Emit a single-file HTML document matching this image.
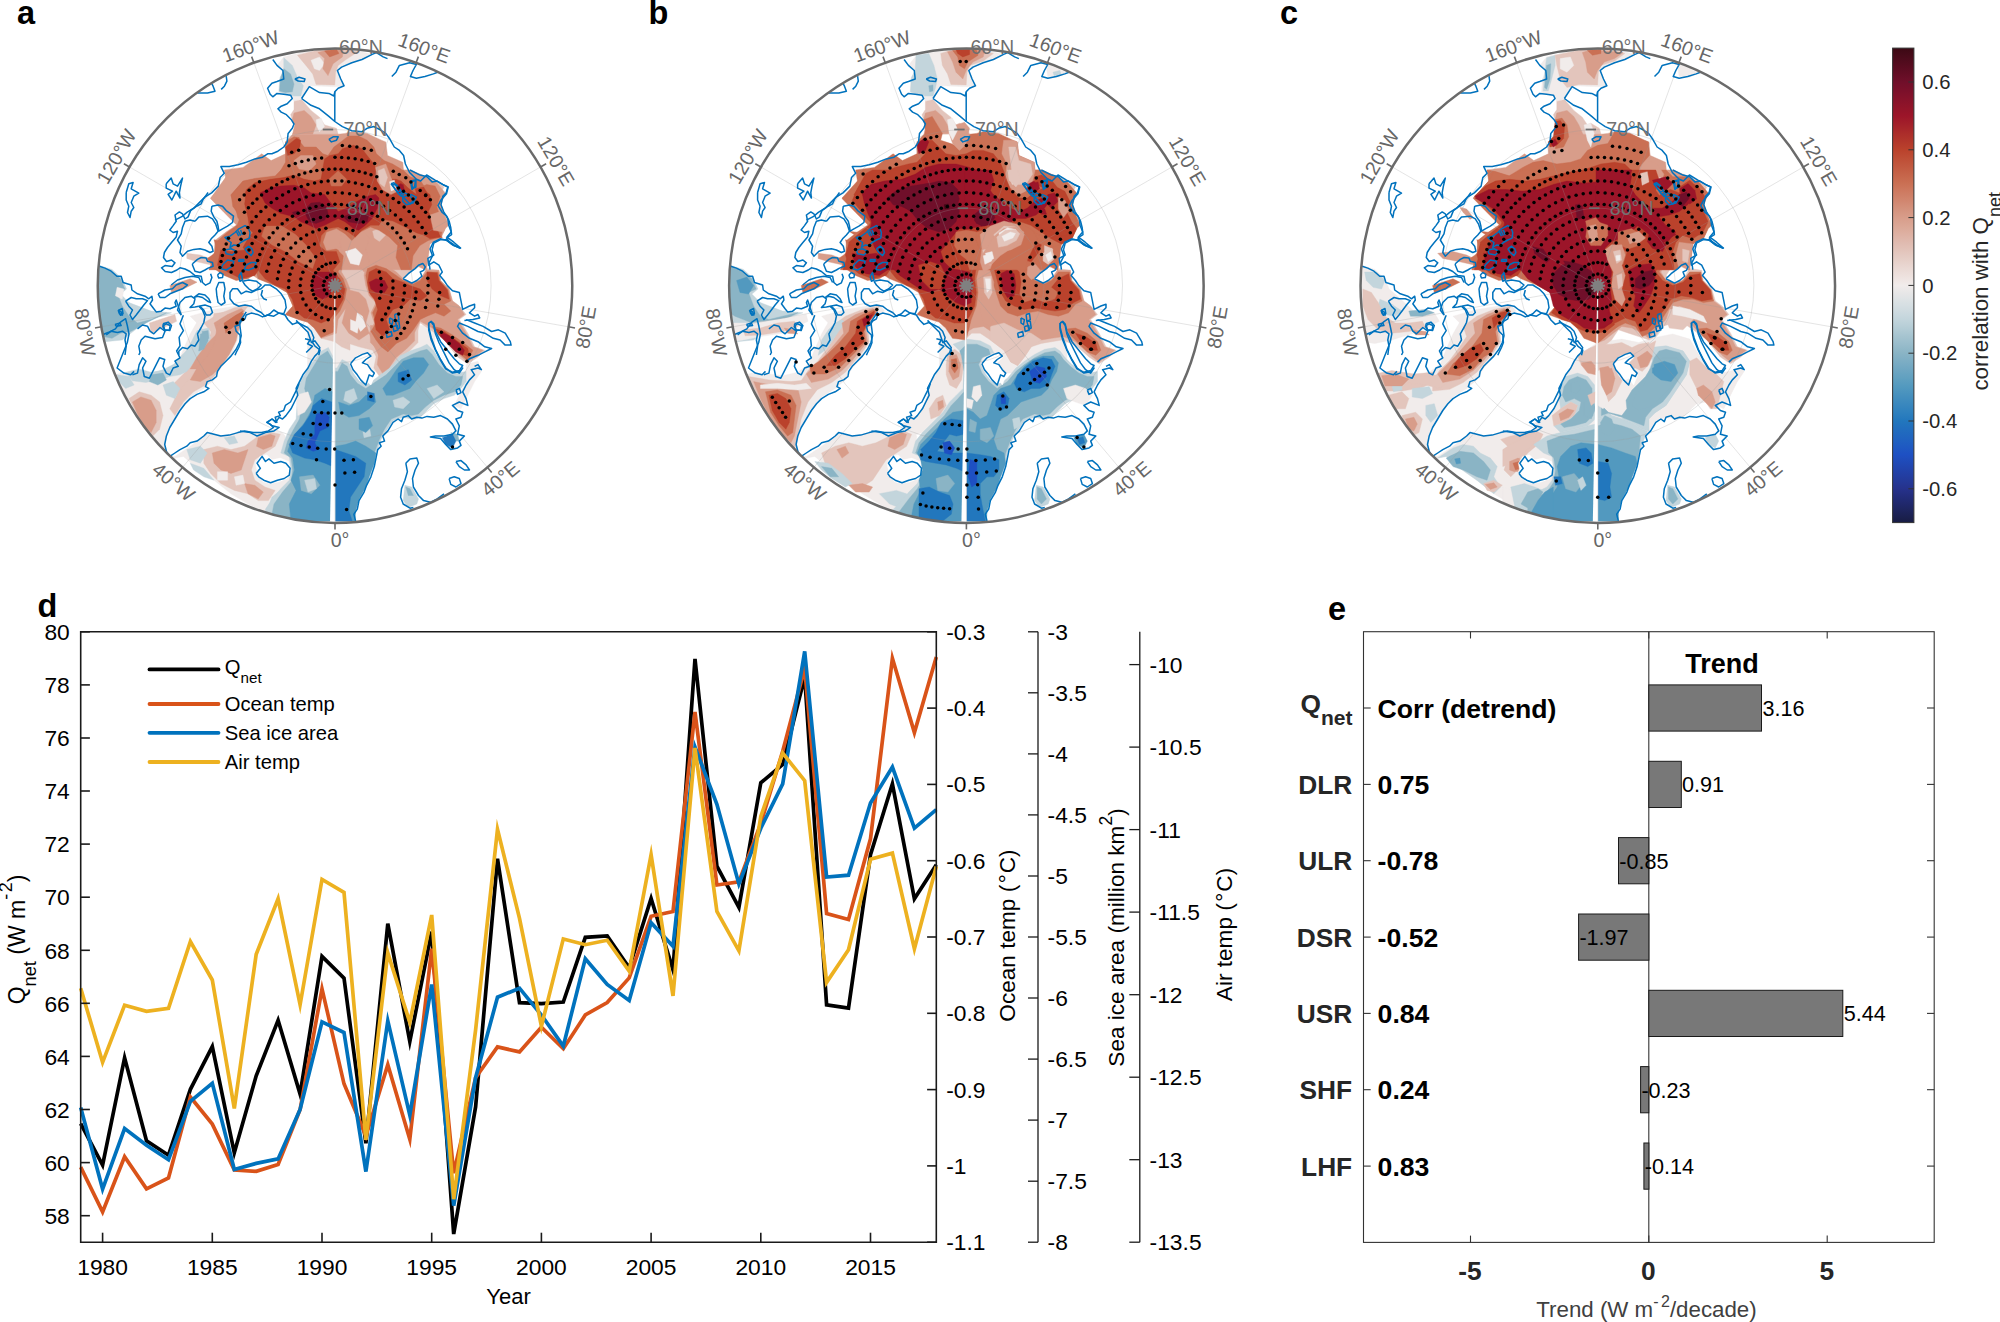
<!DOCTYPE html>
<html><head><meta charset="utf-8"><title>Figure</title>
<style>
html,body{margin:0;padding:0;background:#fff;}
body{width:2000px;height:1322px;overflow:hidden;}
svg{display:block;}
text{font-family:"Liberation Sans", Arial, Helvetica, sans-serif;}
</style></head><body>
<svg width="2000" height="1322" viewBox="0 0 2000 1322">
<rect width="2000" height="1322" fill="#fff"/>

<defs>
<clipPath id="mc0"><circle cx="335.0" cy="285.65" r="237.25"/></clipPath>
<clipPath id="mc1"><circle cx="966.4" cy="285.65" r="237.25"/></clipPath>
<clipPath id="mc2"><circle cx="1597.8" cy="285.65" r="237.25"/></clipPath>
</defs>
<g clip-path="url(#mc0)">
<polygon points="283.8,56.9 304.2,51.8 328.0,48.7 346.7,48.7 358.6,51.0 372.2,54.4 362.0,59.5 351.8,62.8 341.6,67.1 337.4,70.5 340.8,79.0 344.1,85.8 334.8,86.7 311.0,85.8 309.3,87.5 301.6,98.5 294.0,101.4 292.3,98.5 290.6,95.2 283.8,94.3 278.7,92.6 279.6,79.0 283.8,70.5 277.0,65.4" fill="#f1eceb" stroke="#f1eceb" stroke-width="0.4"/>
<polygon points="190.2,316.2 214.0,309.4 236.1,306.0 248.0,304.3 253.1,311.1 239.5,319.6 231.0,331.5 236.1,340.0 229.3,350.2 220.8,358.7 214.0,370.6 203.8,380.8 190.2,391.0 183.4,394.7 125.6,394.7 122.2,382.5 137.5,374.0 151.1,375.7 166.4,372.3 180.0,362.1 190.2,350.2 200.4,336.6 203.8,326.4 197.0,323.0" fill="#f1eceb" stroke="#f1eceb" stroke-width="0.4"/>
<polygon points="307.5,325.5 434.7,325.5 434.7,371.4 307.5,371.4" fill="#f1eceb" stroke="#f1eceb" stroke-width="0.4"/>
<polygon points="214.0,310.2 244.6,308.5 239.5,325.5 237.8,339.1 231.0,356.1 220.8,368.0 214.0,379.9 203.8,388.4 190.2,396.9 180.0,410.5 169.8,425.8 164.7,441.1 168.1,456.4 174.9,458.1 183.4,470.0 163.0,453.0 146.0,429.2 129.0,402.0 115.4,374.8 120.5,373.1 134.1,374.8 146.0,378.2 159.6,379.9 169.8,376.5 176.6,366.3 183.4,349.3 190.2,334.0 197.0,322.1" fill="#f1eceb" stroke="#f1eceb" stroke-width="0.4"/>
<polygon points="168.1,456.4 174.9,456.4 190.2,446.2 207.2,434.3 224.2,436.0 241.2,431.8 258.2,433.4 271.8,430.0 282.0,432.6 285.4,436.0 283.7,449.6 290.5,458.1 290.5,485.3 280.3,490.4 271.8,504.0 265.0,512.5 248.0,504.0 231.0,493.8 214.0,480.2 197.0,468.3 183.4,456.4 174.9,458.1" fill="#f1eceb" stroke="#f1eceb" stroke-width="0.4"/>
<polygon points="466.1,364.6 478.0,361.2 481.4,371.4 474.6,381.6 467.8,395.2 461.0,408.8 454.2,405.4 461.0,391.8 466.1,381.6" fill="#f1eceb" stroke="#f1eceb" stroke-width="0.4"/>
<polygon points="283.8,57.8 292.3,65.4 297.4,77.3 303.4,85.8 300.8,96.0 294.0,96.0 283.8,93.4 279.0,91.8 280.1,77.3 283.8,70.5" fill="#c3d5dc" stroke="#c3d5dc" stroke-width="0.4"/>
<polygon points="297.4,55.2 319.5,49.8 345.0,48.7 357.8,51.8 345.0,60.3 338.2,65.4 335.6,72.2 334.8,84.9 316.1,84.4 312.7,73.9 305.9,65.4" fill="#e3c5bc" stroke="#e3c5bc" stroke-width="0.4"/>
<polygon points="301.6,99.4 294.0,101.4 294.0,109.6 290.6,114.7 292.3,119.8 294.9,124.9 292.6,134.2 338.2,134.2 336.5,128.3 324.6,124.9 319.5,117.2 311.0,110.4" fill="#e3c5bc" stroke="#e3c5bc" stroke-width="0.4"/>
<polygon points="210.6,198.6 231.0,170.0 350.0,170.0 350.0,350.2 341.5,346.8 334.7,341.7 321.1,338.3 314.3,328.1 307.5,322.1 299.0,319.6 285.4,314.5 293.0,306.0 287.1,292.4 275.2,285.6 258.2,278.8 248.0,272.0 241.2,265.2 248.0,258.4 244.6,244.8 248.0,238.0 244.6,229.5 236.1,224.4 224.2,212.5" fill="#e3c5bc" stroke="#e3c5bc" stroke-width="0.4"/>
<polygon points="186.8,253.3 200.4,255.0 214.0,260.1 212.3,265.2 197.0,261.8 186.8,258.4" fill="#e3c5bc" stroke="#e3c5bc" stroke-width="0.4"/>
<polygon points="203.8,323.0 217.4,314.5 234.4,307.7 248.0,306.0 239.5,317.9 229.3,329.8 232.7,340.0 225.9,350.2 217.4,360.4 210.6,372.3 197.0,384.2 183.4,394.7 169.8,394.7 174.9,382.5 186.8,370.6 195.3,357.0 203.8,343.4 212.3,333.2" fill="#e3c5bc" stroke="#e3c5bc" stroke-width="0.4"/>
<polygon points="200.4,329.8 208.9,328.1 210.6,338.3 203.8,346.8 195.3,350.2 190.2,357.0 180.0,365.5 174.9,362.1 186.8,350.2 197.0,338.3" fill="#c3d5dc" stroke="#c3d5dc" stroke-width="0.4"/>
<polygon points="125.6,372.3 139.2,368.9 151.1,372.3 163.0,370.6 159.6,379.1 146.0,382.5 132.4,380.8" fill="#c3d5dc" stroke="#c3d5dc" stroke-width="0.4"/>
<polygon points="98.4,265.2 112.0,269.4 122.2,278.8 126.5,289.0 120.5,294.1 129.0,302.6 151.1,311.1 171.5,312.8 151.1,319.6 137.5,328.1 122.2,340.0 105.2,341.7 98.4,338.3" fill="#c3d5dc" stroke="#c3d5dc" stroke-width="0.4"/>
<polygon points="149.4,323.0 174.9,314.5 176.6,321.3 163.0,328.1 151.1,333.2" fill="#e3c5bc" stroke="#e3c5bc" stroke-width="0.4"/>
<polygon points="333.2,170.0 410.0,170.0 427.0,176.8 437.2,181.9 444.0,187.0 438.9,197.2 444.0,212.5 449.1,221.0 445.7,227.8 440.6,238.0 430.4,241.4 420.2,246.5 423.6,258.4 416.8,265.2 427.0,268.6 438.9,270.3 440.6,280.5 449.1,289.0 452.5,300.9 459.3,306.0 466.1,314.5 459.3,319.6 467.8,333.2 474.6,346.8 484.8,350.2 478.0,357.0 467.8,363.8 457.6,357.0 444.0,340.0 430.4,329.8 420.2,323.0 416.8,333.2 410.0,340.0 399.8,346.8 393.0,357.0 386.2,365.5 379.4,362.1 372.6,350.2 359.0,346.8 348.8,343.4 340.3,340.0 333.2,340.0" fill="#e3c5bc" stroke="#e3c5bc" stroke-width="0.4"/>
<polygon points="367.0,342.5 377.2,351.0 373.8,368.0 380.6,378.2 390.8,371.4 399.3,359.5 409.5,351.0 418.0,342.5 418.0,325.5 367.0,325.5" fill="#e3c5bc" stroke="#e3c5bc" stroke-width="0.4"/>
<polygon points="214.0,313.6 241.2,310.2 244.6,315.3 237.8,330.6 234.4,344.2 224.2,359.5 217.4,373.1 205.5,385.0 193.6,391.8 183.4,402.0 174.9,415.6 169.8,408.8 176.6,395.2 186.8,381.6 197.0,368.0 203.8,351.0 210.6,334.0" fill="#e3c5bc" stroke="#e3c5bc" stroke-width="0.4"/>
<polygon points="197.0,330.6 207.2,328.9 210.6,337.4 207.2,349.3 200.4,356.1 193.6,362.9 186.8,371.4 180.0,374.8 169.8,376.5 159.6,379.9 146.0,378.2 134.1,374.8 139.2,371.4 151.1,373.1 163.0,369.7 173.2,364.6 183.4,356.1 190.2,344.2" fill="#c3d5dc" stroke="#c3d5dc" stroke-width="0.4"/>
<polygon points="129.0,398.6 139.2,391.8 151.1,395.2 159.6,402.0 163.0,415.6 159.6,429.2 152.8,436.0 146.0,429.2 137.5,415.6" fill="#e3c5bc" stroke="#e3c5bc" stroke-width="0.4"/>
<polygon points="163.0,385.0 173.2,381.6 180.0,388.4 174.9,398.6 166.4,395.2" fill="#c3d5dc" stroke="#c3d5dc" stroke-width="0.4"/>
<polygon points="117.1,374.8 129.0,376.5 134.1,385.0 125.6,388.4 118.8,381.6" fill="#c3d5dc" stroke="#c3d5dc" stroke-width="0.4"/>
<polygon points="203.8,449.6 217.4,446.2 231.0,449.6 244.6,446.2 258.2,436.0 271.8,432.6 280.3,434.3 275.2,446.2 265.0,453.0 254.8,459.8 251.4,470.0 254.8,480.2 265.0,487.0 275.2,490.4 268.4,500.6 258.2,500.6 248.0,493.8 234.4,490.4 220.8,483.6 210.6,473.4 203.8,463.2" fill="#e3c5bc" stroke="#e3c5bc" stroke-width="0.4"/>
<polygon points="186.8,449.6 200.4,446.2 207.2,453.0 200.4,463.2 190.2,459.8" fill="#c3d5dc" stroke="#c3d5dc" stroke-width="0.4"/>
<polygon points="224.2,437.7 234.4,436.0 237.8,442.8 229.3,444.5" fill="#c3d5dc" stroke="#c3d5dc" stroke-width="0.4"/>
<polygon points="190.2,463.2 203.8,468.3 214.0,480.2 203.8,476.8 193.6,470.0" fill="#c3d5dc" stroke="#c3d5dc" stroke-width="0.4"/>
<polygon points="271.8,497.2 280.3,490.4 285.4,497.2 275.2,507.4 268.4,507.4" fill="#c3d5dc" stroke="#c3d5dc" stroke-width="0.4"/>
<polygon points="321.6,351.0 328.4,347.6 332.6,356.1 332.6,368.0 336.9,368.0 342.0,359.5 348.8,362.9 352.2,371.4 359.0,379.9 365.8,385.0 376.0,378.2 384.5,371.4 393.0,364.6 399.8,356.1 410.0,351.0 420.2,347.6 427.0,344.2 433.8,351.0 440.6,361.2 449.1,369.7 457.6,373.1 466.1,371.4 466.1,381.6 461.0,388.4 454.2,395.2 444.0,398.6 433.8,403.7 427.0,410.5 420.2,417.3 411.7,419.0 403.2,417.3 393.0,420.7 386.2,430.9 381.1,439.4 376.0,453.0 374.3,463.2 369.2,476.8 365.8,487.0 359.0,498.9 355.6,510.8 355.6,521.0 265.5,521.0 265.5,509.1 272.3,498.9 280.8,488.7 289.3,480.2 291.0,470.0 289.3,456.4 280.8,453.0 284.2,441.1 289.3,429.2 296.1,419.0 297.8,391.8 299.5,381.6 304.6,374.8 308.0,368.0 314.8,359.5" fill="#c3d5dc" stroke="#c3d5dc" stroke-width="0.4"/>
<polygon points="404.9,485.3 411.7,487.0 418.5,498.9 416.8,504.0 408.3,507.4 403.2,500.6" fill="#c3d5dc" stroke="#c3d5dc" stroke-width="0.4"/>
<polygon points="311.0,60.3 319.5,56.9 324.6,63.7 319.5,70.5 314.4,68.8" fill="#f1eceb" stroke="#f1eceb" stroke-width="0.4"/>
<polygon points="283.8,68.8 290.6,73.9 294.0,84.1 292.3,91.8 285.5,92.6 279.6,90.9 280.4,79.0" fill="#8ab4c5" stroke="#8ab4c5" stroke-width="0.4"/>
<polygon points="317.8,52.6 328.0,49.8 343.3,49.2 342.4,56.9 333.1,63.7 328.0,75.6 322.9,68.8 324.6,58.6" fill="#d89d8a" stroke="#d89d8a" stroke-width="0.4"/>
<polygon points="294.0,113.0 304.2,110.4 311.0,116.4 316.1,124.9 312.7,134.2 292.6,134.2 294.9,124.9 292.3,119.8" fill="#d89d8a" stroke="#d89d8a" stroke-width="0.4"/>
<polygon points="292.6,134.2 338.2,134.2 345.0,133.4 351.8,131.7 367.1,133.4 381.5,140.2 385.8,141.9 387.5,155.5 402.8,162.3 403.6,170.8 410.4,179.3 419.8,186.1 426.6,181.0 435.1,181.0 445.3,192.9 441.0,204.8 443.6,213.3 448.7,225.2 445.3,228.6 441.0,237.9 430.0,243.9 428.3,257.5 426.6,269.7 209.0,269.7 214.1,257.5 214.9,240.5 226.0,232.0 236.2,225.2 239.6,216.7 231.1,208.2 218.3,203.1 210.7,198.0 226.0,181.0 224.3,169.9 243.0,167.4 261.7,153.8 271.1,160.6 285.5,153.8 285.5,141.9" fill="#d89d8a" stroke="#d89d8a" stroke-width="0.4"/>
<polygon points="210.6,198.6 231.0,170.0 333.0,170.0 333.0,226.1 324.5,232.9 322.8,243.1 329.6,249.9 339.8,246.5 344.9,258.4 341.5,272.0 346.6,280.5 350.0,289.0 346.6,299.2 344.9,309.4 338.1,319.6 336.4,333.2 321.1,338.3 314.3,328.1 307.5,322.1 299.0,319.6 285.4,314.5 293.0,306.0 287.1,292.4 275.2,285.6 258.2,278.8 248.0,272.0 241.2,265.2 248.0,258.4 244.6,244.8 248.0,238.0 244.6,229.5 236.1,224.4 224.2,212.5" fill="#d89d8a" stroke="#d89d8a" stroke-width="0.4"/>
<polygon points="169.8,285.6 190.2,278.8 197.0,282.2 183.4,289.0 171.5,292.4" fill="#d89d8a" stroke="#d89d8a" stroke-width="0.4"/>
<polygon points="214.0,323.0 227.6,314.5 241.2,308.5 244.6,311.1 234.4,319.6 224.2,329.8 229.3,340.0 222.5,348.5 214.0,357.0 203.8,368.9 190.2,368.9 197.0,357.0 207.2,343.4 217.4,333.2" fill="#d89d8a" stroke="#d89d8a" stroke-width="0.4"/>
<polygon points="202.1,331.5 208.1,330.6 208.9,338.3 203.8,343.4" fill="#8ab4c5" stroke="#8ab4c5" stroke-width="0.4"/>
<polygon points="99.2,266.9 110.3,270.3 120.5,278.8 124.8,289.0 117.1,292.4 122.2,306.0 129.0,316.2 137.5,323.0 151.1,319.6 166.4,312.8 146.0,323.0 130.7,331.5 120.5,333.2 112.0,338.3 103.5,336.6 98.4,333.2" fill="#8ab4c5" stroke="#8ab4c5" stroke-width="0.4"/>
<polygon points="333.2,170.0 410.0,170.0 425.3,176.8 435.5,183.6 440.6,188.7 435.5,198.9 440.6,212.5 445.7,221.0 442.3,227.8 437.2,236.3 427.0,239.7 416.8,238.0 406.6,243.1 396.4,241.4 389.6,234.6 382.8,227.8 372.6,226.1 365.8,229.5 359.0,226.1 348.8,227.8 342.0,226.1 333.2,226.1" fill="#d89d8a" stroke="#d89d8a" stroke-width="0.4"/>
<polygon points="365.8,265.2 376.0,261.8 386.2,265.2 396.4,272.0 403.2,278.8 413.4,282.2 420.2,278.8 425.3,270.3 438.9,270.3 440.6,280.5 449.1,289.0 452.5,300.9 459.3,306.0 464.4,314.5 457.6,319.6 466.1,333.2 472.9,346.8 483.1,350.2 467.8,362.1 459.3,355.3 444.0,338.3 432.1,328.1 420.2,321.3 415.1,331.5 408.3,340.0 398.1,345.1 389.6,355.3 384.5,362.1 379.4,357.0 374.3,346.8 369.2,333.2 374.3,323.0 370.9,312.8 376.0,302.6 369.2,295.8 365.8,285.6 364.1,275.4" fill="#d89d8a" stroke="#d89d8a" stroke-width="0.4"/>
<polygon points="342.0,227.8 359.0,227.8 369.2,238.0 365.8,249.9 369.2,261.8 364.1,272.0 359.0,265.2 350.5,268.6 343.7,258.4 340.3,243.1" fill="#d89d8a" stroke="#d89d8a" stroke-width="0.4"/>
<polygon points="345.4,289.0 359.0,292.4 365.8,299.2 369.2,311.1 365.8,323.0 369.2,333.2 359.0,340.0 348.8,333.2 342.0,323.0 345.4,309.4 342.0,299.2" fill="#d89d8a" stroke="#d89d8a" stroke-width="0.4"/>
<polygon points="370.4,342.5 378.9,351.0 377.2,364.6 382.3,373.1 389.1,368.0 395.9,357.8 406.1,349.3 414.6,340.8 414.6,325.5 370.4,325.5" fill="#d89d8a" stroke="#d89d8a" stroke-width="0.4"/>
<polygon points="217.4,325.5 229.3,317.0 242.9,311.9 239.5,325.5 236.1,340.8 229.3,354.4 220.8,366.3 212.3,374.8 200.4,381.6 190.2,379.9 197.0,368.0 207.2,356.1 214.0,344.2" fill="#d89d8a" stroke="#d89d8a" stroke-width="0.4"/>
<polygon points="200.4,334.0 207.2,332.3 208.1,340.8 203.8,349.3 198.7,351.0" fill="#8ab4c5" stroke="#8ab4c5" stroke-width="0.4"/>
<polygon points="151.1,374.8 163.0,373.1 166.4,379.9 157.9,385.0 149.4,381.6" fill="#8ab4c5" stroke="#8ab4c5" stroke-width="0.4"/>
<polygon points="132.4,402.0 140.9,396.9 151.1,400.3 156.2,410.5 156.2,422.4 151.1,432.6 144.3,425.8 137.5,413.9" fill="#d89d8a" stroke="#d89d8a" stroke-width="0.4"/>
<polygon points="212.3,453.0 224.2,449.6 237.8,453.0 248.0,449.6 244.6,459.8 241.2,470.0 231.0,473.4 220.8,470.0 214.0,463.2" fill="#d89d8a" stroke="#d89d8a" stroke-width="0.4"/>
<polygon points="258.2,437.7 270.1,434.3 275.2,436.0 271.8,446.2 263.3,449.6 256.5,446.2" fill="#d89d8a" stroke="#d89d8a" stroke-width="0.4"/>
<polygon points="244.6,483.6 254.8,485.3 263.3,492.1 258.2,498.9 248.0,493.8" fill="#d89d8a" stroke="#d89d8a" stroke-width="0.4"/>
<polygon points="319.9,356.1 327.6,351.0 332.6,359.5 332.6,371.4 337.8,371.4 342.0,362.9 347.1,366.3 350.5,374.8 357.3,383.3 365.8,388.4 376.0,381.6 386.2,374.8 394.7,366.3 401.5,359.5 411.7,354.4 420.2,351.0 427.0,349.3 432.1,354.4 438.9,364.6 447.4,373.1 455.9,376.5 462.7,376.5 461.0,385.0 454.2,391.8 444.0,395.2 433.8,400.3 425.3,407.1 418.5,413.9 411.7,415.6 403.2,413.9 391.3,419.0 384.5,429.2 379.4,439.4 374.3,453.0 372.6,463.2 367.5,476.8 364.1,487.0 357.3,498.9 353.9,510.8 353.9,521.0 270.6,521.0 274.0,504.0 282.5,492.1 291.0,481.9 292.7,470.0 291.0,458.1 284.2,453.0 287.6,441.1 292.7,430.9 299.5,419.0 301.2,408.8 308.0,402.0 304.6,388.4 306.3,378.2 311.4,369.7" fill="#8ab4c5" stroke="#8ab4c5" stroke-width="0.4"/>
<polygon points="450.8,432.6 457.6,434.3 459.3,441.1 454.2,441.1" fill="#8ab4c5" stroke="#8ab4c5" stroke-width="0.4"/>
<polygon points="405.8,487.0 410.0,488.7 413.4,495.5 408.3,495.5" fill="#8ab4c5" stroke="#8ab4c5" stroke-width="0.4"/>
<polygon points="372.6,231.2 381.1,227.8 386.2,234.6 379.4,241.4 374.3,238.0" fill="#e3c5bc" stroke="#e3c5bc" stroke-width="0.4"/>
<polygon points="316.1,119.8 321.2,118.1 324.6,126.6 319.5,131.7 316.9,126.6" fill="#f1eceb" stroke="#f1eceb" stroke-width="0.4"/>
<polygon points="117.1,287.3 123.9,289.0 122.2,299.2 115.4,295.8" fill="#f1eceb" stroke="#f1eceb" stroke-width="0.4"/>
<polygon points="345.4,251.6 355.6,248.2 362.4,255.0 359.0,265.2 350.5,263.5" fill="#f1eceb" stroke="#f1eceb" stroke-width="0.4"/>
<polygon points="357.3,312.8 362.4,316.2 365.8,326.4 360.7,331.5 355.6,323.0" fill="#f1eceb" stroke="#f1eceb" stroke-width="0.4"/>
<polygon points="350.5,319.6 359.0,323.0 357.3,333.2 350.5,329.8" fill="#f1eceb" stroke="#f1eceb" stroke-width="0.4"/>
<polygon points="217.4,471.7 227.6,471.7 227.6,480.2 217.4,480.2" fill="#f1eceb" stroke="#f1eceb" stroke-width="0.4"/>
<polygon points="234.4,476.8 242.9,475.1 244.6,483.6 236.1,485.3" fill="#f1eceb" stroke="#f1eceb" stroke-width="0.4"/>
<polygon points="296.1,395.2 308.0,391.8 311.4,402.0 304.6,412.2 297.8,415.6" fill="#f1eceb" stroke="#f1eceb" stroke-width="0.4"/>
<polygon points="345.4,391.8 353.9,388.4 357.3,398.6 350.5,403.7 343.7,400.3" fill="#c3d5dc" stroke="#c3d5dc" stroke-width="0.4"/>
<polygon points="393.0,400.3 403.2,396.9 410.0,402.0 403.2,408.8 394.7,407.1" fill="#c3d5dc" stroke="#c3d5dc" stroke-width="0.4"/>
<polygon points="427.0,388.4 437.2,385.0 444.0,391.8 433.8,398.6" fill="#c3d5dc" stroke="#c3d5dc" stroke-width="0.4"/>
<polygon points="362.4,429.2 369.2,425.8 370.9,436.0 364.1,437.7" fill="#c3d5dc" stroke="#c3d5dc" stroke-width="0.4"/>
<polygon points="324.6,51.0 336.5,49.2 339.0,53.5 329.7,56.9" fill="#ca7054" stroke="#ca7054" stroke-width="0.4"/>
<polygon points="285.5,141.9 294.0,136.8 299.1,137.6 300.8,142.8 304.2,147.0 316.1,147.0 322.9,153.8 328.0,155.5 333.9,147.0 340.8,141.9 348.4,135.9 358.6,135.9 367.1,140.2 373.9,147.0 376.4,153.8 384.1,160.6 392.6,164.0 401.1,169.1 404.5,175.9 413.0,182.7 419.8,187.8 426.6,184.4 435.1,186.1 440.2,196.3 436.8,206.5 440.2,216.7 443.6,228.6 440.2,237.1 428.3,240.5 419.8,245.6 413.0,255.8 411.3,269.7 401.1,269.7 396.0,257.5 397.7,245.6 389.2,237.1 379.0,230.3 370.5,226.9 360.3,232.0 351.8,240.5 345.0,233.7 336.5,228.6 326.3,232.0 322.9,242.2 326.3,250.7 336.5,249.0 343.3,255.8 341.6,269.7 209.0,269.7 214.1,257.5 215.8,242.2 227.7,232.0 237.1,225.2 240.4,216.7 232.8,206.5 231.1,194.6 243.0,181.0 254.9,178.4 275.3,175.9 280.4,170.8 285.5,162.3 285.5,153.8" fill="#ca7054" stroke="#ca7054" stroke-width="0.4"/>
<polygon points="231.0,195.5 242.9,181.6 254.8,179.0 275.2,176.5 281.1,170.0 333.0,170.0 333.0,226.1 322.8,234.6 319.4,244.8 327.9,251.6 338.1,249.9 341.5,261.8 338.1,272.0 343.2,278.8 346.6,289.0 344.9,299.2 339.8,311.1 333.0,319.6 334.7,331.5 321.1,337.4 314.3,328.1 307.5,322.1 299.0,319.6 285.4,314.5 293.0,306.0 287.1,292.4 275.2,285.6 258.2,278.8 254.8,265.2 256.5,251.6 248.0,241.4 251.4,231.2 244.6,227.8 237.8,217.6 234.4,204.0" fill="#ca7054" stroke="#ca7054" stroke-width="0.4"/>
<polygon points="214.0,239.7 224.2,243.1 241.2,244.8 253.1,241.4 258.2,251.6 265.0,261.8 258.2,272.0 248.0,278.8 236.1,280.5 224.2,275.4 214.0,268.6 207.2,258.4 212.3,255.0 217.4,249.9" fill="#ca7054" stroke="#ca7054" stroke-width="0.4"/>
<polygon points="224.2,323.0 234.4,316.2 242.9,311.1 239.5,317.9 231.0,326.4 225.9,333.2" fill="#ca7054" stroke="#ca7054" stroke-width="0.4"/>
<polygon points="333.2,170.0 403.2,170.0 410.0,176.8 420.2,180.2 427.0,190.4 423.6,200.6 416.8,198.9 410.0,190.4 403.2,188.7 399.8,197.2 406.6,209.1 416.8,214.2 427.0,226.1 440.6,232.9 442.3,238.0 430.4,238.0 420.2,234.6 410.0,229.5 399.8,224.4 389.6,219.3 379.4,221.0 369.2,224.4 359.0,222.7 348.8,226.1 342.0,224.4 333.2,224.4" fill="#ca7054" stroke="#ca7054" stroke-width="0.4"/>
<polygon points="367.5,268.6 376.0,265.2 386.2,268.6 396.4,275.4 403.2,280.5 413.4,283.9 420.2,280.5 427.0,272.0 438.0,272.0 439.8,280.5 448.2,289.9 450.8,300.9 444.0,304.3 450.8,311.1 444.0,316.2 435.5,312.8 427.0,316.2 420.2,319.6 413.4,329.8 406.6,338.3 396.4,343.4 387.9,351.9 381.1,346.8 376.0,340.0 370.9,331.5 376.0,323.0 372.6,312.8 377.7,302.6 370.9,295.8 367.5,285.6 365.8,275.4" fill="#ca7054" stroke="#ca7054" stroke-width="0.4"/>
<polygon points="432.1,326.4 440.6,328.1 452.5,334.9 464.4,343.4 472.9,350.2 467.8,360.4 459.3,353.6 447.4,341.7 437.2,333.2" fill="#ca7054" stroke="#ca7054" stroke-width="0.4"/>
<polygon points="224.2,323.8 236.1,315.3 243.8,312.8 239.5,322.1 231.0,328.9 225.9,330.6" fill="#ca7054" stroke="#ca7054" stroke-width="0.4"/>
<polygon points="314.8,395.2 325.0,388.4 332.6,391.8 332.6,521.0 291.0,521.0 289.3,504.0 296.1,490.4 291.0,480.2 294.4,470.0 292.7,458.1 287.6,451.3 291.0,441.1 297.8,430.9 304.6,422.4 311.4,410.5" fill="#5299bf" stroke="#5299bf" stroke-width="0.4"/>
<polygon points="382.8,388.4 389.6,379.9 396.4,369.7 403.2,361.2 413.4,357.8 423.6,357.8 428.7,364.6 423.6,373.1 416.8,379.9 410.0,388.4 401.5,391.8 393.0,395.2 386.2,395.2" fill="#5299bf" stroke="#5299bf" stroke-width="0.4"/>
<polygon points="338.6,402.0 348.8,405.4 359.0,402.0 365.8,395.2 374.3,395.2 376.0,402.0 369.2,408.8 359.0,415.6 348.8,417.3 340.3,412.2" fill="#5299bf" stroke="#5299bf" stroke-width="0.4"/>
<polygon points="359.0,419.0 369.2,417.3 372.6,425.8 365.8,432.6 359.0,429.2" fill="#5299bf" stroke="#5299bf" stroke-width="0.4"/>
<polygon points="335.2,446.2 345.4,444.5 355.6,441.1 365.8,446.2 376.0,453.0 374.3,463.2 369.2,476.8 365.8,487.0 359.0,498.9 355.6,510.8 354.8,521.0 335.2,521.0" fill="#5299bf" stroke="#5299bf" stroke-width="0.4"/>
<polygon points="411.7,204.0 420.2,209.1 427.0,221.0 420.2,226.1 413.4,217.6" fill="#e3c5bc" stroke="#e3c5bc" stroke-width="0.4"/>
<polygon points="376.0,175.1 382.8,173.4 384.5,183.6 379.4,187.0" fill="#e3c5bc" stroke="#e3c5bc" stroke-width="0.4"/>
<polygon points="299.5,476.8 313.1,475.1 319.9,485.3 311.4,493.8 301.2,490.4" fill="#8ab4c5" stroke="#8ab4c5" stroke-width="0.4"/>
<polygon points="304.6,480.2 314.8,478.5 316.5,488.7 308.0,492.1" fill="#c3d5dc" stroke="#c3d5dc" stroke-width="0.4"/>
<polygon points="246.4,189.5 254.9,182.7 270.2,179.3 283.8,177.6 294.0,175.0 304.2,179.3 314.4,181.0 321.2,179.3 322.9,167.4 324.6,158.9 329.7,155.5 338.2,153.8 342.4,148.7 353.5,145.3 362.0,148.7 367.1,155.5 373.9,164.0 377.3,172.5 385.8,179.3 396.0,179.3 401.1,181.0 407.9,187.8 416.4,194.6 421.5,198.0 424.9,191.2 430.0,194.6 431.7,204.8 428.3,211.6 433.4,221.8 438.5,232.0 440.2,237.1 430.0,238.8 419.8,232.0 411.3,225.2 401.1,218.4 392.6,215.0 384.1,216.7 379.0,225.2 370.5,225.2 362.0,230.3 355.2,237.1 348.4,232.0 338.2,226.9 328.0,228.6 321.2,235.4 319.5,245.6 322.9,254.1 324.6,269.7 246.4,269.7 249.8,257.5 243.0,247.3 249.8,235.4 260.0,226.9 254.9,215.0 248.1,203.1 244.7,194.6" fill="#ba422c" stroke="#ba422c" stroke-width="0.4"/>
<polygon points="285.5,147.0 296.6,138.2 300.5,140.2 299.9,147.0 294.0,153.8 287.2,155.5" fill="#ba422c" stroke="#ba422c" stroke-width="0.4"/>
<polygon points="246.3,192.1 254.8,183.3 270.1,179.9 283.7,178.2 293.9,175.6 304.1,179.9 314.3,181.6 321.1,179.9 323.6,170.0 333.0,170.0 333.0,221.0 322.8,226.1 316.0,234.6 317.7,244.8 326.2,251.6 336.4,251.6 339.8,261.8 333.0,270.3 339.8,278.8 344.9,289.0 343.2,299.2 336.4,311.1 329.6,319.6 321.1,323.0 312.6,319.6 304.1,317.9 295.6,311.1 292.2,299.2 285.4,289.0 275.2,285.6 265.0,278.8 258.2,270.3 265.0,261.8 258.2,251.6 251.4,244.8 254.8,234.6 249.7,229.5 248.0,217.6 244.6,204.0" fill="#ba422c" stroke="#ba422c" stroke-width="0.4"/>
<polygon points="220.8,249.9 231.0,251.6 244.6,249.9 254.8,255.0 261.6,265.2 254.8,275.4 241.2,278.8 227.6,272.0 217.4,265.2" fill="#ba422c" stroke="#ba422c" stroke-width="0.4"/>
<polygon points="333.2,170.0 376.0,170.0 374.3,180.2 379.4,192.1 386.2,204.0 396.4,212.5 410.0,219.3 423.6,227.8 440.6,236.3 430.4,237.1 416.8,232.9 403.2,226.1 393.0,221.0 382.8,219.3 372.6,222.7 362.4,221.0 352.2,224.4 342.0,222.7 333.2,222.7" fill="#ba422c" stroke="#ba422c" stroke-width="0.4"/>
<polygon points="415.1,188.7 423.6,187.0 428.7,195.5 425.3,204.0 418.5,202.3" fill="#ba422c" stroke="#ba422c" stroke-width="0.4"/>
<polygon points="369.2,272.0 376.0,268.6 386.2,272.0 393.0,278.8 403.2,282.2 410.0,285.6 420.2,289.0 427.0,295.8 420.2,300.9 410.0,299.2 403.2,306.0 393.0,309.4 386.2,319.6 389.6,329.8 382.8,336.6 376.0,329.8 374.3,319.6 377.7,309.4 374.3,299.2 369.2,292.4 367.5,282.2" fill="#ba422c" stroke="#ba422c" stroke-width="0.4"/>
<polygon points="427.0,272.0 437.2,272.9 438.9,280.5 447.4,289.9 449.1,299.2 440.6,295.8 432.1,289.0 427.0,280.5" fill="#ba422c" stroke="#ba422c" stroke-width="0.4"/>
<polygon points="435.5,328.9 444.0,331.5 455.9,340.0 467.8,348.5 469.5,357.0 461.0,353.6 449.1,341.7 438.9,334.9" fill="#ba422c" stroke="#ba422c" stroke-width="0.4"/>
<polygon points="313.1,405.4 321.6,398.6 331.8,402.0 332.6,466.6 325.0,463.2 314.8,459.8 304.6,458.1 292.7,453.0 289.3,444.5 294.4,434.3 302.9,425.8 309.7,415.6" fill="#2277bd" stroke="#2277bd" stroke-width="0.4"/>
<polygon points="335.2,449.6 345.4,453.0 355.6,456.4 365.8,463.2 364.1,476.8 357.3,487.0 350.5,497.2 348.8,510.8 352.2,521.0 335.2,521.0" fill="#2277bd" stroke="#2277bd" stroke-width="0.4"/>
<polygon points="398.1,373.1 408.3,369.7 411.7,379.9 404.9,385.0 398.1,381.6" fill="#2277bd" stroke="#2277bd" stroke-width="0.4"/>
<polygon points="367.5,391.8 374.3,393.5 374.3,402.0 367.5,400.3" fill="#2277bd" stroke="#2277bd" stroke-width="0.4"/>
<polygon points="442.3,437.7 452.5,434.3 455.9,441.1 452.5,447.9 445.7,444.5" fill="#2277bd" stroke="#2277bd" stroke-width="0.4"/>
<polygon points="260.0,192.9 270.2,187.8 280.4,186.1 294.0,185.2 304.2,187.8 311.0,192.9 324.6,194.6 329.7,201.4 338.2,211.6 346.7,208.2 356.9,201.4 367.1,196.3 375.6,194.6 379.0,198.0 377.3,208.2 372.2,218.4 365.4,225.2 358.6,230.3 353.5,228.6 345.0,221.8 338.2,218.4 331.4,221.8 324.6,225.2 316.1,228.6 309.3,225.2 300.8,221.8 294.0,216.7 287.2,215.0 280.4,213.3 271.9,208.2 265.1,203.1" fill="#9c1529" stroke="#9c1529" stroke-width="0.4"/>
<polygon points="396.0,186.1 401.1,183.5 404.5,189.5 401.1,194.6 396.9,191.2" fill="#9c1529" stroke="#9c1529" stroke-width="0.4"/>
<polygon points="314.3,272.0 329.6,272.0 336.4,275.4 333.0,285.6 329.6,295.8 322.8,299.2 316.0,295.8 310.9,285.6" fill="#9c1529" stroke="#9c1529" stroke-width="0.4"/>
<polygon points="369.2,282.2 376.0,278.8 384.5,280.5 387.9,287.3 384.5,292.4 376.0,292.4 370.9,289.0" fill="#9c1529" stroke="#9c1529" stroke-width="0.4"/>
<polygon points="440.6,331.5 449.1,335.8 459.3,343.4 464.4,350.2 462.7,355.3 455.9,351.9 447.4,343.4 440.6,336.6" fill="#9c1529" stroke="#9c1529" stroke-width="0.4"/>
<polygon points="397.2,186.2 403.2,184.4 404.0,190.4 399.8,192.9" fill="#9c1529" stroke="#9c1529" stroke-width="0.4"/>
<polygon points="316.5,413.9 325.0,412.2 329.2,417.3 327.6,427.5 319.9,430.9 314.8,442.8 318.2,449.6 313.1,451.3 306.3,447.9 308.0,441.1 314.8,434.3 314.8,422.4" fill="#1e50c3" stroke="#1e50c3" stroke-width="0.4"/>
<polygon points="305.9,208.2 311.0,203.1 319.5,202.2 326.3,206.5 328.0,213.3 324.6,220.1 316.1,223.5 309.3,221.8 305.9,215.0" fill="#700f2a" stroke="#700f2a" stroke-width="0.4"/>
<polygon points="292.3,212.4 297.4,210.8 300.8,213.3 294.0,215.0" fill="#700f2a" stroke="#700f2a" stroke-width="0.4"/>
<polygon points="343.3,216.7 351.8,213.3 362.0,214.1 368.8,215.0 367.1,221.8 358.6,223.5 348.4,221.8" fill="#700f2a" stroke="#700f2a" stroke-width="0.4"/>
<polygon points="294.0,160.6 300.8,155.5 312.7,155.5 316.1,164.0 309.3,170.8 299.1,169.1" fill="#d89d8a" stroke="#d89d8a" stroke-width="0.4"/>
<polygon points="328.9,179.3 338.2,170.8 346.7,179.3 341.6,186.1 331.4,186.1" fill="#ca7054" stroke="#ca7054" stroke-width="0.4"/>
<polygon points="265.0,226.1 282.0,226.1 295.6,234.6 305.8,244.8 316.0,258.4 312.6,268.6 299.0,261.8 285.4,251.6 271.8,244.8 261.6,236.3" fill="#ca7054" stroke="#ca7054" stroke-width="0.4"/>
<polygon points="375.6,167.4 385.8,164.0 390.9,177.6 397.7,191.2 390.9,194.6 382.4,189.5 377.3,181.0" fill="#d89d8a" stroke="#d89d8a" stroke-width="0.4"/>
<polygon points="430.0,215.0 440.2,211.6 447.0,223.5 443.6,232.0 433.4,230.3" fill="#d89d8a" stroke="#d89d8a" stroke-width="0.4"/>
<polygon points="378.1,170.8 384.1,168.2 387.5,177.6 384.4,186.9 379.9,183.5" fill="#e3c5bc" stroke="#e3c5bc" stroke-width="0.4"/>
<polygon points="389.5,181.8 394.3,180.1 395.7,189.2 391.2,190.9" fill="#f1eceb" stroke="#f1eceb" stroke-width="0.4"/>
<polygon points="403.2,278.8 410.0,272.0 418.5,266.9 425.3,270.3 420.2,278.8 413.4,282.2 406.6,280.5" fill="#ffffff" stroke="#ffffff" stroke-width="0.4"/>
<polygon points="255.6,463.2 259.9,456.4 266.7,454.7 271.8,459.8 280.3,458.1 288.8,461.5 290.5,470.0 287.1,478.5 278.6,481.9 270.1,483.6 263.3,481.9 258.2,475.1 256.5,468.3" fill="#ffffff" stroke="#ffffff" stroke-width="0.4"/>
<polygon points="350.0,362.9 356.8,356.1 367.0,352.7 370.4,357.8 365.3,362.9 370.4,371.4 375.5,374.8 370.4,385.0 365.3,378.2 360.2,381.6 355.1,374.8 351.7,368.0" fill="#ffffff" stroke="#ffffff" stroke-width="0.4"/>
<polygon points="350.5,362.9 357.3,356.1 367.5,352.7 370.9,357.8 365.8,362.9 370.9,371.4 375.1,374.8 370.9,385.0 365.8,378.2 360.7,381.6 355.6,374.8 352.2,368.0" fill="#ffffff" stroke="#ffffff" stroke-width="0.4"/>
<polygon points="334.4,291.65 335.3,291.65 335.3,522.9 330.0,522.9" fill="#fff"/>
<line x1="335.0" y1="285.65" x2="335.0" y2="522.9" stroke="#999" stroke-opacity="0.45" stroke-width="0.6"/>
<line x1="335.0" y1="285.65" x2="487.5" y2="467.4" stroke="#999" stroke-opacity="0.45" stroke-width="0.6"/>
<line x1="335.0" y1="285.65" x2="568.6" y2="326.8" stroke="#999" stroke-opacity="0.45" stroke-width="0.6"/>
<line x1="335.0" y1="285.65" x2="540.5" y2="167.0" stroke="#999" stroke-opacity="0.45" stroke-width="0.6"/>
<line x1="335.0" y1="285.65" x2="416.1" y2="62.7" stroke="#999" stroke-opacity="0.45" stroke-width="0.6"/>
<line x1="335.0" y1="285.65" x2="253.9" y2="62.7" stroke="#999" stroke-opacity="0.45" stroke-width="0.6"/>
<line x1="335.0" y1="285.65" x2="129.5" y2="167.0" stroke="#999" stroke-opacity="0.45" stroke-width="0.6"/>
<line x1="335.0" y1="285.65" x2="101.4" y2="326.8" stroke="#999" stroke-opacity="0.45" stroke-width="0.6"/>
<line x1="335.0" y1="285.65" x2="182.5" y2="467.4" stroke="#999" stroke-opacity="0.45" stroke-width="0.6"/>
<circle cx="335.0" cy="285.65" r="156.1" fill="none" stroke="#999" stroke-opacity="0.45" stroke-width="0.6"/>
<circle cx="335.0" cy="285.65" r="77.5" fill="none" stroke="#999" stroke-opacity="0.45" stroke-width="0.6"/>
<polyline points="272.8,59.5 277.0,65.4 282.9,70.5 283.8,79.0 277.0,81.5 271.9,83.2 267.6,88.3 270.2,94.3 272.8,96.8 277.0,93.4 283.8,94.3 290.6,95.2 292.3,98.5 287.2,103.7 281.2,106.2 277.9,108.8 281.2,112.1 286.4,114.7 291.4,119.8 294.0,124.0 292.3,128.3 288.1,133.4 287.2,141.9 283.8,147.0 277.9,151.2 271.9,153.8 267.6,153.8 262.6,157.2 254.9,158.9 246.4,162.3 237.9,164.8 229.4,166.6 220.9,166.6 224.3,173.3 220.1,177.6 218.3,186.1 211.6,192.9 204.8,197.1 198.8,203.1 193.7,208.2 186.9,212.4 181.8,216.7 175.0,220.1" fill="none" stroke="#0072bd" stroke-width="1.5" stroke-linejoin="round"/>
<polyline points="301.6,98.5 309.3,86.7 319.5,92.6 328.9,93.4 333.9,96.0 334.8,91.8 338.2,88.3 344.1,85.8 340.8,79.0 337.4,70.5 341.6,67.1 351.8,62.8 362.0,59.5 372.2,54.4 376.4,52.6 383.2,56.9 387.5,58.6" fill="none" stroke="#0072bd" stroke-width="1.5" stroke-linejoin="round"/>
<polyline points="301.6,98.5 311.0,105.3 319.5,108.8 328.9,116.4 334.8,121.5 342.4,126.6 351.8,130.8 362.0,131.7 367.1,128.3 373.9,126.6 380.7,130.0 385.8,133.4 390.0,139.3 394.3,147.0 399.4,150.4 403.6,155.5 405.4,164.0 409.6,172.5 416.4,179.3 420.6,181.0 426.6,175.0 435.1,180.1 442.8,184.4 447.8,186.9 446.1,192.9 442.8,196.3 441.0,204.8 443.6,211.6 447.8,218.4 448.7,225.2 451.2,232.0 447.0,237.1 453.8,242.2 460.6,248.1 453.8,245.6 447.0,240.5 440.2,238.8 433.4,242.2 430.0,249.0 432.5,255.8 429.1,262.6 430.0,269.7" fill="none" stroke="#0072bd" stroke-width="1.5" stroke-linejoin="round"/>
<polyline points="334.8,91.8 334.8,121.5" fill="none" stroke="#0072bd" stroke-width="1.5" stroke-linejoin="round"/>
<polyline points="391.8,76.5 396.0,72.2 399.4,65.4 409.6,62.8 416.4,64.5 413.0,70.5 410.4,76.5 416.4,78.2 424.9,76.5 433.4,73.9 437.6,72.2" fill="none" stroke="#0072bd" stroke-width="1.5" stroke-linejoin="round"/>
<polyline points="328.9,139.3 333.1,136.8 338.2,136.8 336.5,140.2 331.4,141.9 328.9,139.3" fill="none" stroke="#0072bd" stroke-width="1.5" stroke-linejoin="round"/>
<polyline points="294.9,79.0 299.1,77.3 305.0,79.0 304.2,81.5 298.2,81.0 294.9,79.0" fill="none" stroke="#0072bd" stroke-width="1.5" stroke-linejoin="round"/>
<polyline points="390.9,183.5 394.3,187.8 397.7,192.9 401.1,196.3 403.6,194.6 399.4,189.5 396.0,185.2 390.9,183.5" fill="none" stroke="#0072bd" stroke-width="1.5" stroke-linejoin="round"/>
<polyline points="402.8,197.1 411.3,194.6 416.4,197.1 413.0,203.1 406.2,204.8 402.8,201.4 402.8,197.1" fill="none" stroke="#0072bd" stroke-width="1.5" stroke-linejoin="round"/>
<polyline points="410.4,181.0 415.5,180.1 414.7,186.1 412.1,189.5 410.4,181.0" fill="none" stroke="#0072bd" stroke-width="1.5" stroke-linejoin="round"/>
<polyline points="197.5,93.1 207.5,93.1 215.0,91.2 213.1,86.2 211.9,83.8" fill="none" stroke="#0072bd" stroke-width="1.5" stroke-linejoin="round"/>
<polyline points="221.2,89.4 224.4,86.2 226.9,81.2 226.2,76.2" fill="none" stroke="#0072bd" stroke-width="1.5" stroke-linejoin="round"/>
<polyline points="166.2,183.8 171.2,178.1 173.1,183.8 177.5,186.2 182.5,178.1 180.6,186.2 179.4,192.5 180.0,198.1 176.2,191.2 171.9,200.0 168.1,194.4 172.5,191.2 166.2,188.1 166.2,183.8" fill="none" stroke="#0072bd" stroke-width="1.5" stroke-linejoin="round"/>
<polyline points="126.2,192.5 128.8,183.8 133.1,182.5 131.2,188.8 138.8,193.1 133.8,196.2 131.2,202.5 133.8,207.5 131.2,211.2 130.0,217.5 127.5,212.5 128.8,206.2 126.2,200.0 126.2,192.5" fill="none" stroke="#0072bd" stroke-width="1.5" stroke-linejoin="round"/>
<polyline points="208.1,192.5 203.1,199.4 201.2,203.8 195.6,206.9 190.6,210.6 188.1,216.9 185.0,219.0 182.5,213.8 179.4,211.9 175.0,215.0 176.2,221.2 173.1,225.6 169.8,230.0 173.1,232.5 177.5,231.2 176.2,236.9 171.5,242.5 167.5,247.5 164.4,252.5 163.5,257.5 166.5,261.5 171.5,260.0 175.0,262.8 172.2,266.5 165.0,265.6 161.5,267.8 165.2,271.5 171.5,272.5 176.9,270.0 180.0,267.8 185.0,269.0 190.0,271.5 195.0,275.6 201.2,276.2 202.5,282.5 205.6,285.2 210.0,282.8 211.9,277.5 210.6,273.8" fill="none" stroke="#0072bd" stroke-width="1.5" stroke-linejoin="round"/>
<polyline points="211.9,206.2 218.1,205.0 222.5,206.2 226.2,210.6 230.6,213.8 233.5,216.2 232.5,222.5 227.5,226.2 222.5,228.8 218.8,231.2 218.1,226.2 216.9,221.2 213.8,216.9 211.2,211.2 211.9,206.2" fill="none" stroke="#0072bd" stroke-width="1.5" stroke-linejoin="round"/>
<polyline points="195.0,221.2 198.8,216.9 207.5,216.2 212.5,218.8 215.6,223.8 218.1,231.2 215.0,235.0 211.2,238.8 208.8,242.5 211.9,246.2 213.1,251.2 210.0,252.5 205.0,250.0 200.0,248.8 193.8,249.4 187.5,251.2 182.5,256.2 180.0,252.5 181.2,246.2 177.5,240.0 181.2,233.8 182.5,227.5 185.0,221.2 190.0,220.0 195.0,221.2" fill="none" stroke="#0072bd" stroke-width="1.5" stroke-linejoin="round"/>
<polyline points="235.0,232.5 238.8,228.8 245.0,225.6 248.1,227.5 250.0,232.5 249.4,238.1 245.0,240.0 240.6,242.5 237.5,245.6 233.8,245.0 230.0,247.5 231.2,242.5 227.5,240.0 225.0,237.5 230.0,236.2 235.0,232.5" fill="none" stroke="#0072bd" stroke-width="1.5" stroke-linejoin="round"/>
<polyline points="236.2,231.2 238.8,236.2" fill="none" stroke="#0072bd" stroke-width="1.5" stroke-linejoin="round"/>
<polyline points="238.1,230.6 240.6,235.6" fill="none" stroke="#0072bd" stroke-width="1.5" stroke-linejoin="round"/>
<polyline points="240.6,230.0 242.5,235.0" fill="none" stroke="#0072bd" stroke-width="1.5" stroke-linejoin="round"/>
<polyline points="245.0,248.8 248.8,246.2 251.9,248.8 253.1,252.5 251.2,255.6 247.5,252.5 245.0,248.8" fill="none" stroke="#0072bd" stroke-width="1.5" stroke-linejoin="round"/>
<polyline points="225.0,250.0 231.2,248.8 236.2,251.2 232.5,255.0 226.2,253.8 225.0,250.0" fill="none" stroke="#0072bd" stroke-width="1.5" stroke-linejoin="round"/>
<polyline points="222.5,265.0 227.5,260.0 233.8,261.2 232.5,266.2 226.2,270.0 221.2,268.8 222.5,265.0" fill="none" stroke="#0072bd" stroke-width="1.5" stroke-linejoin="round"/>
<polyline points="246.2,265.0 251.2,262.5 256.2,262.5 254.4,267.5 248.8,270.0 244.4,269.4 246.2,265.0" fill="none" stroke="#0072bd" stroke-width="1.5" stroke-linejoin="round"/>
<polyline points="238.8,259.4 243.8,259.4 243.8,261.2 238.8,261.2 238.8,259.4" fill="none" stroke="#0072bd" stroke-width="1.5" stroke-linejoin="round"/>
<polyline points="217.5,275.0 220.0,272.5 223.1,274.4 222.5,277.5 218.8,278.1 217.5,275.0" fill="none" stroke="#0072bd" stroke-width="1.5" stroke-linejoin="round"/>
<polyline points="238.8,276.2 241.2,272.5 242.5,280.0 240.0,281.2 238.8,276.2" fill="none" stroke="#0072bd" stroke-width="1.5" stroke-linejoin="round"/>
<polyline points="192.5,263.8 197.5,259.4 201.2,257.5 206.2,258.1 207.5,261.2 212.5,262.5 213.1,266.2 208.1,268.1 205.0,270.0 200.0,272.5 195.0,271.2 192.5,265.0 192.5,263.8" fill="none" stroke="#0072bd" stroke-width="1.5" stroke-linejoin="round"/>
<polyline points="171.2,285.0 177.5,280.0 185.0,277.5 192.5,276.2 198.8,277.5 201.2,282.5" fill="none" stroke="#0072bd" stroke-width="1.5" stroke-linejoin="round"/>
<polyline points="242.5,281.2 248.8,280.0 256.2,281.2 261.2,285.0 257.5,288.8 252.5,291.2 248.8,288.8 245.0,285.0 242.5,281.2" fill="none" stroke="#0072bd" stroke-width="1.5" stroke-linejoin="round"/>
<polyline points="261.2,288.8 265.0,285.0 270.0,285.0 276.2,288.8 281.2,293.8 285.0,300.0 286.2,307.5 283.8,313.8 278.8,313.1 273.8,310.0 270.0,313.8 265.0,316.2 261.2,312.5 256.2,310.0 251.2,306.2 245.0,305.0 238.8,306.2 233.8,303.8 230.0,298.8 230.0,292.5 232.5,288.8 237.5,288.8 241.2,293.8 246.2,291.2 251.2,292.5 256.2,290.0 261.2,288.8" fill="none" stroke="#0072bd" stroke-width="1.5" stroke-linejoin="round"/>
<polyline points="262.5,290.0 261.2,295.0 263.8,298.8 266.9,300.0" fill="none" stroke="#0072bd" stroke-width="1.5" stroke-linejoin="round"/>
<polyline points="216.2,288.8 218.8,282.5 223.8,282.5 225.0,288.8 223.8,296.2 225.0,302.5 221.2,305.0 218.1,302.5 216.9,296.2 216.2,288.8" fill="none" stroke="#0072bd" stroke-width="1.5" stroke-linejoin="round"/>
<polyline points="193.8,297.5 198.8,293.8 205.0,295.0 208.8,298.8 210.6,302.5 207.5,301.2 202.5,297.5 197.5,296.2 193.8,297.5" fill="none" stroke="#0072bd" stroke-width="1.5" stroke-linejoin="round"/>
<polyline points="198.8,306.2 205.0,305.0 210.6,306.9 212.5,312.5 210.0,315.0 206.2,315.0 203.8,310.0 201.2,307.5 198.8,306.2" fill="none" stroke="#0072bd" stroke-width="1.5" stroke-linejoin="round"/>
<polyline points="158.1,293.8 165.0,290.0 172.5,288.8 176.2,285.0 182.5,282.5 187.5,285.0 182.5,288.8 176.2,291.2 170.0,293.8 165.0,297.5 160.0,297.5 158.1,293.8" fill="none" stroke="#0072bd" stroke-width="1.5" stroke-linejoin="round"/>
<polyline points="181.2,315.0 177.5,310.0 180.0,302.5 185.0,297.5 191.2,296.2 195.0,298.8 193.8,303.8 190.0,307.5 195.0,306.9 198.8,306.2" fill="none" stroke="#0072bd" stroke-width="1.5" stroke-linejoin="round"/>
<polyline points="99.4,266.2 105.0,268.1 111.2,271.2 116.9,276.2 121.2,276.2 123.1,282.5 131.2,285.0 131.9,290.0 137.5,293.8 145.0,296.2 148.8,298.8 151.9,296.2 152.5,300.0 150.0,303.8 153.8,308.8 156.2,311.9 161.2,311.2 165.0,308.1 170.0,308.8 176.2,306.2 175.0,302.5 176.2,300.0 181.2,315.0" fill="none" stroke="#0072bd" stroke-width="1.5" stroke-linejoin="round"/>
<polyline points="125.6,301.2 131.2,297.5 136.2,298.8 142.5,298.8 147.5,300.6 143.8,305.0 140.0,310.0 136.2,315.0 132.5,319.4 130.0,315.0 132.5,310.0 128.8,306.2 125.6,301.2" fill="none" stroke="#0072bd" stroke-width="1.5" stroke-linejoin="round"/>
<polyline points="118.1,310.0 121.2,311.9 122.5,315.0 119.4,313.8 118.1,310.0" fill="none" stroke="#0072bd" stroke-width="1.5" stroke-linejoin="round"/>
<polyline points="115.0,324.4 120.0,323.1 121.2,325.6 116.2,326.2 115.0,324.4" fill="none" stroke="#0072bd" stroke-width="1.5" stroke-linejoin="round"/>
<polyline points="106.2,335.0 111.2,331.2 117.5,332.5 122.5,331.2 126.2,333.8 125.0,340.0 126.2,346.2 125.0,355.0" fill="none" stroke="#0072bd" stroke-width="1.5" stroke-linejoin="round"/>
<polyline points="137.5,328.8 142.5,325.0 147.5,326.2 150.0,331.2 153.8,333.8 160.0,327.5 165.0,331.2 162.5,337.5 155.0,338.8 150.0,337.5 145.0,336.2 141.2,340.0 138.8,346.2 140.0,352.5 138.8,355.0" fill="none" stroke="#0072bd" stroke-width="1.5" stroke-linejoin="round"/>
<polyline points="162.5,326.2 166.2,323.8 170.0,325.6 169.4,330.0 165.0,330.6 162.5,326.2" fill="none" stroke="#0072bd" stroke-width="1.5" stroke-linejoin="round"/>
<polyline points="198.8,306.2 202.5,310.0 205.0,316.2 203.8,322.5 201.2,327.5 197.5,333.8 198.8,340.0 195.0,346.2 191.2,345.0 187.5,348.8 182.5,347.5 178.8,351.2 178.8,355.0" fill="none" stroke="#0072bd" stroke-width="1.5" stroke-linejoin="round"/>
<polyline points="235.0,355.2 236.2,352.5 238.8,347.5 240.6,342.5 240.0,335.0 236.2,331.2 235.0,326.2 238.8,325.0 241.2,321.2 245.0,318.8 246.2,315.0 251.2,313.1 257.5,314.4 262.5,316.9 267.5,315.0 273.8,316.2 278.8,313.1 285.0,315.0 288.1,320.0 292.5,324.4 297.5,322.5 302.5,325.0 307.5,327.5 311.2,331.2 313.8,337.5 312.5,342.5 315.0,346.2 320.0,350.0 318.8,355.2" fill="none" stroke="#0072bd" stroke-width="1.5" stroke-linejoin="round"/>
<polyline points="305.0,338.8 310.0,340.0 307.5,343.8 312.5,346.2 310.0,348.8 306.2,352.5" fill="none" stroke="#0072bd" stroke-width="1.5" stroke-linejoin="round"/>
<polyline points="410.0,170.0 420.2,175.1 427.0,176.8 432.1,181.9 437.2,181.1 444.0,185.3 448.2,187.0 446.5,193.8 440.6,200.6 438.0,205.7 442.3,212.5 446.5,215.9 449.1,221.0 450.8,227.8 451.6,234.6 446.5,238.0 449.1,241.4 454.2,244.8 460.1,248.2 452.5,244.8 445.7,239.7 440.6,239.7 433.8,243.1 432.1,249.9 433.8,255.0 427.9,258.4 428.7,265.2 433.8,261.8 438.9,265.2 442.3,272.0 439.8,275.4 444.0,280.5 447.4,285.6 452.5,290.7 459.3,292.4 461.0,300.9 462.7,309.4 469.5,306.0 474.6,304.3 474.6,307.7 469.5,312.8 474.6,316.2 478.0,314.5 479.7,317.9 472.9,319.6 464.4,320.4" fill="none" stroke="#0072bd" stroke-width="1.5" stroke-linejoin="round"/>
<polyline points="466.1,319.6 474.6,323.0 483.1,326.4 491.6,331.5 498.4,329.8 505.2,333.2 510.3,341.7 511.1,345.1 505.2,345.1 500.1,340.0 493.3,338.3 484.8,333.2 478.0,331.5 467.8,326.4 459.3,323.0 457.6,326.4 462.7,333.2 469.5,338.3 478.0,341.7 484.8,346.8 491.6,348.5 484.8,351.9 478.0,355.3 469.5,358.7 466.1,362.1" fill="none" stroke="#0072bd" stroke-width="1.5" stroke-linejoin="round"/>
<polyline points="391.3,183.6 394.7,188.7 398.1,192.1 400.6,190.4 397.2,185.3 393.9,182.8 391.3,183.6" fill="none" stroke="#0072bd" stroke-width="1.5" stroke-linejoin="round"/>
<polyline points="399.8,193.8 404.9,198.9 410.0,204.0 413.4,200.6 410.0,195.5 403.2,192.1 399.8,193.8" fill="none" stroke="#0072bd" stroke-width="1.5" stroke-linejoin="round"/>
<polyline points="411.7,181.9 415.9,180.2 415.9,187.0 412.5,188.7 411.7,181.9" fill="none" stroke="#0072bd" stroke-width="1.5" stroke-linejoin="round"/>
<polyline points="403.2,278.8 408.3,273.7 415.1,268.6 418.5,265.2 422.8,263.5 425.3,266.9 423.6,270.3 420.2,272.0 421.9,276.2 416.8,280.5 411.7,283.1 406.6,280.5 403.2,278.8" fill="none" stroke="#0072bd" stroke-width="1.5" stroke-linejoin="round"/>
<polyline points="389.6,317.9 393.0,319.6 392.1,324.7 389.6,323.0 389.6,317.9" fill="none" stroke="#0072bd" stroke-width="1.5" stroke-linejoin="round"/>
<polyline points="394.7,314.5 398.1,313.6 398.9,319.6 395.5,321.3 394.7,314.5" fill="none" stroke="#0072bd" stroke-width="1.5" stroke-linejoin="round"/>
<polyline points="393.0,326.4 397.2,325.5 398.1,329.8 393.9,331.5 393.0,326.4" fill="none" stroke="#0072bd" stroke-width="1.5" stroke-linejoin="round"/>
<polyline points="386.2,333.2 391.3,331.5 392.1,335.8 387.0,337.4 386.2,333.2" fill="none" stroke="#0072bd" stroke-width="1.5" stroke-linejoin="round"/>
<polyline points="395.5,321.3 398.9,321.3 399.8,328.1 397.2,328.9 395.5,321.3" fill="none" stroke="#0072bd" stroke-width="1.5" stroke-linejoin="round"/>
<polyline points="428.7,323.0 431.2,321.3 433.8,323.9 435.5,331.5 440.6,341.7 447.4,350.2 454.2,358.7 459.3,363.8 462.7,365.5 459.3,370.6 452.5,372.3 445.7,368.9 440.6,360.4 435.5,350.2 431.2,340.0 428.7,329.8 428.7,323.0" fill="none" stroke="#0072bd" stroke-width="1.5" stroke-linejoin="round"/>
<polyline points="296.1,320.4 302.9,327.2 308.0,332.3 311.4,342.5 314.8,340.8 319.9,347.6 318.2,352.7 314.8,356.1 311.4,361.2 308.0,368.0 302.9,374.8 299.5,381.6 296.1,388.4 297.8,395.2 294.4,402.0 291.0,408.8 285.9,415.6 282.5,419.0 279.1,417.3 275.7,422.4 272.3,419.0 267.2,422.4 272.3,425.8 279.1,427.5 274.0,430.9 265.5,432.6 257.0,436.0 250.2,432.6 240.0,430.9" fill="none" stroke="#0072bd" stroke-width="1.5" stroke-linejoin="round"/>
<polyline points="256.1,473.4 260.4,468.3 257.0,463.2 262.1,456.4 265.5,461.5 268.9,458.9 274.0,463.2 280.8,461.5 285.9,463.2 290.1,468.3 289.3,475.1 284.2,478.5 277.4,480.2 270.6,482.8 263.8,480.2 258.7,476.8 256.1,473.4" fill="none" stroke="#0072bd" stroke-width="1.5" stroke-linejoin="round"/>
<polyline points="350.5,363.8 355.6,357.8 362.4,354.4 367.5,352.7 370.9,356.1 365.8,359.5 362.4,362.9 367.5,364.6 370.9,369.7 374.3,373.1 372.6,376.5 369.2,374.8 367.5,379.9 365.8,385.0 360.7,379.9 357.3,374.8 353.1,369.7 350.5,363.8" fill="none" stroke="#0072bd" stroke-width="1.5" stroke-linejoin="round"/>
<polyline points="355.6,521.0 353.9,514.2 357.3,509.1 359.0,500.6 364.1,492.1 366.6,485.3 370.9,476.8 374.3,466.6 376.0,458.1 377.7,449.6 381.1,446.2 379.4,442.8 384.5,441.1 382.8,436.0 387.9,430.9 393.0,422.4 398.1,419.0 401.5,421.6 403.2,417.3 408.3,415.6 411.7,419.0 416.8,417.3 421.9,418.1 427.0,416.4 433.8,417.3 440.6,415.6 447.4,419.0 452.5,424.1 455.9,430.9 452.5,434.3 444.0,436.0 435.5,436.0 430.4,436.9 440.6,438.5 445.7,444.5 450.8,449.6 457.6,447.9 461.0,445.4 459.3,441.1 464.4,436.0 457.6,434.3 459.3,425.8 455.9,419.0 461.0,417.3 462.7,412.2 457.6,410.5 452.5,405.4 459.3,402.0 467.8,405.4 466.1,398.6 462.7,391.8 466.1,385.0 469.5,379.9 474.6,374.8 471.2,369.7 478.0,368.0 481.4,369.7 478.0,364.6 474.6,366.3" fill="none" stroke="#0072bd" stroke-width="1.5" stroke-linejoin="round"/>
<polyline points="428.7,322.9 431.2,322.1 433.8,325.5 435.5,334.0 438.9,342.5 444.0,352.7 449.1,362.9 454.2,369.7 459.3,373.1 462.7,368.0 460.1,371.4 452.5,373.1 445.7,368.0 440.6,359.5 435.5,349.3 431.2,337.4 428.7,327.2 428.7,322.9" fill="none" stroke="#0072bd" stroke-width="1.5" stroke-linejoin="round"/>
<polyline points="405.8,463.2 410.0,458.9 416.8,458.1 418.5,463.2 415.1,470.0 412.5,478.5 413.4,487.0 418.5,495.5 423.6,500.6 430.4,502.3 437.2,498.9 444.0,493.8" fill="none" stroke="#0072bd" stroke-width="1.5" stroke-linejoin="round"/>
<polyline points="405.8,463.2 407.4,471.7 404.9,480.2 401.5,488.7 400.6,497.2 403.2,504.0 410.0,508.2 413.4,507.4" fill="none" stroke="#0072bd" stroke-width="1.5" stroke-linejoin="round"/>
<polyline points="449.1,478.5 454.2,476.8 459.3,478.5 461.0,483.6 455.9,487.0 450.8,484.4 449.1,478.5" fill="none" stroke="#0072bd" stroke-width="1.5" stroke-linejoin="round"/>
<polyline points="455.9,461.5 461.0,460.6 466.1,464.9 469.5,470.0 464.4,470.0 459.3,466.6 455.9,461.5" fill="none" stroke="#0072bd" stroke-width="1.5" stroke-linejoin="round"/>
<polyline points="455.9,390.1 459.3,388.4 461.0,392.6 457.6,394.4 455.9,390.1" fill="none" stroke="#0072bd" stroke-width="1.5" stroke-linejoin="round"/>
<polyline points="246.3,311.9 242.9,317.0 239.5,322.1 240.3,328.9 241.2,335.7 239.5,342.5 236.1,349.3 231.0,356.1 225.9,361.2 220.8,366.3 217.4,371.4 216.6,376.5 212.3,379.9 207.2,381.6 205.5,386.7 208.9,388.4 203.8,391.8 197.0,394.4 190.2,398.6 185.1,403.7 180.0,410.5 174.9,419.0 169.8,427.5 166.4,436.0 164.7,444.5 166.4,451.3 169.8,456.4 174.9,453.0 180.0,449.6 186.8,446.2 190.2,442.8 197.0,441.1 203.8,436.0 207.2,432.6 214.0,434.3 220.8,436.0 229.3,435.1 237.8,432.6 244.6,430.9 253.1,432.6 261.6,432.6 268.4,430.9 273.5,427.5 270.1,424.1 266.7,422.4 271.8,419.0 276.9,422.4 275.2,417.3 280.3,415.6 278.6,412.2 283.7,410.5 285.4,405.4 290.5,402.0 293.9,395.2 297.3,388.4 299.0,383.3" fill="none" stroke="#0072bd" stroke-width="1.5" stroke-linejoin="round"/>
<polyline points="100.1,335.7 108.6,332.3 115.4,328.9 120.5,322.1 125.6,318.7 127.3,325.5 129.0,334.0 127.3,342.5 123.9,351.0 120.5,359.5 117.1,368.0 123.9,373.1 130.7,374.8 134.1,371.4" fill="none" stroke="#0072bd" stroke-width="1.5" stroke-linejoin="round"/>
<polyline points="183.4,315.3 180.0,323.8 183.4,330.6 179.1,337.4 180.0,345.9 176.6,351.0 180.0,357.8 174.9,361.2 178.3,366.3 173.2,368.0 169.8,374.8 166.4,373.1 163.0,366.3 164.7,359.5 159.6,357.8 156.2,364.6 152.8,371.4 149.4,378.2 144.3,376.5 142.6,368.0 146.0,361.2 142.6,357.8 139.2,364.6 137.5,373.1 132.4,374.8" fill="none" stroke="#0072bd" stroke-width="1.5" stroke-linejoin="round"/>
<polyline points="118.8,310.2 122.2,308.5 123.0,313.6 120.5,315.3 118.8,310.2" fill="none" stroke="#0072bd" stroke-width="1.5" stroke-linejoin="round"/>
<polyline points="163.0,323.8 168.1,322.1 171.5,325.5 169.8,330.6 164.7,329.8 163.0,323.8" fill="none" stroke="#0072bd" stroke-width="1.5" stroke-linejoin="round"/>
<g fill="#000">
<circle cx="335.0" cy="297.2" r="1.75"/>
<circle cx="339.4" cy="296.4" r="1.75"/>
<circle cx="335.0" cy="274.1" r="1.75"/>
<circle cx="330.6" cy="274.9" r="1.75"/>
<circle cx="326.8" cy="277.5" r="1.75"/>
<circle cx="324.3" cy="281.2" r="1.75"/>
<circle cx="323.4" cy="285.6" r="1.75"/>
<circle cx="324.3" cy="290.1" r="1.75"/>
<circle cx="326.8" cy="293.8" r="1.75"/>
<circle cx="330.6" cy="296.4" r="1.75"/>
<circle cx="335.0" cy="308.8" r="1.75"/>
<circle cx="335.0" cy="262.5" r="1.75"/>
<circle cx="330.5" cy="262.9" r="1.75"/>
<circle cx="326.1" cy="264.2" r="1.75"/>
<circle cx="322.1" cy="266.4" r="1.75"/>
<circle cx="318.6" cy="269.3" r="1.75"/>
<circle cx="315.7" cy="272.8" r="1.75"/>
<circle cx="313.6" cy="276.8" r="1.75"/>
<circle cx="312.3" cy="281.1" r="1.75"/>
<circle cx="311.8" cy="285.6" r="1.75"/>
<circle cx="312.3" cy="290.2" r="1.75"/>
<circle cx="313.6" cy="294.5" r="1.75"/>
<circle cx="315.7" cy="298.5" r="1.75"/>
<circle cx="318.6" cy="302.0" r="1.75"/>
<circle cx="322.1" cy="304.9" r="1.75"/>
<circle cx="326.1" cy="307.1" r="1.75"/>
<circle cx="330.5" cy="308.4" r="1.75"/>
<circle cx="321.7" cy="253.5" r="1.75"/>
<circle cx="315.7" cy="256.7" r="1.75"/>
<circle cx="310.4" cy="261.1" r="1.75"/>
<circle cx="306.1" cy="266.3" r="1.75"/>
<circle cx="302.9" cy="272.3" r="1.75"/>
<circle cx="300.9" cy="278.9" r="1.75"/>
<circle cx="300.2" cy="285.6" r="1.75"/>
<circle cx="300.9" cy="292.4" r="1.75"/>
<circle cx="302.9" cy="299.0" r="1.75"/>
<circle cx="306.1" cy="305.0" r="1.75"/>
<circle cx="310.4" cy="310.2" r="1.75"/>
<circle cx="315.7" cy="314.6" r="1.75"/>
<circle cx="321.7" cy="317.8" r="1.75"/>
<circle cx="328.2" cy="319.8" r="1.75"/>
<circle cx="379.7" cy="298.2" r="1.75"/>
<circle cx="381.0" cy="291.7" r="1.75"/>
<circle cx="381.4" cy="285.0" r="1.75"/>
<circle cx="380.8" cy="278.4" r="1.75"/>
<circle cx="379.3" cy="271.9" r="1.75"/>
<circle cx="314.5" cy="244.0" r="1.75"/>
<circle cx="308.7" cy="247.4" r="1.75"/>
<circle cx="303.5" cy="251.6" r="1.75"/>
<circle cx="298.9" cy="256.4" r="1.75"/>
<circle cx="295.1" cy="261.9" r="1.75"/>
<circle cx="292.1" cy="267.9" r="1.75"/>
<circle cx="290.0" cy="274.2" r="1.75"/>
<circle cx="288.9" cy="280.8" r="1.75"/>
<circle cx="288.6" cy="287.5" r="1.75"/>
<circle cx="297.1" cy="312.4" r="1.75"/>
<circle cx="324.2" cy="330.8" r="1.75"/>
<circle cx="382.0" cy="319.8" r="1.75"/>
<circle cx="385.6" cy="314.0" r="1.75"/>
<circle cx="388.6" cy="307.9" r="1.75"/>
<circle cx="390.9" cy="301.4" r="1.75"/>
<circle cx="392.3" cy="294.7" r="1.75"/>
<circle cx="393.0" cy="287.9" r="1.75"/>
<circle cx="392.9" cy="281.1" r="1.75"/>
<circle cx="352.9" cy="230.5" r="1.75"/>
<circle cx="346.3" cy="228.7" r="1.75"/>
<circle cx="325.9" cy="228.3" r="1.75"/>
<circle cx="319.2" cy="229.8" r="1.75"/>
<circle cx="312.8" cy="232.0" r="1.75"/>
<circle cx="306.6" cy="235.0" r="1.75"/>
<circle cx="300.9" cy="238.7" r="1.75"/>
<circle cx="295.6" cy="243.0" r="1.75"/>
<circle cx="290.9" cy="248.0" r="1.75"/>
<circle cx="286.7" cy="253.4" r="1.75"/>
<circle cx="283.3" cy="259.3" r="1.75"/>
<circle cx="280.6" cy="265.6" r="1.75"/>
<circle cx="278.6" cy="272.1" r="1.75"/>
<circle cx="277.4" cy="278.8" r="1.75"/>
<circle cx="381.6" cy="337.4" r="1.75"/>
<circle cx="386.8" cy="332.3" r="1.75"/>
<circle cx="391.4" cy="326.6" r="1.75"/>
<circle cx="395.3" cy="320.5" r="1.75"/>
<circle cx="398.7" cy="314.0" r="1.75"/>
<circle cx="401.3" cy="307.2" r="1.75"/>
<circle cx="403.2" cy="300.1" r="1.75"/>
<circle cx="404.3" cy="292.9" r="1.75"/>
<circle cx="404.7" cy="285.6" r="1.75"/>
<circle cx="363.3" cy="222.0" r="1.75"/>
<circle cx="356.5" cy="219.4" r="1.75"/>
<circle cx="349.5" cy="217.5" r="1.75"/>
<circle cx="342.3" cy="216.3" r="1.75"/>
<circle cx="335.0" cy="216.0" r="1.75"/>
<circle cx="327.7" cy="216.3" r="1.75"/>
<circle cx="320.5" cy="217.5" r="1.75"/>
<circle cx="313.5" cy="219.4" r="1.75"/>
<circle cx="306.7" cy="222.0" r="1.75"/>
<circle cx="300.2" cy="225.3" r="1.75"/>
<circle cx="294.0" cy="229.3" r="1.75"/>
<circle cx="288.4" cy="233.9" r="1.75"/>
<circle cx="283.2" cy="239.0" r="1.75"/>
<circle cx="278.6" cy="244.7" r="1.75"/>
<circle cx="274.7" cy="250.8" r="1.75"/>
<circle cx="271.3" cy="257.3" r="1.75"/>
<circle cx="268.7" cy="264.1" r="1.75"/>
<circle cx="266.8" cy="271.2" r="1.75"/>
<circle cx="396.9" cy="338.5" r="1.75"/>
<circle cx="400.8" cy="333.5" r="1.75"/>
<circle cx="404.4" cy="328.2" r="1.75"/>
<circle cx="407.5" cy="322.6" r="1.75"/>
<circle cx="410.2" cy="316.8" r="1.75"/>
<circle cx="412.4" cy="310.8" r="1.75"/>
<circle cx="414.1" cy="304.6" r="1.75"/>
<circle cx="415.4" cy="298.4" r="1.75"/>
<circle cx="416.1" cy="292.0" r="1.75"/>
<circle cx="407.5" cy="248.7" r="1.75"/>
<circle cx="404.4" cy="243.1" r="1.75"/>
<circle cx="400.8" cy="237.8" r="1.75"/>
<circle cx="396.9" cy="232.8" r="1.75"/>
<circle cx="392.5" cy="228.1" r="1.75"/>
<circle cx="387.8" cy="223.8" r="1.75"/>
<circle cx="382.8" cy="219.8" r="1.75"/>
<circle cx="377.5" cy="216.3" r="1.75"/>
<circle cx="371.9" cy="213.2" r="1.75"/>
<circle cx="366.1" cy="210.5" r="1.75"/>
<circle cx="360.1" cy="208.3" r="1.75"/>
<circle cx="354.0" cy="206.5" r="1.75"/>
<circle cx="347.7" cy="205.3" r="1.75"/>
<circle cx="341.4" cy="204.5" r="1.75"/>
<circle cx="335.0" cy="204.3" r="1.75"/>
<circle cx="328.6" cy="204.5" r="1.75"/>
<circle cx="322.3" cy="205.3" r="1.75"/>
<circle cx="316.0" cy="206.5" r="1.75"/>
<circle cx="309.9" cy="208.3" r="1.75"/>
<circle cx="303.9" cy="210.5" r="1.75"/>
<circle cx="298.1" cy="213.2" r="1.75"/>
<circle cx="292.5" cy="216.3" r="1.75"/>
<circle cx="287.2" cy="219.8" r="1.75"/>
<circle cx="282.2" cy="223.8" r="1.75"/>
<circle cx="277.5" cy="228.1" r="1.75"/>
<circle cx="273.1" cy="232.8" r="1.75"/>
<circle cx="269.2" cy="237.8" r="1.75"/>
<circle cx="265.6" cy="243.1" r="1.75"/>
<circle cx="262.5" cy="248.7" r="1.75"/>
<circle cx="259.8" cy="254.5" r="1.75"/>
<circle cx="257.6" cy="260.5" r="1.75"/>
<circle cx="255.9" cy="266.7" r="1.75"/>
<circle cx="425.5" cy="307.4" r="1.75"/>
<circle cx="426.9" cy="300.2" r="1.75"/>
<circle cx="427.8" cy="293.0" r="1.75"/>
<circle cx="428.1" cy="285.6" r="1.75"/>
<circle cx="427.8" cy="278.3" r="1.75"/>
<circle cx="414.3" cy="237.0" r="1.75"/>
<circle cx="410.3" cy="230.9" r="1.75"/>
<circle cx="405.8" cy="225.2" r="1.75"/>
<circle cx="400.8" cy="219.8" r="1.75"/>
<circle cx="395.4" cy="214.9" r="1.75"/>
<circle cx="389.7" cy="210.4" r="1.75"/>
<circle cx="383.6" cy="206.3" r="1.75"/>
<circle cx="377.2" cy="202.7" r="1.75"/>
<circle cx="370.6" cy="199.7" r="1.75"/>
<circle cx="363.8" cy="197.1" r="1.75"/>
<circle cx="356.7" cy="195.2" r="1.75"/>
<circle cx="349.6" cy="193.7" r="1.75"/>
<circle cx="342.3" cy="192.9" r="1.75"/>
<circle cx="335.0" cy="192.6" r="1.75"/>
<circle cx="327.7" cy="192.9" r="1.75"/>
<circle cx="320.4" cy="193.7" r="1.75"/>
<circle cx="313.3" cy="195.2" r="1.75"/>
<circle cx="306.2" cy="197.1" r="1.75"/>
<circle cx="299.4" cy="199.7" r="1.75"/>
<circle cx="292.8" cy="202.7" r="1.75"/>
<circle cx="286.4" cy="206.3" r="1.75"/>
<circle cx="280.3" cy="210.4" r="1.75"/>
<circle cx="274.6" cy="214.9" r="1.75"/>
<circle cx="269.2" cy="219.8" r="1.75"/>
<circle cx="264.2" cy="225.2" r="1.75"/>
<circle cx="259.7" cy="230.9" r="1.75"/>
<circle cx="255.7" cy="237.0" r="1.75"/>
<circle cx="252.1" cy="243.4" r="1.75"/>
<circle cx="249.0" cy="250.0" r="1.75"/>
<circle cx="246.5" cy="256.9" r="1.75"/>
<circle cx="244.5" cy="263.9" r="1.75"/>
<circle cx="243.1" cy="271.1" r="1.75"/>
<circle cx="437.8" cy="306.1" r="1.75"/>
<circle cx="438.9" cy="299.3" r="1.75"/>
<circle cx="439.6" cy="292.5" r="1.75"/>
<circle cx="425.8" cy="233.3" r="1.75"/>
<circle cx="422.1" cy="227.4" r="1.75"/>
<circle cx="418.1" cy="221.9" r="1.75"/>
<circle cx="413.8" cy="216.6" r="1.75"/>
<circle cx="409.1" cy="211.5" r="1.75"/>
<circle cx="404.1" cy="206.9" r="1.75"/>
<circle cx="398.8" cy="202.5" r="1.75"/>
<circle cx="393.2" cy="198.5" r="1.75"/>
<circle cx="387.4" cy="194.9" r="1.75"/>
<circle cx="381.4" cy="191.7" r="1.75"/>
<circle cx="375.1" cy="188.8" r="1.75"/>
<circle cx="368.7" cy="186.4" r="1.75"/>
<circle cx="362.1" cy="184.4" r="1.75"/>
<circle cx="355.4" cy="182.9" r="1.75"/>
<circle cx="348.7" cy="181.7" r="1.75"/>
<circle cx="341.9" cy="181.1" r="1.75"/>
<circle cx="335.0" cy="180.9" r="1.75"/>
<circle cx="328.1" cy="181.1" r="1.75"/>
<circle cx="321.3" cy="181.7" r="1.75"/>
<circle cx="314.6" cy="182.9" r="1.75"/>
<circle cx="307.9" cy="184.4" r="1.75"/>
<circle cx="301.3" cy="186.4" r="1.75"/>
<circle cx="294.9" cy="188.8" r="1.75"/>
<circle cx="288.6" cy="191.7" r="1.75"/>
<circle cx="282.6" cy="194.9" r="1.75"/>
<circle cx="276.8" cy="198.5" r="1.75"/>
<circle cx="271.2" cy="202.5" r="1.75"/>
<circle cx="265.9" cy="206.9" r="1.75"/>
<circle cx="260.9" cy="211.5" r="1.75"/>
<circle cx="256.2" cy="216.6" r="1.75"/>
<circle cx="251.9" cy="221.9" r="1.75"/>
<circle cx="247.9" cy="227.4" r="1.75"/>
<circle cx="244.2" cy="233.3" r="1.75"/>
<circle cx="241.0" cy="239.3" r="1.75"/>
<circle cx="238.2" cy="245.5" r="1.75"/>
<circle cx="235.8" cy="252.0" r="1.75"/>
<circle cx="233.8" cy="258.5" r="1.75"/>
<circle cx="232.2" cy="265.2" r="1.75"/>
<circle cx="231.1" cy="272.0" r="1.75"/>
<circle cx="429.3" cy="217.1" r="1.75"/>
<circle cx="425.6" cy="212.3" r="1.75"/>
<circle cx="421.6" cy="207.7" r="1.75"/>
<circle cx="417.4" cy="203.2" r="1.75"/>
<circle cx="413.0" cy="199.0" r="1.75"/>
<circle cx="408.4" cy="195.1" r="1.75"/>
<circle cx="403.5" cy="191.3" r="1.75"/>
<circle cx="398.5" cy="187.9" r="1.75"/>
<circle cx="376.8" cy="176.8" r="1.75"/>
<circle cx="371.0" cy="174.8" r="1.75"/>
<circle cx="365.2" cy="173.1" r="1.75"/>
<circle cx="359.2" cy="171.6" r="1.75"/>
<circle cx="353.2" cy="170.5" r="1.75"/>
<circle cx="347.2" cy="169.7" r="1.75"/>
<circle cx="341.1" cy="169.2" r="1.75"/>
<circle cx="335.0" cy="169.1" r="1.75"/>
<circle cx="328.9" cy="169.2" r="1.75"/>
<circle cx="322.8" cy="169.7" r="1.75"/>
<circle cx="316.8" cy="170.5" r="1.75"/>
<circle cx="310.8" cy="171.6" r="1.75"/>
<circle cx="304.8" cy="173.1" r="1.75"/>
<circle cx="299.0" cy="174.8" r="1.75"/>
<circle cx="293.2" cy="176.8" r="1.75"/>
<circle cx="287.6" cy="179.2" r="1.75"/>
<circle cx="282.1" cy="181.8" r="1.75"/>
<circle cx="276.7" cy="184.7" r="1.75"/>
<circle cx="271.5" cy="187.9" r="1.75"/>
<circle cx="266.5" cy="191.3" r="1.75"/>
<circle cx="261.6" cy="195.1" r="1.75"/>
<circle cx="257.0" cy="199.0" r="1.75"/>
<circle cx="252.6" cy="203.2" r="1.75"/>
<circle cx="248.4" cy="207.7" r="1.75"/>
<circle cx="244.4" cy="212.3" r="1.75"/>
<circle cx="228.5" cy="238.2" r="1.75"/>
<circle cx="226.2" cy="243.9" r="1.75"/>
<circle cx="224.1" cy="249.6" r="1.75"/>
<circle cx="222.4" cy="255.5" r="1.75"/>
<circle cx="221.0" cy="261.4" r="1.75"/>
<circle cx="219.9" cy="267.4" r="1.75"/>
<circle cx="430.4" cy="199.7" r="1.75"/>
<circle cx="425.8" cy="194.9" r="1.75"/>
<circle cx="399.2" cy="174.5" r="1.75"/>
<circle cx="393.3" cy="171.3" r="1.75"/>
<circle cx="374.7" cy="163.6" r="1.75"/>
<circle cx="368.2" cy="161.6" r="1.75"/>
<circle cx="361.7" cy="160.1" r="1.75"/>
<circle cx="355.1" cy="158.8" r="1.75"/>
<circle cx="348.4" cy="158.0" r="1.75"/>
<circle cx="341.7" cy="157.4" r="1.75"/>
<circle cx="335.0" cy="157.3" r="1.75"/>
<circle cx="321.6" cy="158.0" r="1.75"/>
<circle cx="314.9" cy="158.8" r="1.75"/>
<circle cx="308.3" cy="160.1" r="1.75"/>
<circle cx="301.8" cy="161.6" r="1.75"/>
<circle cx="295.3" cy="163.6" r="1.75"/>
<circle cx="289.0" cy="165.8" r="1.75"/>
<circle cx="259.5" cy="181.8" r="1.75"/>
<circle cx="254.2" cy="185.9" r="1.75"/>
<circle cx="249.1" cy="190.2" r="1.75"/>
<circle cx="244.2" cy="194.9" r="1.75"/>
<circle cx="239.6" cy="199.7" r="1.75"/>
<circle cx="371.3" cy="150.2" r="1.75"/>
<circle cx="364.2" cy="148.5" r="1.75"/>
<circle cx="356.9" cy="147.1" r="1.75"/>
<circle cx="349.7" cy="146.2" r="1.75"/>
<circle cx="342.3" cy="145.6" r="1.75"/>
<circle cx="298.7" cy="150.2" r="1.75"/>
<circle cx="291.7" cy="152.3" r="1.75"/>
<circle cx="405.8" cy="177.7" r="1.75"/>
<circle cx="410.9" cy="181.9" r="1.75"/>
<circle cx="420.2" cy="190.4" r="1.75"/>
<circle cx="425.6" cy="195.5" r="1.75"/>
<circle cx="416.8" cy="202.3" r="1.75"/>
<circle cx="329.6" cy="389.6" r="1.75"/>
<circle cx="322.8" cy="401.5" r="1.75"/>
<circle cx="314.8" cy="412.2" r="1.75"/>
<circle cx="321.6" cy="412.7" r="1.75"/>
<circle cx="328.2" cy="413.1" r="1.75"/>
<circle cx="335.0" cy="413.1" r="1.75"/>
<circle cx="341.8" cy="413.1" r="1.75"/>
<circle cx="313.1" cy="423.6" r="1.75"/>
<circle cx="320.2" cy="424.3" r="1.75"/>
<circle cx="327.6" cy="424.9" r="1.75"/>
<circle cx="303.2" cy="433.8" r="1.75"/>
<circle cx="310.9" cy="435.1" r="1.75"/>
<circle cx="292.7" cy="443.6" r="1.75"/>
<circle cx="301.0" cy="445.4" r="1.75"/>
<circle cx="309.2" cy="447.0" r="1.75"/>
<circle cx="317.7" cy="448.2" r="1.75"/>
<circle cx="326.2" cy="448.9" r="1.75"/>
<circle cx="334.7" cy="449.1" r="1.75"/>
<circle cx="316.5" cy="459.8" r="1.75"/>
<circle cx="344.0" cy="460.3" r="1.75"/>
<circle cx="353.4" cy="459.8" r="1.75"/>
<circle cx="344.9" cy="472.9" r="1.75"/>
<circle cx="354.6" cy="472.2" r="1.75"/>
<circle cx="335.0" cy="485.0" r="1.75"/>
<circle cx="346.6" cy="509.4" r="1.75"/>
<circle cx="403.0" cy="379.1" r="1.75"/>
<circle cx="408.3" cy="375.6" r="1.75"/>
<circle cx="370.9" cy="396.4" r="1.75"/>
<circle cx="452.5" cy="447.0" r="1.75"/>
<circle cx="441.4" cy="332.3" r="1.75"/>
<circle cx="452.5" cy="337.4" r="1.75"/>
<circle cx="462.7" cy="342.5" r="1.75"/>
<circle cx="449.1" cy="343.4" r="1.75"/>
<circle cx="459.3" cy="349.3" r="1.75"/>
<circle cx="469.5" cy="354.4" r="1.75"/>
<circle cx="445.7" cy="349.3" r="1.75"/>
<circle cx="455.9" cy="355.2" r="1.75"/>
<circle cx="466.9" cy="361.2" r="1.75"/>
<circle cx="225.9" cy="327.2" r="1.75"/>
<circle cx="229.3" cy="332.4" r="1.75"/>
<circle cx="236.9" cy="323.0" r="1.75"/>
<circle cx="242.9" cy="319.6" r="1.75"/>
</g>
</g>
<g stroke="#808080" stroke-width="2.0">
<line x1="327.7" y1="285.6" x2="342.3" y2="285.6"/>
<line x1="328.7" y1="282.0" x2="341.3" y2="289.3"/>
<line x1="331.4" y1="279.3" x2="338.6" y2="292.0"/>
<line x1="335.0" y1="278.3" x2="335.0" y2="292.9"/>
<line x1="338.6" y1="279.3" x2="331.4" y2="292.0"/>
<line x1="341.3" y1="282.0" x2="328.7" y2="289.3"/>
</g>
<circle cx="335.0" cy="285.65" r="5.2" fill="#808080"/>
<circle cx="335.0" cy="285.65" r="237.25" fill="none" stroke="#6a6a6a" stroke-width="2.5"/>
<line x1="335.0" y1="522.9" x2="335.0" y2="529.4" stroke="#6a6a6a" stroke-width="1.6"/>
<text transform="translate(337.5,539.9) rotate(0)" font-size="19.6" text-anchor="middle" dx="2.5" dy="6.8" fill="#666">0°</text>
<line x1="487.5" y1="467.4" x2="491.7" y2="472.4" stroke="#6a6a6a" stroke-width="1.6"/>
<text transform="translate(498.4,480.4) rotate(-40)" font-size="19.6" text-anchor="middle" dx="2.5" dy="6.8" fill="#666">40°E</text>
<line x1="568.6" y1="326.8" x2="575.0" y2="328.0" stroke="#6a6a6a" stroke-width="1.6"/>
<text transform="translate(585.4,329.8) rotate(-80)" font-size="19.6" text-anchor="middle" dx="2.5" dy="6.8" fill="#666">80°E</text>
<line x1="540.5" y1="167.0" x2="546.1" y2="163.8" stroke="#6a6a6a" stroke-width="1.6"/>
<text transform="translate(554.8,158.8) rotate(60)" font-size="19.6" text-anchor="middle" dx="2.5" dy="6.8" fill="#666">120°E</text>
<line x1="416.1" y1="62.7" x2="418.4" y2="56.6" stroke="#6a6a6a" stroke-width="1.6"/>
<text transform="translate(421.8,47.2) rotate(20)" font-size="19.6" text-anchor="middle" dx="2.5" dy="6.8" fill="#666">160°E</text>
<line x1="253.9" y1="62.7" x2="251.6" y2="56.6" stroke="#6a6a6a" stroke-width="1.6"/>
<text transform="translate(248.2,47.2) rotate(-20)" font-size="19.6" text-anchor="middle" dx="2.5" dy="6.8" fill="#666">160°W</text>
<line x1="129.5" y1="167.0" x2="123.9" y2="163.8" stroke="#6a6a6a" stroke-width="1.6"/>
<text transform="translate(115.2,158.8) rotate(-60)" font-size="19.6" text-anchor="middle" dx="2.5" dy="6.8" fill="#666">120°W</text>
<line x1="101.4" y1="326.8" x2="95.0" y2="328.0" stroke="#6a6a6a" stroke-width="1.6"/>
<text transform="translate(84.6,329.8) rotate(80)" font-size="19.6" text-anchor="middle" dx="2.5" dy="6.8" fill="#666">80°W</text>
<line x1="182.5" y1="467.4" x2="178.3" y2="472.4" stroke="#6a6a6a" stroke-width="1.6"/>
<text transform="translate(171.6,480.4) rotate(40)" font-size="19.6" text-anchor="middle" dx="2.5" dy="6.8" fill="#666">40°W</text>
<text x="339.0" y="53.9" font-size="19.6" fill="#6e6e6e">60°N</text>
<line x1="322.8" y1="129.5" x2="333.2" y2="129.5" stroke="#6e6e6e" stroke-width="1.8"/>
<text x="343.5" y="136.0" font-size="19.6" fill="#727272">70°N</text>
<line x1="326.3" y1="208.2" x2="336.7" y2="208.2" stroke="#6e6e6e" stroke-width="1.8"/>
<text x="347.0" y="214.7" font-size="19.6" fill="#727272">80°N</text>
<g clip-path="url(#mc1)">
<polygon points="915.2,56.9 935.6,51.8 959.4,48.7 978.1,48.7 990.0,51.0 1003.6,54.4 993.4,59.5 983.2,62.8 973.0,67.1 968.8,70.5 972.1,79.0 975.5,85.8 966.2,86.7 942.4,85.8 940.7,87.5 933.0,98.5 925.4,101.4 923.7,98.5 922.0,95.2 915.2,94.3 910.1,92.6 910.9,79.0 915.2,70.5 908.4,65.4" fill="#f1eceb" stroke="#f1eceb" stroke-width="0.4"/>
<polygon points="1046.1,65.4 1052.9,63.7 1061.4,70.5 1068.2,72.2 1058.0,77.3 1047.8,76.5" fill="#f1eceb" stroke="#f1eceb" stroke-width="0.4"/>
<polygon points="821.6,316.2 845.4,309.4 867.5,306.0 879.4,304.3 884.5,311.1 870.9,319.6 867.5,331.5 869.2,343.4 862.4,353.6 855.6,362.1 848.8,372.3 838.6,380.8 821.6,391.0 814.8,394.7 743.4,394.7 748.5,382.5 768.9,374.0 782.5,375.7 797.8,372.3 811.4,362.1 821.6,350.2 831.8,336.6 835.2,326.4 828.4,323.0" fill="#f1eceb" stroke="#f1eceb" stroke-width="0.4"/>
<polygon points="845.4,310.2 876.0,308.5 870.9,325.5 869.2,339.1 862.4,356.1 852.2,368.0 845.4,379.9 835.2,388.4 821.6,396.9 811.4,410.5 801.2,425.8 796.1,441.1 799.5,456.4 806.3,458.1 814.8,470.0 794.4,453.0 777.4,429.2 760.4,402.0 746.8,374.8 751.9,373.1 765.5,374.8 777.4,378.2 791.0,379.9 801.2,376.5 808.0,366.3 814.8,349.3 821.6,334.0 828.4,322.1" fill="#f1eceb" stroke="#f1eceb" stroke-width="0.4"/>
<polygon points="799.5,456.4 806.3,456.4 821.6,446.2 838.6,434.3 855.6,436.0 872.6,431.8 889.6,433.4 903.2,430.0 913.4,432.6 916.8,436.0 915.1,449.6 921.9,458.1 921.9,485.3 911.7,490.4 903.2,504.0 896.4,512.5 879.4,504.0 862.4,493.8 845.4,480.2 828.4,468.3 814.8,456.4 806.3,458.1" fill="#f1eceb" stroke="#f1eceb" stroke-width="0.4"/>
<polygon points="939.4,325.5 1066.9,325.5 1066.9,373.1 939.4,373.1" fill="#f1eceb" stroke="#f1eceb" stroke-width="0.4"/>
<polygon points="946.2,356.1 953.0,351.0 959.8,351.0 964.0,368.0 963.2,388.4 956.4,395.2 949.6,402.0 942.8,412.2 932.6,422.4 922.4,432.6 912.2,436.0 905.4,430.9 902.0,424.1 910.5,417.3 917.3,415.6 922.4,408.8 927.5,395.2 929.2,385.0 936.0,374.8 939.4,368.0" fill="#f1eceb" stroke="#f1eceb" stroke-width="0.4"/>
<polygon points="916.0,55.2 928.8,53.5 933.9,65.4 937.3,79.0 935.6,87.5 933.0,96.0 925.4,96.0 915.2,93.4 910.4,91.8 911.5,77.3 915.2,70.5" fill="#c3d5dc" stroke="#c3d5dc" stroke-width="0.4"/>
<polygon points="940.7,53.5 952.6,49.8 976.4,48.7 993.4,53.5 983.2,61.1 969.6,65.4 967.0,72.2 966.2,84.9 950.9,84.4 947.5,73.9 942.4,65.4" fill="#e3c5bc" stroke="#e3c5bc" stroke-width="0.4"/>
<polygon points="1052.9,72.2 1059.7,70.5 1061.4,74.8 1054.6,76.5" fill="#c3d5dc" stroke="#c3d5dc" stroke-width="0.4"/>
<polygon points="933.0,99.4 925.4,101.4 925.4,109.6 922.0,114.7 923.7,119.8 926.2,124.9 924.0,134.2 969.6,134.2 967.9,128.3 959.4,123.2 956.0,124.9 950.9,117.2 942.4,110.4" fill="#e3c5bc" stroke="#e3c5bc" stroke-width="0.4"/>
<polygon points="831.8,326.4 845.4,316.2 862.4,309.4 879.4,306.0 874.3,316.2 867.5,328.1 869.2,341.7 862.4,351.9 853.9,362.1 845.4,372.3 831.8,382.5 818.2,389.3 801.2,391.0 801.2,380.8 808.0,370.6 818.2,360.4 828.4,346.8 835.2,336.6" fill="#e3c5bc" stroke="#e3c5bc" stroke-width="0.4"/>
<polygon points="821.6,340.0 828.4,329.8 835.2,323.0 842.0,319.6 845.4,323.0 838.6,331.5 831.8,341.7 825.0,350.2 818.2,355.3" fill="#c3d5dc" stroke="#c3d5dc" stroke-width="0.4"/>
<polygon points="729.8,265.2 743.4,269.4 753.6,278.8 757.9,289.0 751.9,294.1 760.4,302.6 782.5,311.1 802.9,312.8 782.5,319.6 768.9,328.1 753.6,340.0 736.6,341.7 729.8,338.3" fill="#c3d5dc" stroke="#c3d5dc" stroke-width="0.4"/>
<polygon points="964.6,170.0 1041.4,170.0 1058.4,176.8 1068.6,181.9 1075.4,187.0 1070.3,197.2 1075.4,212.5 1080.5,221.0 1077.1,227.8 1072.0,238.0 1061.8,241.4 1051.6,246.5 1055.0,258.4 1048.2,265.2 1058.4,268.6 1070.3,270.3 1072.0,280.5 1080.5,289.0 1083.9,300.9 1090.7,306.0 1097.5,314.5 1090.7,319.6 1099.2,333.2 1106.0,346.8 1116.2,350.2 1109.4,357.0 1099.2,363.8 1089.0,357.0 1075.4,345.1 1061.8,340.0 1051.6,341.7 1041.4,343.4 1031.2,346.8 1024.4,357.0 1017.6,365.5 1010.8,362.1 1004.0,350.2 990.4,340.0 980.2,333.2 971.7,333.2 964.6,340.0" fill="#e3c5bc" stroke="#e3c5bc" stroke-width="0.4"/>
<polygon points="748.5,376.5 768.9,379.9 791.0,381.6 806.3,379.9 818.2,388.4 808.0,402.0 801.2,419.0 797.8,436.0 794.4,449.6 784.2,439.4 772.3,422.4 760.4,402.0" fill="#e3c5bc" stroke="#e3c5bc" stroke-width="0.4"/>
<polygon points="821.6,453.0 835.2,446.2 848.8,442.8 862.4,446.2 876.0,442.8 889.6,436.0 903.2,430.9 911.7,434.3 906.6,446.2 896.4,453.0 886.2,459.8 879.4,470.0 872.6,480.2 862.4,487.0 852.2,487.0 845.4,480.2 835.2,470.0 825.0,463.2" fill="#e3c5bc" stroke="#e3c5bc" stroke-width="0.4"/>
<polygon points="814.8,461.5 828.4,463.2 842.0,473.4 852.2,483.6 845.4,487.0 831.8,478.5 821.6,470.0" fill="#c3d5dc" stroke="#c3d5dc" stroke-width="0.4"/>
<polygon points="879.4,493.8 896.4,490.4 906.6,493.8 910.0,504.0 903.2,509.1 889.6,504.0" fill="#c3d5dc" stroke="#c3d5dc" stroke-width="0.4"/>
<polygon points="953.0,344.2 966.6,339.1 980.2,340.8 990.4,345.9 993.8,352.7 983.6,356.1 980.2,362.9 983.6,371.4 990.4,379.9 997.2,385.0 1007.4,378.2 1015.9,368.0 1024.4,361.2 1034.6,354.4 1044.8,349.3 1055.0,347.6 1060.1,351.0 1065.2,357.8 1072.0,364.6 1080.5,369.7 1089.0,373.1 1097.5,371.4 1097.5,381.6 1092.4,388.4 1085.6,395.2 1075.4,398.6 1065.2,403.7 1058.4,410.5 1051.6,417.3 1043.1,419.0 1034.6,417.3 1024.4,420.7 1017.6,430.9 1012.5,439.4 1007.4,453.0 1005.7,463.2 1000.6,476.8 997.2,487.0 990.4,498.9 987.0,510.8 987.0,521.0 896.9,521.0 888.4,514.2 898.6,504.0 908.8,492.1 917.3,483.6 920.7,476.8 922.4,470.0 920.7,456.4 912.2,453.0 915.6,441.1 922.4,432.6 932.6,422.4 942.8,412.2 949.6,402.0 956.4,395.2 963.2,388.4 964.0,368.0 959.8,351.0" fill="#c3d5dc" stroke="#c3d5dc" stroke-width="0.4"/>
<polygon points="936.0,398.6 942.8,395.2 946.2,405.4 939.4,415.6 930.9,419.0 929.2,408.8" fill="#e3c5bc" stroke="#e3c5bc" stroke-width="0.4"/>
<polygon points="1036.3,485.3 1043.1,487.0 1049.9,498.9 1048.2,504.0 1039.7,507.4 1034.6,500.6" fill="#c3d5dc" stroke="#c3d5dc" stroke-width="0.4"/>
<polygon points="947.9,352.7 954.7,349.3 961.5,354.4 963.2,368.0 961.5,379.9 956.4,388.4 949.6,385.0 946.2,374.8 946.2,364.6" fill="#e3c5bc" stroke="#e3c5bc" stroke-width="0.4"/>
<polygon points="928.8,85.8 933.0,84.9 933.0,90.9 929.6,91.8" fill="#8ab4c5" stroke="#8ab4c5" stroke-width="0.4"/>
<polygon points="947.5,51.8 959.4,49.8 984.9,50.1 983.2,56.9 973.0,62.0 966.2,70.5 962.8,79.0 956.0,72.2 952.6,62.0" fill="#d89d8a" stroke="#d89d8a" stroke-width="0.4"/>
<polygon points="925.4,113.0 935.6,110.4 942.4,116.4 947.5,124.9 950.9,133.4 924.0,134.2 926.2,124.9 923.7,119.8" fill="#d89d8a" stroke="#d89d8a" stroke-width="0.4"/>
<polygon points="956.0,124.9 964.5,122.3 969.6,128.3 967.9,134.2 959.4,134.2" fill="#d89d8a" stroke="#d89d8a" stroke-width="0.4"/>
<polygon points="818.2,253.3 831.8,255.0 845.4,260.1 843.7,265.2 828.4,261.8 818.2,258.4" fill="#d89d8a" stroke="#d89d8a" stroke-width="0.4"/>
<polygon points="842.0,323.0 855.6,314.5 872.6,308.5 877.7,311.1 870.9,319.6 865.8,329.8 867.5,341.7 860.7,350.2 852.2,360.4 842.0,370.6 828.4,379.1 811.4,382.5 806.3,374.0 814.8,365.5 825.0,355.3 835.2,343.4 843.7,333.2" fill="#d89d8a" stroke="#d89d8a" stroke-width="0.4"/>
<polygon points="730.6,266.9 741.7,270.3 751.9,278.8 756.1,289.0 748.5,292.4 753.6,306.0 760.4,316.2 768.9,319.6 782.5,316.2 797.8,312.8 777.4,323.0 762.1,326.4 751.9,323.0 743.4,319.6 734.9,316.2 729.8,312.8" fill="#8ab4c5" stroke="#8ab4c5" stroke-width="0.4"/>
<polygon points="964.6,170.0 1041.4,170.0 1056.7,176.8 1066.9,183.6 1072.0,188.7 1066.9,198.9 1072.0,212.5 1077.1,221.0 1073.7,227.8 1068.6,236.3 1058.4,239.7 1048.2,244.8 1041.4,251.6 1034.6,261.8 1041.4,268.6 1051.6,266.9 1056.7,270.3 1070.3,270.3 1072.0,280.5 1080.5,289.0 1083.9,300.9 1090.7,306.0 1095.8,314.5 1089.0,319.6 1097.5,333.2 1104.3,346.8 1114.5,350.2 1099.2,362.1 1090.7,355.3 1075.4,341.7 1063.5,336.6 1051.6,338.3 1041.4,340.0 1031.2,343.4 1024.4,351.9 1017.6,358.7 1010.8,355.3 1004.0,343.4 993.8,333.2 983.6,326.4 973.4,328.1 964.6,333.2" fill="#d89d8a" stroke="#d89d8a" stroke-width="0.4"/>
<polygon points="753.6,381.6 770.6,385.0 784.2,385.0 797.8,388.4 801.2,402.0 797.8,419.0 794.4,436.0 791.0,442.8 780.8,432.6 770.6,419.0 760.4,398.6" fill="#d89d8a" stroke="#d89d8a" stroke-width="0.4"/>
<polygon points="836.9,449.6 845.4,446.2 848.8,453.0 842.0,458.1" fill="#d89d8a" stroke="#d89d8a" stroke-width="0.4"/>
<polygon points="889.6,437.7 901.5,432.6 906.6,434.3 903.2,444.5 894.7,449.6 887.9,446.2" fill="#d89d8a" stroke="#d89d8a" stroke-width="0.4"/>
<polygon points="848.8,485.3 862.4,483.6 872.6,487.0 869.2,492.1 855.6,492.1" fill="#d89d8a" stroke="#d89d8a" stroke-width="0.4"/>
<polygon points="821.6,466.6 831.8,468.3 838.6,476.8 830.1,476.8" fill="#8ab4c5" stroke="#8ab4c5" stroke-width="0.4"/>
<polygon points="937.7,402.0 942.8,400.3 943.6,407.1 938.5,410.5" fill="#d89d8a" stroke="#d89d8a" stroke-width="0.4"/>
<polygon points="949.6,356.1 956.4,354.4 960.6,364.6 958.9,376.5 953.0,379.9 948.8,371.4" fill="#d89d8a" stroke="#d89d8a" stroke-width="0.4"/>
<polygon points="959.8,351.0 966.6,344.2 976.8,344.2 988.7,349.3 990.4,354.4 981.9,357.8 978.5,364.6 981.9,373.1 988.7,381.6 997.2,388.4 1007.4,381.6 1015.9,371.4 1024.4,364.6 1034.6,357.8 1044.8,352.7 1055.0,351.0 1060.1,354.4 1063.5,359.5 1070.3,366.3 1078.8,373.1 1087.3,376.5 1094.1,376.5 1092.4,385.0 1085.6,391.8 1075.4,395.2 1065.2,400.3 1056.7,407.1 1049.9,413.9 1043.1,415.6 1034.6,413.9 1022.7,419.0 1015.9,429.2 1010.8,439.4 1005.7,453.0 1004.0,463.2 998.9,476.8 995.5,487.0 988.7,498.9 985.3,510.8 985.3,521.0 902.0,521.0 898.6,512.5 908.8,498.9 917.3,488.7 922.4,480.2 924.1,470.0 922.4,458.1 915.6,453.0 919.0,442.8 925.8,434.3 936.0,424.1 944.5,415.6 951.3,405.4 958.1,398.6 964.0,391.8 964.0,371.4 961.5,356.1" fill="#8ab4c5" stroke="#8ab4c5" stroke-width="0.4"/>
<polygon points="1037.2,487.0 1041.4,488.7 1046.5,498.9 1041.4,504.0 1037.2,498.9" fill="#8ab4c5" stroke="#8ab4c5" stroke-width="0.4"/>
<polygon points="729.8,323.0 751.9,323.0 777.4,319.6 806.3,314.5 808.0,321.3 794.4,328.1 782.5,333.2 760.4,336.6 743.4,340.0 729.8,341.7" fill="#f1eceb" stroke="#f1eceb" stroke-width="0.4"/>
<polygon points="743.4,329.8 760.4,328.1 777.4,323.0 794.4,321.3 797.8,326.4 782.5,331.5 760.4,334.9 745.1,335.8" fill="#e3c5bc" stroke="#e3c5bc" stroke-width="0.4"/>
<polygon points="784.2,328.1 794.4,329.8 797.8,334.0 787.6,333.2" fill="#d89d8a" stroke="#d89d8a" stroke-width="0.4"/>
<polygon points="990.4,326.4 1004.0,323.0 1017.6,329.8 1031.2,333.2 1041.4,340.0 1031.2,346.8 1024.4,357.0 1017.6,365.5 1010.8,362.1 1004.0,350.2 990.4,340.0" fill="#e3c5bc" stroke="#e3c5bc" stroke-width="0.4"/>
<polygon points="973.4,386.7 980.2,385.0 981.9,395.2 976.8,402.0 971.7,396.9" fill="#f1eceb" stroke="#f1eceb" stroke-width="0.4"/>
<polygon points="966.6,398.6 973.4,400.3 971.7,408.8 966.6,407.1" fill="#f1eceb" stroke="#f1eceb" stroke-width="0.4"/>
<polygon points="1063.5,388.4 1075.4,385.0 1085.6,388.4 1092.4,395.2 1085.6,405.4 1075.4,402.0 1066.9,398.6" fill="#f1eceb" stroke="#f1eceb" stroke-width="0.4"/>
<polygon points="1012.5,419.0 1019.3,417.3 1021.0,425.8 1014.2,429.2" fill="#c3d5dc" stroke="#c3d5dc" stroke-width="0.4"/>
<polygon points="952.6,50.4 976.4,49.2 978.1,55.2 967.9,62.0 964.5,68.8 959.4,65.4 957.7,56.9" fill="#ca7054" stroke="#ca7054" stroke-width="0.4"/>
<polygon points="923.7,119.8 932.2,116.4 937.3,124.9 942.4,133.4 940.7,140.2 924.0,140.2 925.4,130.0" fill="#ca7054" stroke="#ca7054" stroke-width="0.4"/>
<polygon points="916.9,141.9 924.0,134.2 940.7,140.2 950.9,143.6 959.4,147.0 965.3,140.2 969.6,134.2 976.4,133.4 983.2,131.7 998.5,133.4 1012.9,140.2 1017.2,141.9 1018.9,155.5 1034.2,162.3 1035.0,170.8 1041.8,179.3 1051.2,186.1 1058.0,181.0 1066.5,181.0 1076.7,192.9 1072.4,204.8 1075.0,213.3 1080.1,225.2 1076.7,228.6 1072.4,237.9 1061.4,243.9 1059.7,257.5 1058.0,269.7 840.4,269.7 845.5,257.5 846.4,240.5 857.4,232.0 867.6,225.2 871.0,216.7 862.5,208.2 849.8,203.1 842.1,198.0 857.4,181.0 855.7,169.9 874.4,167.4 893.1,153.8 902.4,160.6 916.9,153.8" fill="#ca7054" stroke="#ca7054" stroke-width="0.4"/>
<polygon points="842.0,198.6 855.6,187.0 862.4,170.0 978.0,170.0 979.7,265.2 976.3,278.8 978.0,292.4 976.3,306.0 971.2,319.6 967.8,333.2 966.1,340.0 952.5,338.3 945.7,328.1 938.9,322.1 930.4,319.6 916.8,314.5 924.4,306.0 918.5,292.4 906.6,285.6 889.6,278.8 879.4,272.0 872.6,265.2 879.4,258.4 876.0,244.8 879.4,238.0 876.0,229.5 867.5,224.4 855.6,212.5" fill="#ca7054" stroke="#ca7054" stroke-width="0.4"/>
<polygon points="845.4,239.7 855.6,243.1 872.6,244.8 884.5,241.4 889.6,251.6 896.4,261.8 889.6,272.0 879.4,278.8 867.5,280.5 855.6,275.4 845.4,268.6 838.6,258.4 843.7,255.0 848.8,249.9" fill="#ca7054" stroke="#ca7054" stroke-width="0.4"/>
<polygon points="801.2,285.6 821.6,278.8 828.4,282.2 814.8,289.0 802.9,292.4" fill="#ca7054" stroke="#ca7054" stroke-width="0.4"/>
<polygon points="848.8,231.2 862.4,232.9 867.5,236.3 855.6,235.4" fill="#ca7054" stroke="#ca7054" stroke-width="0.4"/>
<polygon points="850.5,321.3 862.4,314.5 874.3,309.4 876.0,312.8 869.2,321.3 864.1,331.5 865.8,341.7 859.0,348.5 850.5,357.0 840.3,367.2 825.0,374.0 811.4,374.0 809.7,367.2 818.2,362.1 828.4,353.6 838.6,343.4 848.8,331.5" fill="#ca7054" stroke="#ca7054" stroke-width="0.4"/>
<polygon points="736.6,280.5 746.8,277.1 753.6,285.6 748.5,294.1 740.0,292.4" fill="#5299bf" stroke="#5299bf" stroke-width="0.4"/>
<polygon points="964.6,170.0 1041.4,170.0 1056.7,176.8 1066.9,183.6 1071.2,189.6 1066.9,198.9 1072.0,212.5 1076.2,221.0 1072.8,227.8 1068.6,236.3 1058.4,238.8 1048.2,238.0 1038.0,234.6 1027.8,227.8 1017.6,221.0 1007.4,219.3 997.2,222.7 987.0,226.1 976.8,231.2 964.6,232.9" fill="#ca7054" stroke="#ca7054" stroke-width="0.4"/>
<polygon points="990.4,265.2 1000.6,261.8 1010.8,261.8 1021.0,265.2 1031.2,272.0 1034.6,280.5 1044.8,283.9 1051.6,280.5 1058.4,272.0 1069.5,272.0 1071.2,280.5 1079.6,289.9 1082.2,300.9 1075.4,304.3 1068.6,312.8 1058.4,316.2 1048.2,314.5 1038.0,311.1 1027.8,312.8 1017.6,316.2 1007.4,312.8 1000.6,306.0 997.2,295.8 993.8,285.6 990.4,275.4" fill="#ca7054" stroke="#ca7054" stroke-width="0.4"/>
<polygon points="1066.9,328.9 1075.4,328.1 1087.3,333.2 1097.5,341.7 1100.9,350.2 1095.8,355.3 1087.3,351.9 1077.1,341.7 1070.3,334.9" fill="#ca7054" stroke="#ca7054" stroke-width="0.4"/>
<polygon points="765.5,391.8 777.4,390.1 791.0,395.2 796.1,405.4 794.4,419.0 792.7,432.6 787.6,436.0 779.1,425.8 770.6,412.2" fill="#ca7054" stroke="#ca7054" stroke-width="0.4"/>
<polygon points="951.3,359.5 956.4,358.6 958.1,368.0 954.7,373.1 951.3,368.0" fill="#ca7054" stroke="#ca7054" stroke-width="0.4"/>
<polygon points="944.5,419.0 953.0,412.2 964.0,410.5 964.0,521.0 910.5,521.0 913.9,504.0 920.7,490.4 919.0,480.2 922.4,470.0 920.7,459.8 917.3,453.0 920.7,444.5 929.2,436.0 937.7,427.5" fill="#5299bf" stroke="#5299bf" stroke-width="0.4"/>
<polygon points="966.6,408.8 973.4,412.2 980.2,419.0 987.0,415.6 990.4,405.4 993.8,395.2 1000.6,388.4 1010.8,385.0 1017.6,374.8 1024.4,366.3 1032.9,359.5 1043.1,356.1 1053.3,356.1 1058.4,362.9 1056.7,371.4 1051.6,379.9 1048.2,388.4 1041.4,395.2 1031.2,398.6 1021.0,402.0 1014.2,408.8 1007.4,415.6 1000.6,419.0 997.2,429.2 993.8,439.4 997.2,449.6 1004.0,453.0 1005.7,463.2 1000.6,476.8 997.2,487.0 990.4,498.9 987.0,510.8 986.1,521.0 966.6,521.0" fill="#5299bf" stroke="#5299bf" stroke-width="0.4"/>
<polygon points="1073.7,437.7 1083.9,434.3 1087.3,441.1 1083.9,447.9 1077.1,444.5" fill="#5299bf" stroke="#5299bf" stroke-width="0.4"/>
<polygon points="1017.6,221.0 1027.8,227.8 1038.0,234.6 1048.2,238.0 1058.4,238.8 1068.6,236.3 1065.2,243.1 1055.0,246.5 1048.2,244.8 1041.4,251.6 1034.6,261.8 1031.2,272.0 1021.0,265.2 1010.8,261.8 1014.2,249.9 1021.0,244.8 1024.4,234.6" fill="#ca7054" stroke="#ca7054" stroke-width="0.4"/>
<polygon points="1003.6,140.2 1012.9,140.2 1017.2,141.9 1018.9,155.5 1034.2,162.3 1035.0,170.8 1032.5,181.0 1025.7,191.2 1018.9,194.6 1010.4,187.8 1005.3,177.6 1007.0,164.0 1001.9,153.8" fill="#d89d8a" stroke="#d89d8a" stroke-width="0.4"/>
<polygon points="949.2,133.4 959.4,126.6 969.6,134.2 965.3,145.3 959.4,150.4 952.6,143.6" fill="#d89d8a" stroke="#d89d8a" stroke-width="0.4"/>
<polygon points="1008.7,147.0 1015.5,147.0 1018.9,160.6 1030.8,164.0 1032.5,174.2 1025.7,184.4 1017.2,184.4 1012.1,174.2 1010.4,160.6" fill="#e3c5bc" stroke="#e3c5bc" stroke-width="0.4"/>
<polygon points="1010.4,174.2 1015.5,170.8 1017.2,181.0 1012.1,184.4" fill="#f1eceb" stroke="#f1eceb" stroke-width="0.4"/>
<polygon points="947.5,119.8 952.6,118.1 957.7,130.0 952.6,140.2 949.2,133.4" fill="#f1eceb" stroke="#f1eceb" stroke-width="0.4"/>
<polygon points="970.0,419.0 976.8,422.4 975.1,432.6 969.1,430.9" fill="#8ab4c5" stroke="#8ab4c5" stroke-width="0.4"/>
<polygon points="980.2,429.2 990.4,427.5 993.8,436.0 987.0,442.8 980.2,439.4" fill="#8ab4c5" stroke="#8ab4c5" stroke-width="0.4"/>
<polygon points="936.0,478.5 947.9,475.1 954.7,483.6 947.9,492.1 937.7,490.4" fill="#8ab4c5" stroke="#8ab4c5" stroke-width="0.4"/>
<polygon points="956.0,49.8 969.6,49.2 969.6,54.4 962.8,56.9 957.7,53.5" fill="#ba422c" stroke="#ba422c" stroke-width="0.4"/>
<polygon points="854.0,194.6 862.5,181.0 877.8,175.9 894.8,167.4 908.4,164.0 916.9,162.3 925.4,153.8 918.6,147.0 925.4,140.2 932.2,140.2 939.0,147.0 945.8,153.8 956.0,155.5 966.2,153.8 973.0,150.4 983.2,150.4 993.4,153.8 1000.2,162.3 1003.6,170.8 1007.0,181.0 1010.4,189.5 1018.9,198.0 1027.4,198.0 1035.9,191.2 1044.4,187.8 1051.2,191.2 1058.0,187.8 1064.8,191.2 1069.9,201.4 1066.5,211.6 1071.6,221.8 1076.7,228.6 1072.4,237.9 1061.4,243.9 1051.2,238.8 1041.0,232.0 1030.8,225.2 1020.6,221.8 1012.1,225.2 1007.0,232.0 1000.2,237.1 993.4,232.0 986.6,228.6 976.4,232.0 966.2,230.3 959.4,232.0 954.3,238.8 956.0,249.0 962.8,255.8 973.0,259.2 976.4,269.7 842.9,269.7 847.2,257.5 848.9,242.2 860.8,232.0 869.3,225.2 872.7,216.7 864.2,206.5" fill="#ba422c" stroke="#ba422c" stroke-width="0.4"/>
<polygon points="852.2,200.6 857.3,188.7 865.8,173.4 872.6,170.0 978.0,170.0 978.0,226.1 969.5,227.8 964.4,234.6 955.9,238.0 952.5,244.8 961.0,249.9 969.5,251.6 974.6,258.4 976.3,265.2 974.6,278.8 976.3,292.4 974.6,306.0 969.5,316.2 964.4,323.0 954.2,323.0 944.0,319.6 935.5,317.9 927.0,311.1 923.6,299.2 916.8,289.0 906.6,285.6 896.4,278.8 889.6,270.3 879.4,265.2 882.8,255.0 879.4,244.8 882.8,234.6 876.0,227.8 867.5,219.3 860.7,210.8" fill="#ba422c" stroke="#ba422c" stroke-width="0.4"/>
<polygon points="848.8,244.8 862.4,246.5 876.0,244.8 886.2,251.6 893.0,265.2 886.2,275.4 872.6,278.8 859.0,273.7 848.8,265.2 845.4,255.0" fill="#ba422c" stroke="#ba422c" stroke-width="0.4"/>
<polygon points="857.3,321.3 865.8,316.2 874.3,311.1 874.3,314.5 867.5,323.0 862.4,333.2 864.1,341.7 855.6,348.5 845.4,358.7 835.2,365.5 826.7,365.5 835.2,355.3 845.4,346.8 855.6,333.2" fill="#ba422c" stroke="#ba422c" stroke-width="0.4"/>
<polygon points="964.6,170.0 1000.6,170.0 1004.0,180.2 1010.8,193.8 1021.0,204.0 1032.9,210.8 1044.8,217.6 1056.7,226.1 1070.3,234.6 1061.8,236.3 1049.9,231.2 1038.0,226.1 1027.8,221.0 1017.6,217.6 1007.4,217.6 997.2,221.0 987.0,224.4 976.8,229.5 964.6,229.5" fill="#ba422c" stroke="#ba422c" stroke-width="0.4"/>
<polygon points="1034.6,176.8 1041.4,175.1 1051.6,180.2 1058.4,188.7 1055.0,197.2 1048.2,192.1 1041.4,187.0 1034.6,183.6" fill="#ba422c" stroke="#ba422c" stroke-width="0.4"/>
<polygon points="993.8,266.9 1002.3,263.5 1012.5,265.2 1019.3,272.0 1021.0,282.2 1019.3,294.1 1024.4,302.6 1034.6,299.2 1044.8,302.6 1055.0,299.2 1058.4,292.4 1051.6,287.3 1058.4,278.8 1068.6,273.7 1070.3,280.5 1078.8,289.9 1080.5,299.2 1073.7,302.6 1065.2,309.4 1055.0,311.1 1044.8,309.4 1034.6,307.7 1024.4,309.4 1014.2,306.0 1005.7,300.9 1000.6,292.4 997.2,280.5" fill="#ba422c" stroke="#ba422c" stroke-width="0.4"/>
<polygon points="1075.4,333.2 1085.6,336.6 1095.8,343.4 1097.5,350.2 1090.7,350.2 1082.2,343.4" fill="#ba422c" stroke="#ba422c" stroke-width="0.4"/>
<polygon points="768.9,395.2 777.4,393.5 785.9,398.6 791.0,408.8 789.3,422.4 785.9,429.2 779.1,422.4 772.3,410.5" fill="#ba422c" stroke="#ba422c" stroke-width="0.4"/>
<polygon points="941.1,422.4 951.3,419.0 964.0,420.7 964.0,434.3 956.4,436.0 949.6,434.3 944.5,441.1 939.4,447.9 936.0,453.0 922.4,453.0 920.7,449.6 929.2,441.1 936.0,432.6" fill="#2277bd" stroke="#2277bd" stroke-width="0.4"/>
<polygon points="920.7,453.0 936.0,451.3 949.6,453.0 964.0,453.0 964.0,471.7 956.4,468.3 946.2,464.9 936.0,463.2 925.8,461.5 920.7,459.8" fill="#2277bd" stroke="#2277bd" stroke-width="0.4"/>
<polygon points="919.0,488.7 929.2,487.0 939.4,492.1 949.6,495.5 953.0,504.0 951.3,514.2 942.8,521.0 919.0,521.0" fill="#2277bd" stroke="#2277bd" stroke-width="0.4"/>
<polygon points="966.6,453.0 980.2,454.7 990.4,456.4 998.9,459.8 998.9,470.0 993.8,476.8 987.0,476.8 980.2,483.6 980.2,493.8 981.9,504.0 983.6,512.5 985.3,521.0 966.6,521.0" fill="#2277bd" stroke="#2277bd" stroke-width="0.4"/>
<polygon points="1017.6,374.8 1024.4,368.0 1032.9,361.2 1043.1,357.8 1051.6,359.5 1055.0,366.3 1051.6,374.8 1048.2,385.0 1039.7,388.4 1031.2,388.4 1024.4,391.8 1017.6,390.1 1014.2,383.3" fill="#2277bd" stroke="#2277bd" stroke-width="0.4"/>
<polygon points="997.2,395.2 1004.0,391.8 1009.1,398.6 1007.4,407.1 1000.6,410.5 995.5,405.4" fill="#2277bd" stroke="#2277bd" stroke-width="0.4"/>
<polygon points="1077.1,438.5 1083.0,436.9 1084.8,442.8 1079.6,444.5" fill="#2277bd" stroke="#2277bd" stroke-width="0.4"/>
<polygon points="1024.4,238.0 1034.6,241.4 1041.4,244.8 1038.0,253.3 1031.2,261.8 1024.4,260.1 1019.3,251.6" fill="#ba422c" stroke="#ba422c" stroke-width="0.4"/>
<polygon points="760.4,385.0 777.4,383.3 794.4,385.0 806.3,383.3 811.4,388.4 797.8,390.1 777.4,388.4 760.4,388.4" fill="#f1eceb" stroke="#f1eceb" stroke-width="0.4"/>
<polygon points="862.5,194.6 871.0,184.4 884.6,181.0 901.6,179.3 915.2,174.2 925.4,167.4 939.0,164.0 956.0,164.0 969.6,167.4 976.4,174.2 976.4,184.4 983.2,191.2 993.4,194.6 1001.9,201.4 1010.4,208.2 1018.9,211.6 1027.4,208.2 1034.2,201.4 1042.7,198.0 1049.5,201.4 1044.4,208.2 1035.9,215.0 1025.7,218.4 1015.5,218.4 1007.0,225.2 998.5,232.0 990.0,225.2 979.8,225.2 969.6,228.6 959.4,228.6 952.6,235.4 945.8,242.2 939.0,249.0 935.6,259.2 932.2,269.7 877.8,269.7 881.2,257.5 874.4,247.3 869.3,232.0 872.7,218.4 865.9,206.5" fill="#9c1529" stroke="#9c1529" stroke-width="0.4"/>
<polygon points="1027.4,184.4 1034.2,181.0 1037.6,189.5 1032.5,196.3 1027.4,191.2" fill="#9c1529" stroke="#9c1529" stroke-width="0.4"/>
<polygon points="1047.8,194.6 1054.6,192.9 1058.0,201.4 1051.2,208.2 1046.1,203.1" fill="#9c1529" stroke="#9c1529" stroke-width="0.4"/>
<polygon points="916.9,143.6 925.4,137.6 928.8,141.9 925.4,150.4 918.6,153.8" fill="#9c1529" stroke="#9c1529" stroke-width="0.4"/>
<polygon points="862.4,192.1 870.9,185.0 884.5,181.6 901.5,179.9 915.1,174.8 923.6,170.0 978.0,170.0 978.0,187.0 981.4,195.5 978.0,212.5 971.2,221.0 961.0,226.1 954.2,234.6 947.4,243.1 940.6,251.6 944.0,261.8 950.8,268.6 961.0,270.3 969.5,272.0 972.9,280.5 971.2,292.4 971.2,302.6 964.4,306.0 955.9,302.6 947.4,295.8 938.9,289.0 930.4,292.4 920.2,289.0 910.0,282.2 899.8,275.4 893.0,268.6 886.2,258.4 882.8,244.8 879.4,234.6 872.6,224.4 867.5,212.5 864.1,202.3" fill="#9c1529" stroke="#9c1529" stroke-width="0.4"/>
<polygon points="852.2,253.3 862.4,255.0 876.0,253.3 886.2,258.4 889.6,268.6 879.4,275.4 865.8,273.7 855.6,266.9" fill="#9c1529" stroke="#9c1529" stroke-width="0.4"/>
<polygon points="862.4,319.6 867.5,316.2 872.6,314.5 869.2,321.3 864.1,326.4" fill="#9c1529" stroke="#9c1529" stroke-width="0.4"/>
<polygon points="964.6,170.0 990.4,170.0 993.8,180.2 990.4,190.4 997.2,200.6 1000.6,212.5 993.8,221.0 983.6,226.1 973.4,227.8 964.6,229.5" fill="#9c1529" stroke="#9c1529" stroke-width="0.4"/>
<polygon points="1000.6,273.7 1007.4,270.3 1014.2,273.7 1015.9,285.6 1014.2,295.8 1007.4,297.5 1002.3,289.0" fill="#9c1529" stroke="#9c1529" stroke-width="0.4"/>
<polygon points="1031.2,183.6 1038.0,181.9 1039.7,188.7 1034.6,192.1" fill="#9c1529" stroke="#9c1529" stroke-width="0.4"/>
<polygon points="1038.0,207.4 1044.8,209.1 1046.5,214.2 1041.4,214.2" fill="#9c1529" stroke="#9c1529" stroke-width="0.4"/>
<polygon points="1029.5,371.4 1036.3,366.3 1044.8,368.0 1046.5,376.5 1039.7,383.3 1032.9,381.6" fill="#1e50c3" stroke="#1e50c3" stroke-width="0.4"/>
<polygon points="942.8,442.8 949.6,441.1 954.7,447.9 951.3,454.7 944.5,453.0" fill="#1e50c3" stroke="#1e50c3" stroke-width="0.4"/>
<polygon points="970.0,459.8 976.8,461.5 976.8,483.6 971.7,487.0 968.3,476.8" fill="#1e50c3" stroke="#1e50c3" stroke-width="0.4"/>
<polygon points="1000.6,395.2 1005.7,396.9 1005.7,403.7 1001.4,403.7" fill="#1e50c3" stroke="#1e50c3" stroke-width="0.4"/>
<polygon points="888.0,198.0 898.2,191.2 911.8,187.8 925.4,184.4 939.0,181.0 950.9,182.7 957.7,189.5 957.7,201.4 959.4,211.6 956.0,221.8 949.2,228.6 939.0,232.0 928.8,228.6 918.6,220.1 911.8,211.6 901.6,206.5 893.1,204.8" fill="#700f2a" stroke="#700f2a" stroke-width="0.4"/>
<polygon points="973.8,216.7 978.1,211.6 986.6,213.3 993.4,215.0 991.7,221.8 984.9,226.0 976.4,223.5" fill="#700f2a" stroke="#700f2a" stroke-width="0.4"/>
<polygon points="887.9,197.2 896.4,190.4 910.0,186.2 927.0,183.6 944.0,183.6 955.9,188.7 959.3,198.9 955.9,209.1 950.8,219.3 945.7,226.1 937.2,229.5 927.0,227.8 918.5,221.0 911.7,212.5 903.2,205.7 894.7,202.3" fill="#700f2a" stroke="#700f2a" stroke-width="0.4"/>
<polygon points="974.6,214.2 981.4,209.1 991.6,210.8 995.0,217.6 989.9,224.4 981.4,226.1 974.6,221.0" fill="#700f2a" stroke="#700f2a" stroke-width="0.4"/>
<polygon points="918.5,265.2 930.4,261.8 940.6,265.2 945.7,275.4 940.6,289.0 930.4,289.0 921.9,280.5" fill="#ba422c" stroke="#ba422c" stroke-width="0.4"/>
<polygon points="956.0,232.0 966.2,230.3 976.4,232.0 976.4,240.5 979.8,249.0 976.4,259.2 978.1,269.7 969.6,269.7 966.2,259.2 959.4,254.1 954.3,245.6" fill="#ca7054" stroke="#ca7054" stroke-width="0.4"/>
<polygon points="1058.4,197.2 1065.2,200.6 1068.6,210.8 1063.5,217.6 1058.4,209.1" fill="#d89d8a" stroke="#d89d8a" stroke-width="0.4"/>
<polygon points="979.8,232.0 993.4,232.0 1000.2,237.1 1007.0,232.0 1015.5,225.2 1024.0,225.2 1032.5,230.3 1037.6,238.8 1032.5,249.0 1027.4,259.2 1025.7,269.7 978.1,269.7 976.4,259.2 979.8,249.0 976.4,240.5" fill="#ca7054" stroke="#ca7054" stroke-width="0.4"/>
<polygon points="980.2,234.6 990.4,226.1 1004.0,221.0 1017.6,224.4 1024.4,234.6 1021.0,244.8 1010.8,249.9 1000.6,251.6 993.8,258.4 990.4,268.6 983.6,272.0 980.2,261.8 981.9,248.2" fill="#d89d8a" stroke="#d89d8a" stroke-width="0.4"/>
<polygon points="980.2,275.4 990.4,272.0 993.8,282.2 992.1,295.8 997.2,306.0 993.8,316.2 990.4,326.4 983.6,323.0 980.2,309.4 981.9,295.8" fill="#d89d8a" stroke="#d89d8a" stroke-width="0.4"/>
<polygon points="1027.8,266.9 1034.6,263.5 1039.7,269.4 1037.2,277.1 1031.2,279.6 1027.0,274.6" fill="#d89d8a" stroke="#d89d8a" stroke-width="0.4"/>
<polygon points="1007.4,170.0 1017.6,170.0 1021.0,180.2 1015.9,187.0 1009.1,180.2" fill="#e3c5bc" stroke="#e3c5bc" stroke-width="0.4"/>
<polygon points="993.8,234.6 1004.0,226.1 1015.9,226.9 1020.1,234.6 1015.9,243.1 1005.7,246.5 997.2,244.8" fill="#e3c5bc" stroke="#e3c5bc" stroke-width="0.4"/>
<polygon points="982.8,249.9 992.1,248.2 995.5,258.4 990.4,265.2 984.4,263.5" fill="#e3c5bc" stroke="#e3c5bc" stroke-width="0.4"/>
<polygon points="983.6,277.1 991.2,276.2 992.1,292.4 988.7,299.2 984.4,292.4" fill="#e3c5bc" stroke="#e3c5bc" stroke-width="0.4"/>
<polygon points="993.4,237.1 1003.6,228.6 1015.5,226.9 1024.0,232.0 1020.6,242.2 1010.4,249.0 1000.2,255.8 991.7,264.3 983.2,266.0 981.5,255.8 988.3,245.6" fill="#d89d8a" stroke="#d89d8a" stroke-width="0.4"/>
<polygon points="1044.4,245.6 1052.9,249.0 1051.2,259.2 1044.4,257.5" fill="#e3c5bc" stroke="#e3c5bc" stroke-width="0.4"/>
<polygon points="998.9,232.9 1007.4,227.8 1015.9,229.5 1017.6,236.3 1009.1,241.4 1000.6,241.4" fill="#f1eceb" stroke="#f1eceb" stroke-width="0.4"/>
<polygon points="985.3,253.3 992.1,251.6 993.8,258.4 988.7,261.8" fill="#f1eceb" stroke="#f1eceb" stroke-width="0.4"/>
<polygon points="985.3,278.8 990.4,278.8 990.4,289.0 987.0,292.4" fill="#f1eceb" stroke="#f1eceb" stroke-width="0.4"/>
<polygon points="1043.1,253.3 1051.6,248.2 1054.7,258.4 1048.2,264.4 1043.1,260.9" fill="#e3c5bc" stroke="#e3c5bc" stroke-width="0.4"/>
<polygon points="996.8,237.1 1005.3,230.3 1015.5,229.4 1019.8,233.7 1016.3,240.5 1007.0,245.6 998.5,247.3" fill="#e3c5bc" stroke="#e3c5bc" stroke-width="0.4"/>
<polygon points="1001.9,236.2 1010.4,232.0 1015.5,233.4 1012.9,237.9 1004.4,241.3" fill="#f1eceb" stroke="#f1eceb" stroke-width="0.4"/>
<polygon points="983.2,255.8 990.0,254.1 991.7,260.9 984.9,264.3" fill="#f1eceb" stroke="#f1eceb" stroke-width="0.4"/>
<polygon points="1045.7,255.0 1050.8,251.6 1052.5,258.4 1048.2,261.8" fill="#f1eceb" stroke="#f1eceb" stroke-width="0.4"/>
<polygon points="944.1,204.8 948.3,203.9 949.2,208.2 944.9,209.0" fill="#3c0914" stroke="#3c0914" stroke-width="0.4"/>
<polygon points="1034.6,278.8 1041.4,272.0 1049.9,266.9 1056.7,270.3 1051.6,278.8 1044.8,282.2 1038.0,280.5" fill="#ffffff" stroke="#ffffff" stroke-width="0.4"/>
<polygon points="887.0,463.2 891.3,456.4 898.1,454.7 903.2,459.8 911.7,458.1 920.2,461.5 921.9,470.0 918.5,478.5 910.0,481.9 901.5,483.6 894.7,481.9 889.6,475.1 887.9,468.3" fill="#ffffff" stroke="#ffffff" stroke-width="0.4"/>
<polygon points="981.9,362.9 988.7,356.1 998.9,352.7 1002.3,357.8 997.2,362.9 1002.3,371.4 1006.5,374.8 1002.3,385.0 997.2,378.2 992.1,381.6 987.0,374.8 983.6,368.0" fill="#ffffff" stroke="#ffffff" stroke-width="0.4"/>
<polygon points="965.8,291.65 966.7,291.65 966.7,522.9 961.4,522.9" fill="#fff"/>
<line x1="966.4" y1="285.65" x2="966.4" y2="522.9" stroke="#999" stroke-opacity="0.45" stroke-width="0.6"/>
<line x1="966.4" y1="285.65" x2="1118.9" y2="467.4" stroke="#999" stroke-opacity="0.45" stroke-width="0.6"/>
<line x1="966.4" y1="285.65" x2="1200.0" y2="326.8" stroke="#999" stroke-opacity="0.45" stroke-width="0.6"/>
<line x1="966.4" y1="285.65" x2="1171.9" y2="167.0" stroke="#999" stroke-opacity="0.45" stroke-width="0.6"/>
<line x1="966.4" y1="285.65" x2="1047.5" y2="62.7" stroke="#999" stroke-opacity="0.45" stroke-width="0.6"/>
<line x1="966.4" y1="285.65" x2="885.3" y2="62.7" stroke="#999" stroke-opacity="0.45" stroke-width="0.6"/>
<line x1="966.4" y1="285.65" x2="760.9" y2="167.0" stroke="#999" stroke-opacity="0.45" stroke-width="0.6"/>
<line x1="966.4" y1="285.65" x2="732.8" y2="326.8" stroke="#999" stroke-opacity="0.45" stroke-width="0.6"/>
<line x1="966.4" y1="285.65" x2="813.9" y2="467.4" stroke="#999" stroke-opacity="0.45" stroke-width="0.6"/>
<circle cx="966.4" cy="285.65" r="156.1" fill="none" stroke="#999" stroke-opacity="0.45" stroke-width="0.6"/>
<circle cx="966.4" cy="285.65" r="77.5" fill="none" stroke="#999" stroke-opacity="0.45" stroke-width="0.6"/>
<polyline points="904.1,59.5 908.4,65.4 914.3,70.5 915.2,79.0 908.4,81.5 903.3,83.2 899.0,88.3 901.6,94.3 904.1,96.8 908.4,93.4 915.2,94.3 922.0,95.2 923.7,98.5 918.6,103.7 912.6,106.2 909.2,108.8 912.6,112.1 917.8,114.7 922.8,119.8 925.4,124.0 923.7,128.3 919.5,133.4 918.6,141.9 915.2,147.0 909.2,151.2 903.3,153.8 899.0,153.8 894.0,157.2 886.3,158.9 877.8,162.3 869.3,164.8 860.8,166.6 852.3,166.6 855.7,173.3 851.5,177.6 849.8,186.1 843.0,192.9 836.1,197.1 830.2,203.1 825.1,208.2 818.3,212.4 813.2,216.7 806.4,220.1" fill="none" stroke="#0072bd" stroke-width="1.5" stroke-linejoin="round"/>
<polyline points="933.0,98.5 940.7,86.7 950.9,92.6 960.2,93.4 965.3,96.0 966.2,91.8 969.6,88.3 975.5,85.8 972.1,79.0 968.8,70.5 973.0,67.1 983.2,62.8 993.4,59.5 1003.6,54.4 1007.8,52.6 1014.6,56.9 1018.9,58.6" fill="none" stroke="#0072bd" stroke-width="1.5" stroke-linejoin="round"/>
<polyline points="933.0,98.5 942.4,105.3 950.9,108.8 960.2,116.4 966.2,121.5 973.8,126.6 983.2,130.8 993.4,131.7 998.5,128.3 1005.3,126.6 1012.1,130.0 1017.2,133.4 1021.4,139.3 1025.7,147.0 1030.8,150.4 1035.0,155.5 1036.8,164.0 1041.0,172.5 1047.8,179.3 1052.0,181.0 1058.0,175.0 1066.5,180.1 1074.2,184.4 1079.2,186.9 1077.5,192.9 1074.2,196.3 1072.4,204.8 1075.0,211.6 1079.2,218.4 1080.1,225.2 1082.7,232.0 1078.4,237.1 1085.2,242.2 1092.0,248.1 1085.2,245.6 1078.4,240.5 1071.6,238.8 1064.8,242.2 1061.4,249.0 1063.9,255.8 1060.5,262.6 1061.4,269.7" fill="none" stroke="#0072bd" stroke-width="1.5" stroke-linejoin="round"/>
<polyline points="966.2,91.8 966.2,121.5" fill="none" stroke="#0072bd" stroke-width="1.5" stroke-linejoin="round"/>
<polyline points="1023.1,76.5 1027.4,72.2 1030.8,65.4 1041.0,62.8 1047.8,64.5 1044.4,70.5 1041.8,76.5 1047.8,78.2 1056.3,76.5 1064.8,73.9 1069.0,72.2" fill="none" stroke="#0072bd" stroke-width="1.5" stroke-linejoin="round"/>
<polyline points="960.2,139.3 964.5,136.8 969.6,136.8 967.9,140.2 962.8,141.9 960.2,139.3" fill="none" stroke="#0072bd" stroke-width="1.5" stroke-linejoin="round"/>
<polyline points="926.2,79.0 930.5,77.3 936.4,79.0 935.6,81.5 929.6,81.0 926.2,79.0" fill="none" stroke="#0072bd" stroke-width="1.5" stroke-linejoin="round"/>
<polyline points="1022.3,183.5 1025.7,187.8 1029.1,192.9 1032.5,196.3 1035.0,194.6 1030.8,189.5 1027.4,185.2 1022.3,183.5" fill="none" stroke="#0072bd" stroke-width="1.5" stroke-linejoin="round"/>
<polyline points="1034.2,197.1 1042.7,194.6 1047.8,197.1 1044.4,203.1 1037.6,204.8 1034.2,201.4 1034.2,197.1" fill="none" stroke="#0072bd" stroke-width="1.5" stroke-linejoin="round"/>
<polyline points="1041.8,181.0 1046.9,180.1 1046.1,186.1 1043.5,189.5 1041.8,181.0" fill="none" stroke="#0072bd" stroke-width="1.5" stroke-linejoin="round"/>
<polyline points="828.9,93.1 838.9,93.1 846.4,91.2 844.5,86.2 843.3,83.8" fill="none" stroke="#0072bd" stroke-width="1.5" stroke-linejoin="round"/>
<polyline points="852.6,89.4 855.8,86.2 858.3,81.2 857.6,76.2" fill="none" stroke="#0072bd" stroke-width="1.5" stroke-linejoin="round"/>
<polyline points="797.6,183.8 802.6,178.1 804.5,183.8 808.9,186.2 813.9,178.1 812.0,186.2 810.8,192.5 811.4,198.1 807.6,191.2 803.3,200.0 799.5,194.4 803.9,191.2 797.6,188.1 797.6,183.8" fill="none" stroke="#0072bd" stroke-width="1.5" stroke-linejoin="round"/>
<polyline points="757.6,192.5 760.1,183.8 764.5,182.5 762.6,188.8 770.1,193.1 765.1,196.2 762.6,202.5 765.1,207.5 762.6,211.2 761.4,217.5 758.9,212.5 760.1,206.2 757.6,200.0 757.6,192.5" fill="none" stroke="#0072bd" stroke-width="1.5" stroke-linejoin="round"/>
<polyline points="839.5,192.5 834.5,199.4 832.6,203.8 827.0,206.9 822.0,210.6 819.5,216.9 816.4,219.0 813.9,213.8 810.8,211.9 806.4,215.0 807.6,221.2 804.5,225.6 801.1,230.0 804.5,232.5 808.9,231.2 807.6,236.9 802.9,242.5 798.9,247.5 795.8,252.5 794.9,257.5 797.9,261.5 802.9,260.0 806.4,262.8 803.6,266.5 796.4,265.6 792.9,267.8 796.6,271.5 802.9,272.5 808.3,270.0 811.4,267.8 816.4,269.0 821.4,271.5 826.4,275.6 832.6,276.2 833.9,282.5 837.0,285.2 841.4,282.8 843.3,277.5 842.0,273.8" fill="none" stroke="#0072bd" stroke-width="1.5" stroke-linejoin="round"/>
<polyline points="843.3,206.2 849.5,205.0 853.9,206.2 857.6,210.6 862.0,213.8 864.9,216.2 863.9,222.5 858.9,226.2 853.9,228.8 850.1,231.2 849.5,226.2 848.3,221.2 845.1,216.9 842.6,211.2 843.3,206.2" fill="none" stroke="#0072bd" stroke-width="1.5" stroke-linejoin="round"/>
<polyline points="826.4,221.2 830.1,216.9 838.9,216.2 843.9,218.8 847.0,223.8 849.5,231.2 846.4,235.0 842.6,238.8 840.1,242.5 843.3,246.2 844.5,251.2 841.4,252.5 836.4,250.0 831.4,248.8 825.1,249.4 818.9,251.2 813.9,256.2 811.4,252.5 812.6,246.2 808.9,240.0 812.6,233.8 813.9,227.5 816.4,221.2 821.4,220.0 826.4,221.2" fill="none" stroke="#0072bd" stroke-width="1.5" stroke-linejoin="round"/>
<polyline points="866.4,232.5 870.1,228.8 876.4,225.6 879.5,227.5 881.4,232.5 880.8,238.1 876.4,240.0 872.0,242.5 868.9,245.6 865.1,245.0 861.4,247.5 862.6,242.5 858.9,240.0 856.4,237.5 861.4,236.2 866.4,232.5" fill="none" stroke="#0072bd" stroke-width="1.5" stroke-linejoin="round"/>
<polyline points="867.6,231.2 870.1,236.2" fill="none" stroke="#0072bd" stroke-width="1.5" stroke-linejoin="round"/>
<polyline points="869.5,230.6 872.0,235.6" fill="none" stroke="#0072bd" stroke-width="1.5" stroke-linejoin="round"/>
<polyline points="872.0,230.0 873.9,235.0" fill="none" stroke="#0072bd" stroke-width="1.5" stroke-linejoin="round"/>
<polyline points="876.4,248.8 880.1,246.2 883.3,248.8 884.5,252.5 882.6,255.6 878.9,252.5 876.4,248.8" fill="none" stroke="#0072bd" stroke-width="1.5" stroke-linejoin="round"/>
<polyline points="856.4,250.0 862.6,248.8 867.6,251.2 863.9,255.0 857.6,253.8 856.4,250.0" fill="none" stroke="#0072bd" stroke-width="1.5" stroke-linejoin="round"/>
<polyline points="853.9,265.0 858.9,260.0 865.1,261.2 863.9,266.2 857.6,270.0 852.6,268.8 853.9,265.0" fill="none" stroke="#0072bd" stroke-width="1.5" stroke-linejoin="round"/>
<polyline points="877.6,265.0 882.6,262.5 887.6,262.5 885.8,267.5 880.1,270.0 875.8,269.4 877.6,265.0" fill="none" stroke="#0072bd" stroke-width="1.5" stroke-linejoin="round"/>
<polyline points="870.1,259.4 875.1,259.4 875.1,261.2 870.1,261.2 870.1,259.4" fill="none" stroke="#0072bd" stroke-width="1.5" stroke-linejoin="round"/>
<polyline points="848.9,275.0 851.4,272.5 854.5,274.4 853.9,277.5 850.1,278.1 848.9,275.0" fill="none" stroke="#0072bd" stroke-width="1.5" stroke-linejoin="round"/>
<polyline points="870.1,276.2 872.6,272.5 873.9,280.0 871.4,281.2 870.1,276.2" fill="none" stroke="#0072bd" stroke-width="1.5" stroke-linejoin="round"/>
<polyline points="823.9,263.8 828.9,259.4 832.6,257.5 837.6,258.1 838.9,261.2 843.9,262.5 844.5,266.2 839.5,268.1 836.4,270.0 831.4,272.5 826.4,271.2 823.9,265.0 823.9,263.8" fill="none" stroke="#0072bd" stroke-width="1.5" stroke-linejoin="round"/>
<polyline points="802.6,285.0 808.9,280.0 816.4,277.5 823.9,276.2 830.1,277.5 832.6,282.5" fill="none" stroke="#0072bd" stroke-width="1.5" stroke-linejoin="round"/>
<polyline points="873.9,281.2 880.1,280.0 887.6,281.2 892.6,285.0 888.9,288.8 883.9,291.2 880.1,288.8 876.4,285.0 873.9,281.2" fill="none" stroke="#0072bd" stroke-width="1.5" stroke-linejoin="round"/>
<polyline points="892.6,288.8 896.4,285.0 901.4,285.0 907.6,288.8 912.6,293.8 916.4,300.0 917.6,307.5 915.1,313.8 910.1,313.1 905.1,310.0 901.4,313.8 896.4,316.2 892.6,312.5 887.6,310.0 882.6,306.2 876.4,305.0 870.1,306.2 865.1,303.8 861.4,298.8 861.4,292.5 863.9,288.8 868.9,288.8 872.6,293.8 877.6,291.2 882.6,292.5 887.6,290.0 892.6,288.8" fill="none" stroke="#0072bd" stroke-width="1.5" stroke-linejoin="round"/>
<polyline points="893.9,290.0 892.6,295.0 895.1,298.8 898.3,300.0" fill="none" stroke="#0072bd" stroke-width="1.5" stroke-linejoin="round"/>
<polyline points="847.6,288.8 850.1,282.5 855.1,282.5 856.4,288.8 855.1,296.2 856.4,302.5 852.6,305.0 849.5,302.5 848.3,296.2 847.6,288.8" fill="none" stroke="#0072bd" stroke-width="1.5" stroke-linejoin="round"/>
<polyline points="825.1,297.5 830.1,293.8 836.4,295.0 840.1,298.8 842.0,302.5 838.9,301.2 833.9,297.5 828.9,296.2 825.1,297.5" fill="none" stroke="#0072bd" stroke-width="1.5" stroke-linejoin="round"/>
<polyline points="830.1,306.2 836.4,305.0 842.0,306.9 843.9,312.5 841.4,315.0 837.6,315.0 835.1,310.0 832.6,307.5 830.1,306.2" fill="none" stroke="#0072bd" stroke-width="1.5" stroke-linejoin="round"/>
<polyline points="789.5,293.8 796.4,290.0 803.9,288.8 807.6,285.0 813.9,282.5 818.9,285.0 813.9,288.8 807.6,291.2 801.4,293.8 796.4,297.5 791.4,297.5 789.5,293.8" fill="none" stroke="#0072bd" stroke-width="1.5" stroke-linejoin="round"/>
<polyline points="812.6,315.0 808.9,310.0 811.4,302.5 816.4,297.5 822.6,296.2 826.4,298.8 825.1,303.8 821.4,307.5 826.4,306.9 830.1,306.2" fill="none" stroke="#0072bd" stroke-width="1.5" stroke-linejoin="round"/>
<polyline points="730.8,266.2 736.4,268.1 742.6,271.2 748.3,276.2 752.6,276.2 754.5,282.5 762.6,285.0 763.3,290.0 768.9,293.8 776.4,296.2 780.1,298.8 783.3,296.2 783.9,300.0 781.4,303.8 785.1,308.8 787.6,311.9 792.6,311.2 796.4,308.1 801.4,308.8 807.6,306.2 806.4,302.5 807.6,300.0 812.6,315.0" fill="none" stroke="#0072bd" stroke-width="1.5" stroke-linejoin="round"/>
<polyline points="757.0,301.2 762.6,297.5 767.6,298.8 773.9,298.8 778.9,300.6 775.1,305.0 771.4,310.0 767.6,315.0 763.9,319.4 761.4,315.0 763.9,310.0 760.1,306.2 757.0,301.2" fill="none" stroke="#0072bd" stroke-width="1.5" stroke-linejoin="round"/>
<polyline points="749.5,310.0 752.6,311.9 753.9,315.0 750.8,313.8 749.5,310.0" fill="none" stroke="#0072bd" stroke-width="1.5" stroke-linejoin="round"/>
<polyline points="746.4,324.4 751.4,323.1 752.6,325.6 747.6,326.2 746.4,324.4" fill="none" stroke="#0072bd" stroke-width="1.5" stroke-linejoin="round"/>
<polyline points="737.6,335.0 742.6,331.2 748.9,332.5 753.9,331.2 757.6,333.8 756.4,340.0 757.6,346.2 756.4,355.0" fill="none" stroke="#0072bd" stroke-width="1.5" stroke-linejoin="round"/>
<polyline points="768.9,328.8 773.9,325.0 778.9,326.2 781.4,331.2 785.1,333.8 791.4,327.5 796.4,331.2 793.9,337.5 786.4,338.8 781.4,337.5 776.4,336.2 772.6,340.0 770.1,346.2 771.4,352.5 770.1,355.0" fill="none" stroke="#0072bd" stroke-width="1.5" stroke-linejoin="round"/>
<polyline points="793.9,326.2 797.6,323.8 801.4,325.6 800.8,330.0 796.4,330.6 793.9,326.2" fill="none" stroke="#0072bd" stroke-width="1.5" stroke-linejoin="round"/>
<polyline points="830.1,306.2 833.9,310.0 836.4,316.2 835.1,322.5 832.6,327.5 828.9,333.8 830.1,340.0 826.4,346.2 822.6,345.0 818.9,348.8 813.9,347.5 810.1,351.2 810.1,355.0" fill="none" stroke="#0072bd" stroke-width="1.5" stroke-linejoin="round"/>
<polyline points="866.4,355.2 867.6,352.5 870.1,347.5 872.0,342.5 871.4,335.0 867.6,331.2 866.4,326.2 870.1,325.0 872.6,321.2 876.4,318.8 877.6,315.0 882.6,313.1 888.9,314.4 893.9,316.9 898.9,315.0 905.1,316.2 910.1,313.1 916.4,315.0 919.5,320.0 923.9,324.4 928.9,322.5 933.9,325.0 938.9,327.5 942.6,331.2 945.1,337.5 943.9,342.5 946.4,346.2 951.4,350.0 950.1,355.2" fill="none" stroke="#0072bd" stroke-width="1.5" stroke-linejoin="round"/>
<polyline points="936.4,338.8 941.4,340.0 938.9,343.8 943.9,346.2 941.4,348.8 937.6,352.5" fill="none" stroke="#0072bd" stroke-width="1.5" stroke-linejoin="round"/>
<polyline points="1041.4,170.0 1051.6,175.1 1058.4,176.8 1063.5,181.9 1068.6,181.1 1075.4,185.3 1079.7,187.0 1077.9,193.8 1072.0,200.6 1069.4,205.7 1073.7,212.5 1077.9,215.9 1080.5,221.0 1082.2,227.8 1083.0,234.6 1077.9,238.0 1080.5,241.4 1085.6,244.8 1091.5,248.2 1083.9,244.8 1077.1,239.7 1072.0,239.7 1065.2,243.1 1063.5,249.9 1065.2,255.0 1059.2,258.4 1060.1,265.2 1065.2,261.8 1070.3,265.2 1073.7,272.0 1071.2,275.4 1075.4,280.5 1078.8,285.6 1083.9,290.7 1090.7,292.4 1092.4,300.9 1094.1,309.4 1100.9,306.0 1106.0,304.3 1106.0,307.7 1100.9,312.8 1106.0,316.2 1109.4,314.5 1111.1,317.9 1104.3,319.6 1095.8,320.4" fill="none" stroke="#0072bd" stroke-width="1.5" stroke-linejoin="round"/>
<polyline points="1097.5,319.6 1106.0,323.0 1114.5,326.4 1123.0,331.5 1129.8,329.8 1136.6,333.2 1141.7,341.7 1142.5,345.1 1136.6,345.1 1131.5,340.0 1124.7,338.3 1116.2,333.2 1109.4,331.5 1099.2,326.4 1090.7,323.0 1089.0,326.4 1094.1,333.2 1100.9,338.3 1109.4,341.7 1116.2,346.8 1123.0,348.5 1116.2,351.9 1109.4,355.3 1100.9,358.7 1097.5,362.1" fill="none" stroke="#0072bd" stroke-width="1.5" stroke-linejoin="round"/>
<polyline points="1022.7,183.6 1026.1,188.7 1029.5,192.1 1032.0,190.4 1028.7,185.3 1025.2,182.8 1022.7,183.6" fill="none" stroke="#0072bd" stroke-width="1.5" stroke-linejoin="round"/>
<polyline points="1031.2,193.8 1036.3,198.9 1041.4,204.0 1044.8,200.6 1041.4,195.5 1034.6,192.1 1031.2,193.8" fill="none" stroke="#0072bd" stroke-width="1.5" stroke-linejoin="round"/>
<polyline points="1043.1,181.9 1047.3,180.2 1047.3,187.0 1043.9,188.7 1043.1,181.9" fill="none" stroke="#0072bd" stroke-width="1.5" stroke-linejoin="round"/>
<polyline points="1034.6,278.8 1039.7,273.7 1046.5,268.6 1049.9,265.2 1054.2,263.5 1056.7,266.9 1055.0,270.3 1051.6,272.0 1053.3,276.2 1048.2,280.5 1043.1,283.1 1038.0,280.5 1034.6,278.8" fill="none" stroke="#0072bd" stroke-width="1.5" stroke-linejoin="round"/>
<polyline points="1021.0,317.9 1024.4,319.6 1023.5,324.7 1021.0,323.0 1021.0,317.9" fill="none" stroke="#0072bd" stroke-width="1.5" stroke-linejoin="round"/>
<polyline points="1026.1,314.5 1029.5,313.6 1030.3,319.6 1026.9,321.3 1026.1,314.5" fill="none" stroke="#0072bd" stroke-width="1.5" stroke-linejoin="round"/>
<polyline points="1024.4,326.4 1028.7,325.5 1029.5,329.8 1025.2,331.5 1024.4,326.4" fill="none" stroke="#0072bd" stroke-width="1.5" stroke-linejoin="round"/>
<polyline points="1017.6,333.2 1022.7,331.5 1023.5,335.8 1018.4,337.4 1017.6,333.2" fill="none" stroke="#0072bd" stroke-width="1.5" stroke-linejoin="round"/>
<polyline points="1026.9,321.3 1030.3,321.3 1031.2,328.1 1028.7,328.9 1026.9,321.3" fill="none" stroke="#0072bd" stroke-width="1.5" stroke-linejoin="round"/>
<polyline points="1060.1,323.0 1062.7,321.3 1065.2,323.9 1066.9,331.5 1072.0,341.7 1078.8,350.2 1085.6,358.7 1090.7,363.8 1094.1,365.5 1090.7,370.6 1083.9,372.3 1077.1,368.9 1072.0,360.4 1066.9,350.2 1062.7,340.0 1060.1,329.8 1060.1,323.0" fill="none" stroke="#0072bd" stroke-width="1.5" stroke-linejoin="round"/>
<polyline points="927.5,320.4 934.3,327.2 939.4,332.3 942.8,342.5 946.2,340.8 951.3,347.6 949.6,352.7 946.2,356.1 942.8,361.2 939.4,368.0 934.3,374.8 930.9,381.6 927.5,388.4 929.2,395.2 925.8,402.0 922.4,408.8 917.3,415.6 913.9,419.0 910.5,417.3 907.1,422.4 903.7,419.0 898.6,422.4 903.7,425.8 910.5,427.5 905.4,430.9 896.9,432.6 888.4,436.0 881.6,432.6 871.4,430.9" fill="none" stroke="#0072bd" stroke-width="1.5" stroke-linejoin="round"/>
<polyline points="887.5,473.4 891.8,468.3 888.4,463.2 893.5,456.4 896.9,461.5 900.3,458.9 905.4,463.2 912.2,461.5 917.3,463.2 921.5,468.3 920.7,475.1 915.6,478.5 908.8,480.2 902.0,482.8 895.2,480.2 890.1,476.8 887.5,473.4" fill="none" stroke="#0072bd" stroke-width="1.5" stroke-linejoin="round"/>
<polyline points="981.9,363.8 987.0,357.8 993.8,354.4 998.9,352.7 1002.3,356.1 997.2,359.5 993.8,362.9 998.9,364.6 1002.3,369.7 1005.7,373.1 1004.0,376.5 1000.6,374.8 998.9,379.9 997.2,385.0 992.1,379.9 988.7,374.8 984.5,369.7 981.9,363.8" fill="none" stroke="#0072bd" stroke-width="1.5" stroke-linejoin="round"/>
<polyline points="987.0,521.0 985.3,514.2 988.7,509.1 990.4,500.6 995.5,492.1 998.0,485.3 1002.3,476.8 1005.7,466.6 1007.4,458.1 1009.1,449.6 1012.5,446.2 1010.8,442.8 1015.9,441.1 1014.2,436.0 1019.3,430.9 1024.4,422.4 1029.5,419.0 1032.9,421.6 1034.6,417.3 1039.7,415.6 1043.1,419.0 1048.2,417.3 1053.3,418.1 1058.4,416.4 1065.2,417.3 1072.0,415.6 1078.8,419.0 1083.9,424.1 1087.3,430.9 1083.9,434.3 1075.4,436.0 1066.9,436.0 1061.8,436.9 1072.0,438.5 1077.1,444.5 1082.2,449.6 1089.0,447.9 1092.4,445.4 1090.7,441.1 1095.8,436.0 1089.0,434.3 1090.7,425.8 1087.3,419.0 1092.4,417.3 1094.1,412.2 1089.0,410.5 1083.9,405.4 1090.7,402.0 1099.2,405.4 1097.5,398.6 1094.1,391.8 1097.5,385.0 1100.9,379.9 1106.0,374.8 1102.6,369.7 1109.4,368.0 1112.8,369.7 1109.4,364.6 1106.0,366.3" fill="none" stroke="#0072bd" stroke-width="1.5" stroke-linejoin="round"/>
<polyline points="1060.1,322.9 1062.7,322.1 1065.2,325.5 1066.9,334.0 1070.3,342.5 1075.4,352.7 1080.5,362.9 1085.6,369.7 1090.7,373.1 1094.1,368.0 1091.5,371.4 1083.9,373.1 1077.1,368.0 1072.0,359.5 1066.9,349.3 1062.7,337.4 1060.1,327.2 1060.1,322.9" fill="none" stroke="#0072bd" stroke-width="1.5" stroke-linejoin="round"/>
<polyline points="1037.2,463.2 1041.4,458.9 1048.2,458.1 1049.9,463.2 1046.5,470.0 1043.9,478.5 1044.8,487.0 1049.9,495.5 1055.0,500.6 1061.8,502.3 1068.6,498.9 1075.4,493.8" fill="none" stroke="#0072bd" stroke-width="1.5" stroke-linejoin="round"/>
<polyline points="1037.2,463.2 1038.8,471.7 1036.3,480.2 1032.9,488.7 1032.0,497.2 1034.6,504.0 1041.4,508.2 1044.8,507.4" fill="none" stroke="#0072bd" stroke-width="1.5" stroke-linejoin="round"/>
<polyline points="1080.5,478.5 1085.6,476.8 1090.7,478.5 1092.4,483.6 1087.3,487.0 1082.2,484.4 1080.5,478.5" fill="none" stroke="#0072bd" stroke-width="1.5" stroke-linejoin="round"/>
<polyline points="1087.3,461.5 1092.4,460.6 1097.5,464.9 1100.9,470.0 1095.8,470.0 1090.7,466.6 1087.3,461.5" fill="none" stroke="#0072bd" stroke-width="1.5" stroke-linejoin="round"/>
<polyline points="1087.3,390.1 1090.7,388.4 1092.4,392.6 1089.0,394.4 1087.3,390.1" fill="none" stroke="#0072bd" stroke-width="1.5" stroke-linejoin="round"/>
<polyline points="877.7,311.9 874.3,317.0 870.9,322.1 871.8,328.9 872.6,335.7 870.9,342.5 867.5,349.3 862.4,356.1 857.3,361.2 852.2,366.3 848.8,371.4 848.0,376.5 843.7,379.9 838.6,381.6 836.9,386.7 840.3,388.4 835.2,391.8 828.4,394.4 821.6,398.6 816.5,403.7 811.4,410.5 806.3,419.0 801.2,427.5 797.8,436.0 796.1,444.5 797.8,451.3 801.2,456.4 806.3,453.0 811.4,449.6 818.2,446.2 821.6,442.8 828.4,441.1 835.2,436.0 838.6,432.6 845.4,434.3 852.2,436.0 860.7,435.1 869.2,432.6 876.0,430.9 884.5,432.6 893.0,432.6 899.8,430.9 904.9,427.5 901.5,424.1 898.1,422.4 903.2,419.0 908.3,422.4 906.6,417.3 911.7,415.6 910.0,412.2 915.1,410.5 916.8,405.4 921.9,402.0 925.3,395.2 928.7,388.4 930.4,383.3" fill="none" stroke="#0072bd" stroke-width="1.5" stroke-linejoin="round"/>
<polyline points="731.5,335.7 740.0,332.3 746.8,328.9 751.9,322.1 757.0,318.7 758.7,325.5 760.4,334.0 758.7,342.5 755.3,351.0 751.9,359.5 748.5,368.0 755.3,373.1 762.1,374.8 765.5,371.4" fill="none" stroke="#0072bd" stroke-width="1.5" stroke-linejoin="round"/>
<polyline points="814.8,315.3 811.4,323.8 814.8,330.6 810.5,337.4 811.4,345.9 808.0,351.0 811.4,357.8 806.3,361.2 809.7,366.3 804.6,368.0 801.2,374.8 797.8,373.1 794.4,366.3 796.1,359.5 791.0,357.8 787.6,364.6 784.2,371.4 780.8,378.2 775.7,376.5 774.0,368.0 777.4,361.2 774.0,357.8 770.6,364.6 768.9,373.1 763.8,374.8" fill="none" stroke="#0072bd" stroke-width="1.5" stroke-linejoin="round"/>
<polyline points="750.2,310.2 753.6,308.5 754.4,313.6 751.9,315.3 750.2,310.2" fill="none" stroke="#0072bd" stroke-width="1.5" stroke-linejoin="round"/>
<polyline points="794.4,323.8 799.5,322.1 802.9,325.5 801.2,330.6 796.1,329.8 794.4,323.8" fill="none" stroke="#0072bd" stroke-width="1.5" stroke-linejoin="round"/>
<g fill="#000">
<circle cx="966.4" cy="297.2" r="1.75"/>
<circle cx="970.8" cy="296.4" r="1.75"/>
<circle cx="970.8" cy="274.9" r="1.75"/>
<circle cx="966.4" cy="274.1" r="1.75"/>
<circle cx="962.0" cy="274.9" r="1.75"/>
<circle cx="958.2" cy="277.5" r="1.75"/>
<circle cx="955.7" cy="281.2" r="1.75"/>
<circle cx="954.8" cy="285.6" r="1.75"/>
<circle cx="955.7" cy="290.1" r="1.75"/>
<circle cx="958.2" cy="293.8" r="1.75"/>
<circle cx="962.0" cy="296.4" r="1.75"/>
<circle cx="966.4" cy="308.8" r="1.75"/>
<circle cx="970.9" cy="308.4" r="1.75"/>
<circle cx="975.3" cy="264.2" r="1.75"/>
<circle cx="970.9" cy="262.9" r="1.75"/>
<circle cx="966.4" cy="262.5" r="1.75"/>
<circle cx="961.9" cy="262.9" r="1.75"/>
<circle cx="957.5" cy="264.2" r="1.75"/>
<circle cx="953.5" cy="266.4" r="1.75"/>
<circle cx="950.0" cy="269.3" r="1.75"/>
<circle cx="947.1" cy="272.8" r="1.75"/>
<circle cx="945.0" cy="276.8" r="1.75"/>
<circle cx="943.7" cy="281.1" r="1.75"/>
<circle cx="943.2" cy="285.6" r="1.75"/>
<circle cx="943.7" cy="290.2" r="1.75"/>
<circle cx="945.0" cy="294.5" r="1.75"/>
<circle cx="947.1" cy="298.5" r="1.75"/>
<circle cx="950.0" cy="302.0" r="1.75"/>
<circle cx="953.5" cy="304.9" r="1.75"/>
<circle cx="957.5" cy="307.1" r="1.75"/>
<circle cx="961.9" cy="308.4" r="1.75"/>
<circle cx="966.4" cy="320.4" r="1.75"/>
<circle cx="1000.5" cy="292.4" r="1.75"/>
<circle cx="1001.2" cy="285.6" r="1.75"/>
<circle cx="1000.5" cy="278.9" r="1.75"/>
<circle cx="998.5" cy="272.3" r="1.75"/>
<circle cx="973.2" cy="251.5" r="1.75"/>
<circle cx="966.4" cy="250.9" r="1.75"/>
<circle cx="959.6" cy="251.5" r="1.75"/>
<circle cx="953.1" cy="253.5" r="1.75"/>
<circle cx="947.1" cy="256.7" r="1.75"/>
<circle cx="941.8" cy="261.1" r="1.75"/>
<circle cx="937.5" cy="266.3" r="1.75"/>
<circle cx="934.3" cy="272.3" r="1.75"/>
<circle cx="932.3" cy="278.9" r="1.75"/>
<circle cx="931.6" cy="285.6" r="1.75"/>
<circle cx="932.3" cy="292.4" r="1.75"/>
<circle cx="934.3" cy="299.0" r="1.75"/>
<circle cx="937.5" cy="305.0" r="1.75"/>
<circle cx="941.8" cy="310.2" r="1.75"/>
<circle cx="947.1" cy="314.6" r="1.75"/>
<circle cx="953.1" cy="317.8" r="1.75"/>
<circle cx="959.6" cy="319.8" r="1.75"/>
<circle cx="1008.8" cy="304.5" r="1.75"/>
<circle cx="1011.1" cy="298.2" r="1.75"/>
<circle cx="1012.4" cy="291.7" r="1.75"/>
<circle cx="1012.8" cy="285.0" r="1.75"/>
<circle cx="1012.2" cy="278.4" r="1.75"/>
<circle cx="1010.7" cy="271.9" r="1.75"/>
<circle cx="971.9" cy="239.6" r="1.75"/>
<circle cx="965.2" cy="239.3" r="1.75"/>
<circle cx="958.5" cy="239.9" r="1.75"/>
<circle cx="952.1" cy="241.5" r="1.75"/>
<circle cx="945.9" cy="244.0" r="1.75"/>
<circle cx="940.1" cy="247.4" r="1.75"/>
<circle cx="934.9" cy="251.6" r="1.75"/>
<circle cx="930.3" cy="256.4" r="1.75"/>
<circle cx="926.5" cy="261.9" r="1.75"/>
<circle cx="923.5" cy="267.9" r="1.75"/>
<circle cx="921.4" cy="274.2" r="1.75"/>
<circle cx="920.3" cy="280.8" r="1.75"/>
<circle cx="920.0" cy="287.5" r="1.75"/>
<circle cx="928.5" cy="312.4" r="1.75"/>
<circle cx="955.6" cy="330.8" r="1.75"/>
<circle cx="962.2" cy="331.9" r="1.75"/>
<circle cx="1020.0" cy="307.9" r="1.75"/>
<circle cx="1022.3" cy="301.4" r="1.75"/>
<circle cx="1023.7" cy="294.7" r="1.75"/>
<circle cx="1024.4" cy="287.9" r="1.75"/>
<circle cx="1024.3" cy="281.1" r="1.75"/>
<circle cx="1023.3" cy="274.3" r="1.75"/>
<circle cx="984.3" cy="230.5" r="1.75"/>
<circle cx="977.7" cy="228.7" r="1.75"/>
<circle cx="971.0" cy="227.8" r="1.75"/>
<circle cx="964.1" cy="227.7" r="1.75"/>
<circle cx="957.3" cy="228.3" r="1.75"/>
<circle cx="950.6" cy="229.8" r="1.75"/>
<circle cx="944.2" cy="232.0" r="1.75"/>
<circle cx="938.0" cy="235.0" r="1.75"/>
<circle cx="932.3" cy="238.7" r="1.75"/>
<circle cx="927.0" cy="243.0" r="1.75"/>
<circle cx="922.3" cy="248.0" r="1.75"/>
<circle cx="918.1" cy="253.4" r="1.75"/>
<circle cx="914.7" cy="259.3" r="1.75"/>
<circle cx="912.0" cy="265.6" r="1.75"/>
<circle cx="910.0" cy="272.1" r="1.75"/>
<circle cx="908.8" cy="278.8" r="1.75"/>
<circle cx="1032.7" cy="307.2" r="1.75"/>
<circle cx="1034.6" cy="300.1" r="1.75"/>
<circle cx="1035.7" cy="292.9" r="1.75"/>
<circle cx="1036.1" cy="285.6" r="1.75"/>
<circle cx="1032.7" cy="264.1" r="1.75"/>
<circle cx="1030.1" cy="257.3" r="1.75"/>
<circle cx="994.7" cy="222.0" r="1.75"/>
<circle cx="987.9" cy="219.4" r="1.75"/>
<circle cx="980.9" cy="217.5" r="1.75"/>
<circle cx="973.7" cy="216.3" r="1.75"/>
<circle cx="966.4" cy="216.0" r="1.75"/>
<circle cx="959.1" cy="216.3" r="1.75"/>
<circle cx="951.9" cy="217.5" r="1.75"/>
<circle cx="944.9" cy="219.4" r="1.75"/>
<circle cx="938.1" cy="222.0" r="1.75"/>
<circle cx="931.6" cy="225.3" r="1.75"/>
<circle cx="925.4" cy="229.3" r="1.75"/>
<circle cx="919.8" cy="233.9" r="1.75"/>
<circle cx="914.6" cy="239.0" r="1.75"/>
<circle cx="910.0" cy="244.7" r="1.75"/>
<circle cx="906.1" cy="250.8" r="1.75"/>
<circle cx="902.7" cy="257.3" r="1.75"/>
<circle cx="900.1" cy="264.1" r="1.75"/>
<circle cx="898.2" cy="271.2" r="1.75"/>
<circle cx="1045.5" cy="304.6" r="1.75"/>
<circle cx="1046.8" cy="298.4" r="1.75"/>
<circle cx="1047.5" cy="292.0" r="1.75"/>
<circle cx="1041.6" cy="254.5" r="1.75"/>
<circle cx="1038.9" cy="248.7" r="1.75"/>
<circle cx="1035.8" cy="243.1" r="1.75"/>
<circle cx="1019.2" cy="223.8" r="1.75"/>
<circle cx="1014.2" cy="219.8" r="1.75"/>
<circle cx="1008.9" cy="216.3" r="1.75"/>
<circle cx="1003.3" cy="213.2" r="1.75"/>
<circle cx="997.5" cy="210.5" r="1.75"/>
<circle cx="991.5" cy="208.3" r="1.75"/>
<circle cx="985.4" cy="206.5" r="1.75"/>
<circle cx="979.1" cy="205.3" r="1.75"/>
<circle cx="972.8" cy="204.5" r="1.75"/>
<circle cx="966.4" cy="204.3" r="1.75"/>
<circle cx="960.0" cy="204.5" r="1.75"/>
<circle cx="953.7" cy="205.3" r="1.75"/>
<circle cx="947.4" cy="206.5" r="1.75"/>
<circle cx="941.3" cy="208.3" r="1.75"/>
<circle cx="935.3" cy="210.5" r="1.75"/>
<circle cx="929.5" cy="213.2" r="1.75"/>
<circle cx="923.9" cy="216.3" r="1.75"/>
<circle cx="918.6" cy="219.8" r="1.75"/>
<circle cx="913.6" cy="223.8" r="1.75"/>
<circle cx="908.9" cy="228.1" r="1.75"/>
<circle cx="904.5" cy="232.8" r="1.75"/>
<circle cx="900.6" cy="237.8" r="1.75"/>
<circle cx="897.0" cy="243.1" r="1.75"/>
<circle cx="893.9" cy="248.7" r="1.75"/>
<circle cx="891.2" cy="254.5" r="1.75"/>
<circle cx="889.0" cy="260.5" r="1.75"/>
<circle cx="887.3" cy="266.7" r="1.75"/>
<circle cx="1056.9" cy="307.4" r="1.75"/>
<circle cx="1058.3" cy="300.2" r="1.75"/>
<circle cx="1059.2" cy="293.0" r="1.75"/>
<circle cx="1059.5" cy="285.6" r="1.75"/>
<circle cx="1059.2" cy="278.3" r="1.75"/>
<circle cx="1054.9" cy="256.9" r="1.75"/>
<circle cx="1049.3" cy="243.4" r="1.75"/>
<circle cx="1045.7" cy="237.0" r="1.75"/>
<circle cx="1041.7" cy="230.9" r="1.75"/>
<circle cx="1037.2" cy="225.2" r="1.75"/>
<circle cx="1032.2" cy="219.8" r="1.75"/>
<circle cx="1026.8" cy="214.9" r="1.75"/>
<circle cx="1021.1" cy="210.4" r="1.75"/>
<circle cx="1015.0" cy="206.3" r="1.75"/>
<circle cx="1008.6" cy="202.7" r="1.75"/>
<circle cx="1002.0" cy="199.7" r="1.75"/>
<circle cx="995.2" cy="197.1" r="1.75"/>
<circle cx="988.1" cy="195.2" r="1.75"/>
<circle cx="981.0" cy="193.7" r="1.75"/>
<circle cx="973.7" cy="192.9" r="1.75"/>
<circle cx="966.4" cy="192.6" r="1.75"/>
<circle cx="959.1" cy="192.9" r="1.75"/>
<circle cx="951.8" cy="193.7" r="1.75"/>
<circle cx="944.7" cy="195.2" r="1.75"/>
<circle cx="937.6" cy="197.1" r="1.75"/>
<circle cx="930.8" cy="199.7" r="1.75"/>
<circle cx="924.2" cy="202.7" r="1.75"/>
<circle cx="917.8" cy="206.3" r="1.75"/>
<circle cx="911.7" cy="210.4" r="1.75"/>
<circle cx="906.0" cy="214.9" r="1.75"/>
<circle cx="900.6" cy="219.8" r="1.75"/>
<circle cx="895.6" cy="225.2" r="1.75"/>
<circle cx="891.1" cy="230.9" r="1.75"/>
<circle cx="887.1" cy="237.0" r="1.75"/>
<circle cx="883.5" cy="243.4" r="1.75"/>
<circle cx="880.4" cy="250.0" r="1.75"/>
<circle cx="877.9" cy="256.9" r="1.75"/>
<circle cx="875.9" cy="263.9" r="1.75"/>
<circle cx="874.5" cy="271.1" r="1.75"/>
<circle cx="1069.2" cy="306.1" r="1.75"/>
<circle cx="1070.3" cy="299.3" r="1.75"/>
<circle cx="1071.0" cy="292.5" r="1.75"/>
<circle cx="1060.4" cy="239.3" r="1.75"/>
<circle cx="1057.2" cy="233.3" r="1.75"/>
<circle cx="1053.5" cy="227.4" r="1.75"/>
<circle cx="1049.5" cy="221.9" r="1.75"/>
<circle cx="1045.2" cy="216.6" r="1.75"/>
<circle cx="1040.5" cy="211.5" r="1.75"/>
<circle cx="1035.5" cy="206.9" r="1.75"/>
<circle cx="1030.2" cy="202.5" r="1.75"/>
<circle cx="1024.6" cy="198.5" r="1.75"/>
<circle cx="1018.8" cy="194.9" r="1.75"/>
<circle cx="1012.8" cy="191.7" r="1.75"/>
<circle cx="1006.5" cy="188.8" r="1.75"/>
<circle cx="1000.1" cy="186.4" r="1.75"/>
<circle cx="993.5" cy="184.4" r="1.75"/>
<circle cx="986.8" cy="182.9" r="1.75"/>
<circle cx="980.1" cy="181.7" r="1.75"/>
<circle cx="973.3" cy="181.1" r="1.75"/>
<circle cx="966.4" cy="180.9" r="1.75"/>
<circle cx="959.5" cy="181.1" r="1.75"/>
<circle cx="952.7" cy="181.7" r="1.75"/>
<circle cx="946.0" cy="182.9" r="1.75"/>
<circle cx="939.3" cy="184.4" r="1.75"/>
<circle cx="932.7" cy="186.4" r="1.75"/>
<circle cx="926.3" cy="188.8" r="1.75"/>
<circle cx="920.0" cy="191.7" r="1.75"/>
<circle cx="914.0" cy="194.9" r="1.75"/>
<circle cx="908.2" cy="198.5" r="1.75"/>
<circle cx="902.6" cy="202.5" r="1.75"/>
<circle cx="897.3" cy="206.9" r="1.75"/>
<circle cx="892.3" cy="211.5" r="1.75"/>
<circle cx="887.6" cy="216.6" r="1.75"/>
<circle cx="883.3" cy="221.9" r="1.75"/>
<circle cx="879.3" cy="227.4" r="1.75"/>
<circle cx="875.6" cy="233.3" r="1.75"/>
<circle cx="872.4" cy="239.3" r="1.75"/>
<circle cx="869.6" cy="245.5" r="1.75"/>
<circle cx="867.2" cy="252.0" r="1.75"/>
<circle cx="865.2" cy="258.5" r="1.75"/>
<circle cx="863.6" cy="265.2" r="1.75"/>
<circle cx="862.5" cy="272.0" r="1.75"/>
<circle cx="1070.3" cy="232.7" r="1.75"/>
<circle cx="1067.4" cy="227.4" r="1.75"/>
<circle cx="1064.2" cy="222.2" r="1.75"/>
<circle cx="1060.7" cy="217.1" r="1.75"/>
<circle cx="1057.0" cy="212.3" r="1.75"/>
<circle cx="1053.0" cy="207.7" r="1.75"/>
<circle cx="1048.8" cy="203.2" r="1.75"/>
<circle cx="1044.4" cy="199.0" r="1.75"/>
<circle cx="1039.8" cy="195.1" r="1.75"/>
<circle cx="1034.9" cy="191.3" r="1.75"/>
<circle cx="1029.9" cy="187.9" r="1.75"/>
<circle cx="1002.4" cy="174.8" r="1.75"/>
<circle cx="996.6" cy="173.1" r="1.75"/>
<circle cx="990.6" cy="171.6" r="1.75"/>
<circle cx="984.6" cy="170.5" r="1.75"/>
<circle cx="978.6" cy="169.7" r="1.75"/>
<circle cx="972.5" cy="169.2" r="1.75"/>
<circle cx="966.4" cy="169.1" r="1.75"/>
<circle cx="960.3" cy="169.2" r="1.75"/>
<circle cx="954.2" cy="169.7" r="1.75"/>
<circle cx="948.2" cy="170.5" r="1.75"/>
<circle cx="942.2" cy="171.6" r="1.75"/>
<circle cx="936.2" cy="173.1" r="1.75"/>
<circle cx="930.4" cy="174.8" r="1.75"/>
<circle cx="924.6" cy="176.8" r="1.75"/>
<circle cx="919.0" cy="179.2" r="1.75"/>
<circle cx="913.5" cy="181.8" r="1.75"/>
<circle cx="908.1" cy="184.7" r="1.75"/>
<circle cx="902.9" cy="187.9" r="1.75"/>
<circle cx="897.9" cy="191.3" r="1.75"/>
<circle cx="893.0" cy="195.1" r="1.75"/>
<circle cx="888.4" cy="199.0" r="1.75"/>
<circle cx="884.0" cy="203.2" r="1.75"/>
<circle cx="879.8" cy="207.7" r="1.75"/>
<circle cx="875.8" cy="212.3" r="1.75"/>
<circle cx="872.1" cy="217.1" r="1.75"/>
<circle cx="859.9" cy="238.2" r="1.75"/>
<circle cx="857.6" cy="243.9" r="1.75"/>
<circle cx="855.5" cy="249.6" r="1.75"/>
<circle cx="853.8" cy="255.5" r="1.75"/>
<circle cx="852.4" cy="261.4" r="1.75"/>
<circle cx="851.3" cy="267.4" r="1.75"/>
<circle cx="1083.7" cy="337.9" r="1.75"/>
<circle cx="1070.3" cy="210.2" r="1.75"/>
<circle cx="1066.2" cy="204.9" r="1.75"/>
<circle cx="1061.8" cy="199.7" r="1.75"/>
<circle cx="1057.2" cy="194.9" r="1.75"/>
<circle cx="1052.3" cy="190.2" r="1.75"/>
<circle cx="1047.2" cy="185.9" r="1.75"/>
<circle cx="1041.9" cy="181.8" r="1.75"/>
<circle cx="1036.3" cy="178.0" r="1.75"/>
<circle cx="1006.1" cy="163.6" r="1.75"/>
<circle cx="999.6" cy="161.6" r="1.75"/>
<circle cx="993.1" cy="160.1" r="1.75"/>
<circle cx="986.5" cy="158.8" r="1.75"/>
<circle cx="979.8" cy="158.0" r="1.75"/>
<circle cx="973.1" cy="157.4" r="1.75"/>
<circle cx="966.4" cy="157.3" r="1.75"/>
<circle cx="959.7" cy="157.4" r="1.75"/>
<circle cx="953.0" cy="158.0" r="1.75"/>
<circle cx="946.3" cy="158.8" r="1.75"/>
<circle cx="939.7" cy="160.1" r="1.75"/>
<circle cx="933.2" cy="161.6" r="1.75"/>
<circle cx="926.7" cy="163.6" r="1.75"/>
<circle cx="920.4" cy="165.8" r="1.75"/>
<circle cx="914.2" cy="168.4" r="1.75"/>
<circle cx="908.1" cy="171.3" r="1.75"/>
<circle cx="902.2" cy="174.5" r="1.75"/>
<circle cx="896.5" cy="178.0" r="1.75"/>
<circle cx="890.9" cy="181.8" r="1.75"/>
<circle cx="885.6" cy="185.9" r="1.75"/>
<circle cx="880.5" cy="190.2" r="1.75"/>
<circle cx="875.6" cy="194.9" r="1.75"/>
<circle cx="871.0" cy="199.7" r="1.75"/>
<circle cx="866.6" cy="204.9" r="1.75"/>
<circle cx="862.5" cy="210.2" r="1.75"/>
<circle cx="1091.4" cy="349.3" r="1.75"/>
<circle cx="1070.6" cy="191.8" r="1.75"/>
<circle cx="1065.6" cy="186.5" r="1.75"/>
<circle cx="995.6" cy="148.5" r="1.75"/>
<circle cx="988.3" cy="147.1" r="1.75"/>
<circle cx="981.1" cy="146.2" r="1.75"/>
<circle cx="973.7" cy="145.6" r="1.75"/>
<circle cx="966.4" cy="145.4" r="1.75"/>
<circle cx="944.5" cy="147.1" r="1.75"/>
<circle cx="937.2" cy="148.5" r="1.75"/>
<circle cx="930.1" cy="150.2" r="1.75"/>
<circle cx="923.1" cy="152.3" r="1.75"/>
<circle cx="896.3" cy="164.2" r="1.75"/>
<circle cx="890.0" cy="168.0" r="1.75"/>
<circle cx="884.0" cy="172.2" r="1.75"/>
<circle cx="878.1" cy="176.7" r="1.75"/>
<circle cx="872.6" cy="181.4" r="1.75"/>
<circle cx="867.2" cy="186.5" r="1.75"/>
<circle cx="862.2" cy="191.8" r="1.75"/>
<circle cx="857.4" cy="197.4" r="1.75"/>
<circle cx="852.9" cy="203.2" r="1.75"/>
<circle cx="936.7" cy="136.4" r="1.75"/>
<circle cx="930.9" cy="137.7" r="1.75"/>
<circle cx="925.1" cy="139.2" r="1.75"/>
<circle cx="863.1" cy="173.9" r="1.75"/>
<circle cx="960.2" cy="61.5" r="1.75"/>
<circle cx="966.2" cy="61.5" r="1.75"/>
<circle cx="772.3" cy="397.2" r="1.75"/>
<circle cx="775.7" cy="402.5" r="1.75"/>
<circle cx="779.1" cy="407.8" r="1.75"/>
<circle cx="782.5" cy="412.5" r="1.75"/>
<circle cx="785.6" cy="417.3" r="1.75"/>
<circle cx="789.3" cy="401.0" r="1.75"/>
<circle cx="954.2" cy="365.4" r="1.75"/>
<circle cx="952.1" cy="353.6" r="1.75"/>
<circle cx="944.8" cy="423.8" r="1.75"/>
<circle cx="952.1" cy="424.6" r="1.75"/>
<circle cx="959.5" cy="425.3" r="1.75"/>
<circle cx="941.1" cy="447.0" r="1.75"/>
<circle cx="949.6" cy="448.2" r="1.75"/>
<circle cx="958.1" cy="449.1" r="1.75"/>
<circle cx="966.9" cy="449.1" r="1.75"/>
<circle cx="921.5" cy="455.0" r="1.75"/>
<circle cx="930.0" cy="457.2" r="1.75"/>
<circle cx="939.4" cy="458.9" r="1.75"/>
<circle cx="948.8" cy="459.8" r="1.75"/>
<circle cx="957.8" cy="460.3" r="1.75"/>
<circle cx="966.9" cy="460.6" r="1.75"/>
<circle cx="975.9" cy="460.6" r="1.75"/>
<circle cx="985.3" cy="460.1" r="1.75"/>
<circle cx="994.6" cy="458.9" r="1.75"/>
<circle cx="966.9" cy="473.1" r="1.75"/>
<circle cx="976.5" cy="473.1" r="1.75"/>
<circle cx="986.7" cy="472.0" r="1.75"/>
<circle cx="996.3" cy="470.9" r="1.75"/>
<circle cx="966.9" cy="485.0" r="1.75"/>
<circle cx="977.6" cy="484.8" r="1.75"/>
<circle cx="966.9" cy="497.2" r="1.75"/>
<circle cx="978.2" cy="497.2" r="1.75"/>
<circle cx="978.5" cy="509.1" r="1.75"/>
<circle cx="922.9" cy="492.9" r="1.75"/>
<circle cx="920.4" cy="504.5" r="1.75"/>
<circle cx="926.1" cy="506.0" r="1.75"/>
<circle cx="931.9" cy="507.1" r="1.75"/>
<circle cx="937.7" cy="507.7" r="1.75"/>
<circle cx="943.6" cy="508.2" r="1.75"/>
<circle cx="949.6" cy="508.8" r="1.75"/>
<circle cx="1036.8" cy="363.4" r="1.75"/>
<circle cx="1049.0" cy="368.0" r="1.75"/>
<circle cx="1027.8" cy="369.7" r="1.75"/>
<circle cx="1044.5" cy="372.2" r="1.75"/>
<circle cx="1023.5" cy="373.4" r="1.75"/>
<circle cx="1039.7" cy="376.0" r="1.75"/>
<circle cx="1034.6" cy="379.6" r="1.75"/>
<circle cx="1030.3" cy="383.3" r="1.75"/>
<circle cx="1047.3" cy="385.0" r="1.75"/>
<circle cx="1019.6" cy="389.2" r="1.75"/>
<circle cx="1002.8" cy="396.1" r="1.75"/>
<circle cx="1000.1" cy="409.1" r="1.75"/>
<circle cx="1006.5" cy="407.1" r="1.75"/>
<circle cx="1077.1" cy="437.4" r="1.75"/>
<circle cx="1083.9" cy="447.0" r="1.75"/>
<circle cx="1072.8" cy="332.3" r="1.75"/>
<circle cx="1083.9" cy="337.4" r="1.75"/>
<circle cx="1094.1" cy="342.5" r="1.75"/>
<circle cx="1080.5" cy="343.4" r="1.75"/>
<circle cx="1090.7" cy="349.3" r="1.75"/>
<circle cx="865.8" cy="311.6" r="1.75"/>
<circle cx="876.8" cy="309.4" r="1.75"/>
<circle cx="867.5" cy="317.0" r="1.75"/>
<circle cx="877.7" cy="314.5" r="1.75"/>
<circle cx="868.3" cy="323.0" r="1.75"/>
<circle cx="858.1" cy="327.2" r="1.75"/>
<circle cx="860.7" cy="333.2" r="1.75"/>
<circle cx="862.4" cy="338.3" r="1.75"/>
<circle cx="865.8" cy="343.4" r="1.75"/>
<circle cx="853.0" cy="343.4" r="1.75"/>
<circle cx="842.0" cy="348.5" r="1.75"/>
<circle cx="855.6" cy="348.5" r="1.75"/>
<circle cx="845.4" cy="354.4" r="1.75"/>
<circle cx="859.0" cy="354.4" r="1.75"/>
<circle cx="835.2" cy="360.4" r="1.75"/>
<circle cx="848.8" cy="360.4" r="1.75"/>
<circle cx="824.1" cy="367.2" r="1.75"/>
<circle cx="838.6" cy="367.2" r="1.75"/>
<circle cx="811.4" cy="365.5" r="1.75"/>
<circle cx="813.9" cy="373.1" r="1.75"/>
<circle cx="826.7" cy="371.4" r="1.75"/>
<circle cx="796.1" cy="362.1" r="1.75"/>
</g>
</g>
<g stroke="#808080" stroke-width="2.0">
<line x1="959.1" y1="285.6" x2="973.7" y2="285.6"/>
<line x1="960.1" y1="282.0" x2="972.7" y2="289.3"/>
<line x1="962.8" y1="279.3" x2="970.0" y2="292.0"/>
<line x1="966.4" y1="278.3" x2="966.4" y2="292.9"/>
<line x1="970.0" y1="279.3" x2="962.8" y2="292.0"/>
<line x1="972.7" y1="282.0" x2="960.1" y2="289.3"/>
</g>
<circle cx="966.4" cy="285.65" r="5.2" fill="#808080"/>
<circle cx="966.4" cy="285.65" r="237.25" fill="none" stroke="#6a6a6a" stroke-width="2.5"/>
<line x1="966.4" y1="522.9" x2="966.4" y2="529.4" stroke="#6a6a6a" stroke-width="1.6"/>
<text transform="translate(968.9,539.9) rotate(0)" font-size="19.6" text-anchor="middle" dx="2.5" dy="6.8" fill="#666">0°</text>
<line x1="1118.9" y1="467.4" x2="1123.1" y2="472.4" stroke="#6a6a6a" stroke-width="1.6"/>
<text transform="translate(1129.8,480.4) rotate(-40)" font-size="19.6" text-anchor="middle" dx="2.5" dy="6.8" fill="#666">40°E</text>
<line x1="1200.0" y1="326.8" x2="1206.4" y2="328.0" stroke="#6a6a6a" stroke-width="1.6"/>
<text transform="translate(1216.8,329.8) rotate(-80)" font-size="19.6" text-anchor="middle" dx="2.5" dy="6.8" fill="#666">80°E</text>
<line x1="1171.9" y1="167.0" x2="1177.5" y2="163.8" stroke="#6a6a6a" stroke-width="1.6"/>
<text transform="translate(1186.2,158.8) rotate(60)" font-size="19.6" text-anchor="middle" dx="2.5" dy="6.8" fill="#666">120°E</text>
<line x1="1047.5" y1="62.7" x2="1049.8" y2="56.6" stroke="#6a6a6a" stroke-width="1.6"/>
<text transform="translate(1053.2,47.2) rotate(20)" font-size="19.6" text-anchor="middle" dx="2.5" dy="6.8" fill="#666">160°E</text>
<line x1="885.3" y1="62.7" x2="883.0" y2="56.6" stroke="#6a6a6a" stroke-width="1.6"/>
<text transform="translate(879.6,47.2) rotate(-20)" font-size="19.6" text-anchor="middle" dx="2.5" dy="6.8" fill="#666">160°W</text>
<line x1="760.9" y1="167.0" x2="755.3" y2="163.8" stroke="#6a6a6a" stroke-width="1.6"/>
<text transform="translate(746.6,158.8) rotate(-60)" font-size="19.6" text-anchor="middle" dx="2.5" dy="6.8" fill="#666">120°W</text>
<line x1="732.8" y1="326.8" x2="726.4" y2="328.0" stroke="#6a6a6a" stroke-width="1.6"/>
<text transform="translate(716.0,329.8) rotate(80)" font-size="19.6" text-anchor="middle" dx="2.5" dy="6.8" fill="#666">80°W</text>
<line x1="813.9" y1="467.4" x2="809.7" y2="472.4" stroke="#6a6a6a" stroke-width="1.6"/>
<text transform="translate(803.0,480.4) rotate(40)" font-size="19.6" text-anchor="middle" dx="2.5" dy="6.8" fill="#666">40°W</text>
<text x="970.4" y="53.9" font-size="19.6" fill="#6e6e6e">60°N</text>
<line x1="954.2" y1="129.5" x2="964.6" y2="129.5" stroke="#6e6e6e" stroke-width="1.8"/>
<text x="974.9" y="136.0" font-size="19.6" fill="#727272">70°N</text>
<line x1="957.7" y1="208.2" x2="968.1" y2="208.2" stroke="#6e6e6e" stroke-width="1.8"/>
<text x="978.4" y="214.7" font-size="19.6" fill="#727272">80°N</text>
<g clip-path="url(#mc2)">
<polygon points="1546.6,56.9 1567.0,51.8 1590.8,48.7 1609.5,48.7 1621.4,51.0 1635.0,54.4 1624.8,59.5 1614.6,62.8 1604.4,67.1 1600.1,70.5 1603.5,79.0 1606.9,85.8 1597.6,86.7 1573.8,85.8 1572.1,87.5 1564.5,98.5 1556.8,101.4 1555.1,98.5 1553.4,95.2 1546.6,94.3 1541.5,92.6 1542.3,79.0 1546.6,70.5 1539.8,65.4" fill="#f1eceb" stroke="#f1eceb" stroke-width="0.4"/>
<polygon points="1677.5,65.4 1684.3,63.7 1692.8,70.5 1699.6,72.2 1689.4,77.3 1679.2,76.5" fill="#f1eceb" stroke="#f1eceb" stroke-width="0.4"/>
<polygon points="1453.0,316.2 1476.8,309.4 1498.9,306.0 1510.8,304.3 1515.9,311.1 1502.3,319.6 1498.9,331.5 1500.6,343.4 1493.8,353.6 1487.0,362.1 1480.2,372.3 1470.0,380.8 1453.0,391.0 1446.2,394.7 1374.8,394.7 1379.9,382.5 1400.3,374.0 1413.9,375.7 1429.2,372.3 1442.8,362.1 1453.0,350.2 1463.2,336.6 1466.6,326.4 1459.8,323.0" fill="#f1eceb" stroke="#f1eceb" stroke-width="0.4"/>
<polygon points="1361.2,265.2 1374.8,269.4 1385.0,278.8 1389.2,289.0 1396.9,295.8 1413.9,311.1 1434.3,312.8 1439.4,321.3 1425.8,328.1 1413.9,333.2 1391.8,340.0 1374.8,343.4 1361.2,341.7" fill="#f1eceb" stroke="#f1eceb" stroke-width="0.4"/>
<polygon points="1476.8,310.2 1507.4,308.5 1502.3,325.5 1500.6,339.1 1493.8,356.1 1483.6,368.0 1476.8,379.9 1466.6,388.4 1453.0,396.9 1442.8,410.5 1432.6,425.8 1427.5,441.1 1430.9,456.4 1437.7,458.1 1446.2,470.0 1425.8,453.0 1408.8,429.2 1391.8,402.0 1378.2,374.8 1383.3,373.1 1396.9,374.8 1408.8,378.2 1422.4,379.9 1432.6,376.5 1439.4,366.3 1446.2,349.3 1453.0,334.0 1459.8,322.1" fill="#f1eceb" stroke="#f1eceb" stroke-width="0.4"/>
<polygon points="1430.9,456.4 1437.7,456.4 1453.0,446.2 1470.0,434.3 1487.0,436.0 1504.0,431.8 1521.0,433.4 1534.6,430.0 1544.8,432.6 1548.2,436.0 1546.5,449.6 1553.3,458.1 1553.3,485.3 1543.1,490.4 1534.6,504.0 1527.8,512.5 1510.8,504.0 1493.8,493.8 1476.8,480.2 1459.8,468.3 1446.2,456.4 1437.7,458.1" fill="#f1eceb" stroke="#f1eceb" stroke-width="0.4"/>
<polygon points="1577.6,356.1 1584.4,351.0 1598.0,342.5 1621.8,339.1 1638.8,342.5 1655.8,337.4 1672.8,334.0 1689.8,339.1 1696.6,351.0 1703.4,361.2 1711.9,369.7 1720.4,373.1 1728.9,371.4 1740.8,368.0 1744.2,371.4 1737.4,381.6 1730.6,395.2 1723.8,408.8 1717.0,405.4 1706.8,402.0 1696.6,403.7 1689.8,410.5 1683.0,417.3 1674.5,419.0 1666.0,417.3 1655.8,420.7 1649.0,430.9 1643.9,439.4 1638.8,453.0 1637.1,463.2 1632.0,476.8 1628.6,487.0 1621.8,498.9 1618.4,510.8 1618.4,521.0 1502.8,521.0 1502.8,487.0 1513.0,490.4 1524.9,485.3 1543.6,488.7 1552.1,480.2 1553.8,470.0 1552.1,456.4 1543.6,453.0 1533.4,444.5 1536.8,432.6 1533.4,424.1 1541.9,417.3 1548.7,415.6 1553.8,408.8 1558.9,395.2 1560.6,385.0 1567.4,374.8 1570.8,368.0" fill="#f1eceb" stroke="#f1eceb" stroke-width="0.4"/>
<polygon points="1565.7,376.5 1577.6,373.1 1587.8,376.5 1594.6,385.0 1595.5,419.0 1587.8,425.8 1574.2,429.2 1560.6,432.6 1553.8,425.8 1564.0,422.4 1574.2,415.6 1577.6,405.4 1570.8,402.0 1560.6,408.8 1558.9,395.2 1560.6,385.0" fill="#c3d5dc" stroke="#c3d5dc" stroke-width="0.4"/>
<polygon points="1598.0,402.0 1604.8,408.8 1611.6,415.6 1621.8,419.0 1628.6,412.2 1626.9,402.0 1632.0,391.8 1638.8,385.0 1645.6,378.2 1649.0,371.4 1652.4,361.2 1649.0,351.0 1655.8,347.6 1666.0,345.9 1683.0,351.0 1689.8,361.2 1686.4,374.8 1679.6,385.0 1672.8,395.2 1666.0,405.4 1655.8,412.2 1649.0,419.0 1649.0,430.9 1642.2,429.2 1632.0,422.4 1621.8,419.0 1608.2,415.6 1598.0,419.0" fill="#c3d5dc" stroke="#c3d5dc" stroke-width="0.4"/>
<polygon points="1546.6,57.8 1555.1,55.2 1555.1,65.4 1551.7,79.0 1548.3,90.9 1543.2,90.9 1544.0,77.3" fill="#c3d5dc" stroke="#c3d5dc" stroke-width="0.4"/>
<polygon points="1555.1,55.2 1582.3,49.8 1607.8,48.7 1624.8,53.5 1614.6,61.1 1601.0,65.4 1598.4,72.2 1597.6,84.9 1578.9,84.4 1567.0,87.5 1560.2,79.0 1556.8,65.4" fill="#e3c5bc" stroke="#e3c5bc" stroke-width="0.4"/>
<polygon points="1564.5,99.4 1556.8,101.4 1556.8,109.6 1553.4,114.7 1555.1,119.8 1557.6,124.9 1555.4,134.2 1601.0,134.2 1599.3,128.3 1590.8,123.2 1587.4,124.9 1582.3,117.2 1573.8,110.4" fill="#e3c5bc" stroke="#e3c5bc" stroke-width="0.4"/>
<polygon points="1463.2,326.4 1476.8,316.2 1493.8,309.4 1510.8,306.0 1505.7,316.2 1498.9,328.1 1500.6,341.7 1493.8,351.9 1485.3,362.1 1476.8,372.3 1463.2,382.5 1449.6,389.3 1432.6,391.0 1432.6,380.8 1439.4,370.6 1449.6,360.4 1459.8,346.8 1466.6,336.6" fill="#e3c5bc" stroke="#e3c5bc" stroke-width="0.4"/>
<polygon points="1364.6,272.0 1376.5,272.0 1385.0,280.5 1381.6,289.0 1373.1,287.3 1366.3,280.5" fill="#c3d5dc" stroke="#c3d5dc" stroke-width="0.4"/>
<polygon points="1379.9,299.2 1391.8,304.3 1402.0,311.1 1395.2,316.2 1385.0,314.5 1378.2,306.0" fill="#c3d5dc" stroke="#c3d5dc" stroke-width="0.4"/>
<polygon points="1362.9,289.0 1371.4,292.4 1378.2,302.6 1385.0,316.2 1395.2,323.0 1408.8,323.0 1422.4,321.3 1425.8,328.1 1408.8,331.5 1391.8,333.2 1378.2,329.8 1368.0,319.6 1362.9,306.0" fill="#e3c5bc" stroke="#e3c5bc" stroke-width="0.4"/>
<polygon points="1374.8,374.0 1391.8,370.6 1413.9,374.0 1432.6,372.3 1436.0,380.8 1422.4,387.6 1402.0,391.0 1383.3,391.0" fill="#e3c5bc" stroke="#e3c5bc" stroke-width="0.4"/>
<polygon points="1596.0,170.0 1672.8,170.0 1689.8,176.8 1700.0,181.9 1706.8,187.0 1701.7,197.2 1706.8,212.5 1711.9,221.0 1708.5,227.8 1703.4,238.0 1693.2,241.4 1683.0,246.5 1679.6,258.4 1672.8,265.2 1666.0,275.4 1676.2,282.2 1689.8,268.6 1701.7,270.3 1703.4,280.5 1711.9,289.0 1715.3,300.9 1722.1,306.0 1728.9,314.5 1722.1,319.6 1730.6,333.2 1737.4,346.8 1747.6,350.2 1740.8,357.0 1730.6,363.8 1720.4,357.0 1706.8,340.0 1693.2,329.8 1683.0,323.0 1672.8,323.0 1662.6,326.4 1655.8,336.6 1649.0,340.0 1638.8,336.6 1628.6,333.2 1618.4,329.8 1611.6,340.0 1603.1,346.8 1596.0,346.8" fill="#e3c5bc" stroke="#e3c5bc" stroke-width="0.4"/>
<polygon points="1379.9,376.5 1400.3,374.8 1422.4,376.5 1437.7,374.8 1449.6,381.6 1439.4,388.4 1425.8,385.0 1408.8,383.3 1391.8,385.0" fill="#e3c5bc" stroke="#e3c5bc" stroke-width="0.4"/>
<polygon points="1388.4,395.2 1402.0,391.8 1408.8,398.6 1405.4,408.8 1395.2,408.8" fill="#e3c5bc" stroke="#e3c5bc" stroke-width="0.4"/>
<polygon points="1402.0,415.6 1415.6,412.2 1422.4,419.0 1419.0,432.6 1412.2,436.0 1405.4,429.2" fill="#e3c5bc" stroke="#e3c5bc" stroke-width="0.4"/>
<polygon points="1391.8,385.0 1402.0,383.3 1402.0,390.1 1393.5,391.8" fill="#c3d5dc" stroke="#c3d5dc" stroke-width="0.4"/>
<polygon points="1412.2,388.4 1429.2,386.7 1432.6,393.5 1422.4,398.6 1412.2,396.9" fill="#c3d5dc" stroke="#c3d5dc" stroke-width="0.4"/>
<polygon points="1425.8,405.4 1434.3,403.7 1437.7,415.6 1430.9,422.4 1425.8,415.6" fill="#c3d5dc" stroke="#c3d5dc" stroke-width="0.4"/>
<polygon points="1437.7,458.1 1453.0,447.9 1463.2,444.5 1473.4,446.2 1480.2,453.0 1490.4,458.1 1497.2,466.6 1493.8,476.8 1500.6,487.0 1493.8,493.8 1476.8,480.2 1459.8,468.3 1446.2,456.4" fill="#c3d5dc" stroke="#c3d5dc" stroke-width="0.4"/>
<polygon points="1510.8,487.0 1524.4,483.6 1534.6,487.0 1543.1,490.4 1534.6,504.0 1527.8,512.5 1514.2,504.0" fill="#c3d5dc" stroke="#c3d5dc" stroke-width="0.4"/>
<polygon points="1500.6,439.4 1510.8,436.0 1521.0,434.3 1534.6,430.0 1543.1,434.3 1538.0,444.5 1527.8,453.0 1521.0,461.5 1517.6,470.0 1510.8,476.8 1504.0,470.0 1507.4,459.8 1510.8,449.6" fill="#e3c5bc" stroke="#e3c5bc" stroke-width="0.4"/>
<polygon points="1483.6,483.6 1493.8,480.2 1502.3,485.3 1493.8,492.1 1487.0,490.4" fill="#e3c5bc" stroke="#e3c5bc" stroke-width="0.4"/>
<polygon points="1533.4,444.5 1547.0,436.0 1560.6,432.6 1574.2,429.2 1587.8,425.8 1595.5,424.1 1598.0,419.0 1608.2,415.6 1621.8,419.0 1632.0,422.4 1642.2,429.2 1647.3,430.9 1643.9,439.4 1638.8,453.0 1637.1,463.2 1632.0,476.8 1628.6,487.0 1621.8,498.9 1618.4,510.8 1618.4,521.0 1513.0,521.0 1514.7,504.0 1524.9,495.5 1536.8,492.1 1547.0,487.0 1552.1,480.2 1553.8,470.0 1552.1,456.4 1543.6,453.0" fill="#c3d5dc" stroke="#c3d5dc" stroke-width="0.4"/>
<polygon points="1567.4,381.6 1577.6,378.2 1584.4,385.0 1581.0,395.2 1570.8,396.9 1565.7,390.1" fill="#c3d5dc" stroke="#c3d5dc" stroke-width="0.4"/>
<polygon points="1649.0,347.6 1666.0,345.9 1683.0,351.0 1689.8,361.2 1686.4,374.8 1679.6,385.0 1672.8,395.2 1666.0,405.4 1655.8,412.2 1642.2,415.6 1632.0,412.2 1628.6,402.0 1635.4,391.8 1642.2,381.6 1649.0,371.4 1652.4,361.2" fill="#c3d5dc" stroke="#c3d5dc" stroke-width="0.4"/>
<polygon points="1587.8,349.3 1591.2,347.6 1592.0,354.4 1588.6,356.1" fill="#c3d5dc" stroke="#c3d5dc" stroke-width="0.4"/>
<polygon points="1621.8,345.9 1628.6,345.9 1629.5,351.0 1624.3,351.0" fill="#c3d5dc" stroke="#c3d5dc" stroke-width="0.4"/>
<polygon points="1577.6,356.1 1584.4,351.0 1598.0,344.2 1611.6,344.2 1621.8,351.0 1632.0,357.8 1638.8,351.0 1649.0,344.2 1655.8,340.8 1652.4,354.4 1649.0,364.6 1642.2,371.4 1635.4,368.0 1628.6,371.4 1621.8,381.6 1615.0,395.2 1608.2,402.0 1604.8,391.8 1608.2,378.2 1604.8,368.0 1595.5,371.4 1587.8,368.0 1581.0,364.6" fill="#e3c5bc" stroke="#e3c5bc" stroke-width="0.4"/>
<polygon points="1552.1,415.6 1560.6,408.8 1570.8,402.0 1577.6,405.4 1574.2,415.6 1564.0,422.4 1553.8,425.8" fill="#e3c5bc" stroke="#e3c5bc" stroke-width="0.4"/>
<polygon points="1502.8,449.6 1513.0,442.8 1526.6,436.0 1536.8,432.6 1533.4,444.5 1523.2,453.0 1513.0,463.2 1502.8,466.6" fill="#e3c5bc" stroke="#e3c5bc" stroke-width="0.4"/>
<polygon points="1689.8,361.2 1696.6,357.8 1706.8,368.0 1717.0,374.8 1723.8,381.6 1720.4,395.2 1717.0,408.8 1710.2,408.8 1703.4,398.6 1696.6,388.4 1689.8,374.8" fill="#e3c5bc" stroke="#e3c5bc" stroke-width="0.4"/>
<polygon points="1705.1,437.7 1715.3,434.3 1718.7,441.1 1715.3,447.9 1708.5,444.5" fill="#c3d5dc" stroke="#c3d5dc" stroke-width="0.4"/>
<polygon points="1667.7,485.3 1674.5,487.0 1681.3,498.9 1679.6,504.0 1671.1,507.4 1666.0,500.6" fill="#c3d5dc" stroke="#c3d5dc" stroke-width="0.4"/>
<polygon points="1569.1,379.9 1577.6,376.5 1586.1,379.9 1592.0,388.4 1592.9,415.6 1586.1,422.4 1574.2,425.8 1564.0,427.5 1560.6,424.1 1570.8,419.0 1579.3,410.5 1581.0,402.0 1574.2,398.6 1565.7,402.0 1562.3,395.2 1564.0,386.7" fill="#8ab4c5" stroke="#8ab4c5" stroke-width="0.4"/>
<polygon points="1601.4,405.4 1608.2,412.2 1621.8,415.6 1626.9,408.8 1626.0,400.3 1632.0,390.1 1638.8,383.3 1645.6,376.5 1650.7,368.0 1654.1,357.8 1659.2,351.0 1666.0,349.3 1679.6,352.7 1686.4,361.2 1683.0,373.1 1676.2,383.3 1669.4,393.5 1662.6,402.0 1652.4,408.8 1645.6,417.3 1643.9,425.8 1635.4,422.4 1621.8,417.3 1608.2,413.1 1601.4,415.6" fill="#8ab4c5" stroke="#8ab4c5" stroke-width="0.4"/>
<polygon points="1560.2,58.6 1570.4,56.9 1573.8,65.4 1567.0,72.2 1560.2,68.8" fill="#f1eceb" stroke="#f1eceb" stroke-width="0.4"/>
<polygon points="1546.6,65.4 1550.8,63.7 1550.0,79.0 1546.6,89.2 1544.6,87.5" fill="#8ab4c5" stroke="#8ab4c5" stroke-width="0.4"/>
<polygon points="1582.3,52.6 1590.8,49.8 1623.1,52.6 1614.6,58.6 1604.4,62.0 1597.6,70.5 1594.2,79.0 1587.4,72.2 1585.7,62.0" fill="#d89d8a" stroke="#d89d8a" stroke-width="0.4"/>
<polygon points="1556.8,113.0 1567.0,110.4 1573.8,116.4 1578.9,124.9 1584.0,136.8 1587.4,147.0 1584.0,150.4 1555.4,147.0 1557.6,124.9 1555.1,119.8" fill="#d89d8a" stroke="#d89d8a" stroke-width="0.4"/>
<polygon points="1555.4,134.2 1601.0,134.2 1607.8,133.4 1614.6,131.7 1629.9,133.4 1644.3,140.2 1648.6,141.9 1650.3,155.5 1665.6,162.3 1666.4,170.8 1673.2,179.3 1682.6,186.1 1689.4,181.0 1697.9,181.0 1708.1,192.9 1703.8,204.8 1706.4,213.3 1711.5,225.2 1708.1,228.6 1703.8,237.9 1692.8,243.9 1691.1,257.5 1689.4,269.7 1471.8,269.7 1476.9,257.5 1477.8,240.5 1488.8,232.0 1499.0,225.2 1502.4,216.7 1493.9,208.2 1481.1,203.1 1473.5,198.0 1488.8,181.0 1487.1,169.9 1505.8,167.4 1524.5,153.8 1533.8,160.6 1548.3,153.8 1548.3,141.9" fill="#d89d8a" stroke="#d89d8a" stroke-width="0.4"/>
<polygon points="1437.7,253.3 1453.0,251.6 1466.6,255.0 1476.8,260.1 1475.1,265.2 1459.8,261.8 1442.8,258.4" fill="#d89d8a" stroke="#d89d8a" stroke-width="0.4"/>
<polygon points="1459.8,207.4 1466.6,209.1 1473.4,217.6 1470.0,219.3 1463.2,212.5" fill="#d89d8a" stroke="#d89d8a" stroke-width="0.4"/>
<polygon points="1473.4,323.0 1487.0,314.5 1504.0,308.5 1509.1,311.1 1502.3,319.6 1497.2,329.8 1498.9,341.7 1492.1,350.2 1483.6,360.4 1473.4,370.6 1459.8,379.1 1442.8,382.5 1437.7,374.0 1446.2,365.5 1456.4,355.3 1466.6,343.4 1475.1,333.2" fill="#d89d8a" stroke="#d89d8a" stroke-width="0.4"/>
<polygon points="1408.8,311.1 1425.8,309.4 1434.3,312.8 1422.4,316.2 1410.5,316.2" fill="#8ab4c5" stroke="#8ab4c5" stroke-width="0.4"/>
<polygon points="1412.2,329.8 1425.8,331.5 1429.2,334.9 1415.6,334.9" fill="#d89d8a" stroke="#d89d8a" stroke-width="0.4"/>
<polygon points="1381.6,375.7 1395.2,374.0 1408.8,379.1 1402.0,385.9 1385.0,385.9" fill="#d89d8a" stroke="#d89d8a" stroke-width="0.4"/>
<polygon points="1596.0,170.0 1672.8,170.0 1688.1,176.8 1698.3,183.6 1703.4,188.7 1698.3,198.9 1703.4,212.5 1708.5,221.0 1705.1,227.8 1700.0,236.3 1689.8,238.0 1679.6,241.4 1672.8,251.6 1666.0,261.8 1660.9,272.0 1666.0,280.5 1676.2,283.9 1683.0,280.5 1689.8,272.0 1700.8,272.0 1702.5,280.5 1711.0,289.9 1713.6,300.9 1720.4,306.0 1727.2,314.5 1720.4,319.6 1728.9,333.2 1735.7,346.8 1745.9,350.2 1730.6,362.1 1722.1,355.3 1706.8,338.3 1696.6,329.8 1689.8,323.0 1696.6,316.2 1689.8,309.4 1679.6,306.0 1669.4,309.4 1666.0,319.6 1655.8,329.8 1649.0,338.3 1642.2,333.2 1632.0,328.1 1621.8,326.4 1613.3,333.2 1604.8,340.0 1596.0,343.4" fill="#d89d8a" stroke="#d89d8a" stroke-width="0.4"/>
<polygon points="1405.4,419.0 1413.9,417.3 1417.3,424.1 1413.9,430.9 1408.8,429.2" fill="#d89d8a" stroke="#d89d8a" stroke-width="0.4"/>
<polygon points="1449.6,456.4 1459.8,453.0 1468.3,459.8 1466.6,470.0 1458.1,466.6" fill="#8ab4c5" stroke="#8ab4c5" stroke-width="0.4"/>
<polygon points="1510.8,463.2 1519.3,458.1 1521.0,466.6 1517.6,471.7 1510.8,470.0" fill="#d89d8a" stroke="#d89d8a" stroke-width="0.4"/>
<polygon points="1485.3,484.4 1493.8,482.8 1497.2,487.0 1490.4,489.5" fill="#d89d8a" stroke="#d89d8a" stroke-width="0.4"/>
<polygon points="1547.0,441.1 1560.6,436.0 1574.2,434.3 1587.8,430.9 1595.5,429.2 1598.0,425.8 1608.2,422.4 1621.8,425.8 1632.0,429.2 1640.5,436.0 1638.8,453.0 1637.1,463.2 1632.0,476.8 1628.6,487.0 1621.8,498.9 1618.4,510.8 1618.4,521.0 1526.6,521.0 1528.3,504.0 1536.8,497.2 1547.0,492.1 1553.8,481.9 1555.5,470.0 1553.8,458.1 1548.7,453.0" fill="#8ab4c5" stroke="#8ab4c5" stroke-width="0.4"/>
<polygon points="1570.8,383.3 1577.6,381.6 1581.0,388.4 1575.9,393.5 1570.8,391.8" fill="#8ab4c5" stroke="#8ab4c5" stroke-width="0.4"/>
<polygon points="1652.4,364.6 1662.6,357.8 1676.2,357.8 1683.0,364.6 1679.6,376.5 1672.8,385.0 1662.6,395.2 1652.4,405.4 1638.8,410.5 1632.0,405.4 1635.4,395.2 1643.9,385.0 1649.0,374.8" fill="#8ab4c5" stroke="#8ab4c5" stroke-width="0.4"/>
<polygon points="1581.0,362.9 1591.2,361.2 1595.5,366.3 1587.8,368.0" fill="#d89d8a" stroke="#d89d8a" stroke-width="0.4"/>
<polygon points="1604.8,371.4 1611.6,368.0 1615.0,378.2 1611.6,391.8 1606.5,395.2 1604.8,381.6" fill="#d89d8a" stroke="#d89d8a" stroke-width="0.4"/>
<polygon points="1637.1,357.8 1647.3,351.0 1652.4,356.1 1647.3,366.3 1640.5,368.0" fill="#d89d8a" stroke="#d89d8a" stroke-width="0.4"/>
<polygon points="1558.9,413.9 1567.4,408.8 1574.2,410.5 1569.1,417.3 1560.6,420.7" fill="#d89d8a" stroke="#d89d8a" stroke-width="0.4"/>
<polygon points="1509.6,461.5 1518.1,458.1 1521.5,466.6 1514.7,471.7 1509.6,470.0" fill="#d89d8a" stroke="#d89d8a" stroke-width="0.4"/>
<polygon points="1696.6,388.4 1703.4,385.0 1711.9,391.8 1715.3,402.0 1711.9,408.8 1705.1,402.0 1698.3,395.2" fill="#d89d8a" stroke="#d89d8a" stroke-width="0.4"/>
<polygon points="1668.5,487.0 1672.8,488.7 1677.9,498.9 1672.8,504.0 1668.5,498.9" fill="#8ab4c5" stroke="#8ab4c5" stroke-width="0.4"/>
<polygon points="1446.2,458.1 1459.8,451.3 1473.4,453.0 1483.6,461.5 1490.4,470.0 1487.0,480.2 1476.8,476.8 1463.2,470.0 1453.0,466.6" fill="#8ab4c5" stroke="#8ab4c5" stroke-width="0.4"/>
<polygon points="1527.8,492.1 1538.0,488.7 1543.1,492.1 1536.3,502.3 1529.5,509.1 1521.0,504.0" fill="#8ab4c5" stroke="#8ab4c5" stroke-width="0.4"/>
<polygon points="1604.8,415.6 1611.6,419.0 1615.0,429.2 1608.2,436.0 1601.4,432.6 1600.5,422.4" fill="#8ab4c5" stroke="#8ab4c5" stroke-width="0.4"/>
<polygon points="1584.4,402.0 1592.9,398.6 1595.5,408.8 1591.2,419.0 1584.4,415.6" fill="#8ab4c5" stroke="#8ab4c5" stroke-width="0.4"/>
<polygon points="1666.0,319.6 1679.6,317.9 1689.8,323.0 1683.0,329.8 1669.4,328.1" fill="#e3c5bc" stroke="#e3c5bc" stroke-width="0.4"/>
<polygon points="1672.8,306.0 1689.8,309.4 1703.4,316.2 1706.8,323.0 1696.6,319.6 1683.0,316.2 1672.8,314.5" fill="#f1eceb" stroke="#f1eceb" stroke-width="0.4"/>
<polygon points="1598.0,395.2 1604.8,391.8 1608.2,402.0 1603.1,408.8 1598.0,405.4" fill="#f1eceb" stroke="#f1eceb" stroke-width="0.4"/>
<polygon points="1587.8,395.2 1595.5,391.8 1595.5,402.0 1591.2,405.4" fill="#e3c5bc" stroke="#e3c5bc" stroke-width="0.4"/>
<polygon points="1611.6,344.2 1621.8,342.5 1632.0,347.6 1638.8,344.2 1649.0,342.5 1645.6,351.0 1635.4,356.1 1621.8,352.7" fill="#e3c5bc" stroke="#e3c5bc" stroke-width="0.4"/>
<polygon points="1581.0,364.6 1591.2,362.9 1595.5,368.0 1595.5,374.8 1587.8,373.1" fill="#d89d8a" stroke="#d89d8a" stroke-width="0.4"/>
<polygon points="1599.7,368.0 1608.2,366.3 1613.3,373.1 1611.6,388.4 1606.5,395.2 1601.4,385.0" fill="#d89d8a" stroke="#d89d8a" stroke-width="0.4"/>
<polygon points="1587.4,50.4 1601.0,49.2 1601.0,53.5 1592.5,55.2" fill="#ca7054" stroke="#ca7054" stroke-width="0.4"/>
<polygon points="1555.1,119.8 1561.9,118.1 1567.0,124.9 1568.7,136.8 1563.6,147.0 1555.4,148.7 1556.8,130.0" fill="#ca7054" stroke="#ca7054" stroke-width="0.4"/>
<polygon points="1473.5,198.0 1488.8,181.0 1487.1,169.9 1495.6,171.6 1509.2,175.9 1522.8,167.4 1533.0,162.3 1543.2,160.6 1556.8,164.0 1570.4,162.3 1580.6,158.9 1587.4,150.4 1597.6,145.3 1607.8,143.6 1614.6,131.7 1629.9,133.4 1644.3,140.2 1648.6,141.9 1649.4,155.5 1641.8,164.0 1636.7,174.2 1638.4,184.4 1650.3,191.2 1657.1,191.2 1665.6,181.0 1673.2,179.3 1682.6,186.1 1689.4,181.0 1697.9,181.0 1708.1,192.9 1703.8,204.8 1706.4,213.3 1711.5,225.2 1708.1,228.6 1703.8,237.9 1692.8,243.9 1691.1,257.5 1689.4,269.7 1471.8,269.7 1476.9,257.5 1477.8,240.5 1488.8,232.0 1499.0,225.2 1502.4,216.7 1493.9,208.2 1481.1,203.1" fill="#ca7054" stroke="#ca7054" stroke-width="0.4"/>
<polygon points="1473.4,198.6 1488.7,181.1 1493.8,171.7 1509.1,175.9 1522.7,170.0 1612.8,170.0 1612.8,265.2 1609.4,278.8 1611.1,292.4 1609.4,306.0 1612.8,316.2 1617.9,326.4 1609.4,333.2 1597.5,343.4 1583.9,338.3 1577.1,328.1 1570.3,322.1 1561.8,319.6 1548.2,314.5 1555.8,306.0 1549.9,292.4 1538.0,285.6 1521.0,278.8 1510.8,272.0 1504.0,265.2 1510.8,258.4 1507.4,244.8 1510.8,238.0 1507.4,229.5 1498.9,224.4 1487.0,212.5" fill="#ca7054" stroke="#ca7054" stroke-width="0.4"/>
<polygon points="1476.8,239.7 1487.0,243.1 1504.0,244.8 1515.9,241.4 1521.0,251.6 1527.8,261.8 1521.0,272.0 1510.8,278.8 1498.9,280.5 1487.0,275.4 1476.8,268.6 1470.0,258.4 1475.1,255.0 1480.2,249.9" fill="#ca7054" stroke="#ca7054" stroke-width="0.4"/>
<polygon points="1432.6,285.6 1453.0,278.8 1459.8,282.2 1446.2,289.0 1434.3,292.4" fill="#ca7054" stroke="#ca7054" stroke-width="0.4"/>
<polygon points="1480.2,231.2 1493.8,232.9 1498.9,236.3 1487.0,235.4" fill="#ca7054" stroke="#ca7054" stroke-width="0.4"/>
<polygon points="1483.6,319.6 1493.8,314.5 1505.7,309.4 1510.8,311.1 1507.4,316.2 1500.6,321.3 1495.5,331.5 1497.2,341.7 1492.1,351.9 1483.6,357.0 1473.4,368.9 1459.8,375.7 1446.2,374.0 1453.0,363.8 1463.2,355.3 1473.4,345.1 1481.9,333.2" fill="#ca7054" stroke="#ca7054" stroke-width="0.4"/>
<polygon points="1596.0,170.0 1666.0,170.0 1672.8,176.8 1688.1,176.8 1698.3,183.6 1702.5,189.6 1698.3,198.9 1703.4,212.5 1707.6,221.0 1704.2,227.8 1696.6,234.6 1686.4,236.3 1676.2,241.4 1669.4,251.6 1662.6,261.8 1659.2,272.0 1666.0,280.5 1676.2,283.9 1683.0,280.5 1689.8,272.0 1700.8,272.0 1702.5,280.5 1711.0,289.9 1713.6,300.9 1703.4,302.6 1693.2,299.2 1683.0,299.2 1672.8,302.6 1666.0,312.8 1659.2,323.0 1649.0,333.2 1642.2,336.6 1635.4,326.4 1625.2,323.0 1615.0,328.1 1604.8,333.2 1596.0,336.6" fill="#ca7054" stroke="#ca7054" stroke-width="0.4"/>
<polygon points="1698.3,328.9 1706.8,328.1 1718.7,333.2 1728.9,341.7 1732.3,350.2 1727.2,355.3 1718.7,351.9 1708.5,341.7 1701.7,334.9" fill="#ca7054" stroke="#ca7054" stroke-width="0.4"/>
<polygon points="1454.7,458.9 1459.8,458.1 1460.6,463.2 1456.4,464.0" fill="#5299bf" stroke="#5299bf" stroke-width="0.4"/>
<polygon points="1570.8,446.2 1581.0,442.8 1595.5,444.5 1595.5,521.0 1536.8,521.0 1540.2,507.4 1550.4,497.2 1557.2,487.0 1558.9,476.8 1557.2,466.6 1560.6,456.4" fill="#5299bf" stroke="#5299bf" stroke-width="0.4"/>
<polygon points="1598.0,444.5 1611.6,447.9 1625.2,453.0 1635.4,456.4 1637.1,463.2 1632.0,476.8 1628.6,487.0 1621.8,498.9 1618.4,510.8 1617.5,521.0 1598.0,521.0" fill="#5299bf" stroke="#5299bf" stroke-width="0.4"/>
<polygon points="1652.4,368.0 1662.6,364.6 1672.8,368.0 1676.2,374.8 1669.4,379.9 1659.2,376.5 1652.4,373.1" fill="#5299bf" stroke="#5299bf" stroke-width="0.4"/>
<polygon points="1513.0,463.2 1519.0,461.5 1519.8,468.3 1515.5,470.0" fill="#ca7054" stroke="#ca7054" stroke-width="0.4"/>
<polygon points="1654.1,364.6 1664.3,361.2 1674.5,364.6 1677.9,373.1 1671.1,381.6 1660.9,379.9 1654.1,374.8" fill="#5299bf" stroke="#5299bf" stroke-width="0.4"/>
<polygon points="1538.0,500.6 1544.8,492.1 1553.3,487.0 1553.3,521.0 1534.6,521.0 1531.2,512.5" fill="#5299bf" stroke="#5299bf" stroke-width="0.4"/>
<polygon points="1640.1,167.4 1646.9,160.6 1657.1,164.0 1663.9,174.2 1658.8,187.8 1650.3,189.5 1641.8,181.0" fill="#d89d8a" stroke="#d89d8a" stroke-width="0.4"/>
<polygon points="1641.8,174.2 1648.6,170.8 1650.3,181.0 1644.3,184.4" fill="#e3c5bc" stroke="#e3c5bc" stroke-width="0.4"/>
<polygon points="1653.7,179.3 1660.5,177.6 1660.5,186.1 1655.4,186.9" fill="#f1eceb" stroke="#f1eceb" stroke-width="0.4"/>
<polygon points="1584.0,124.9 1590.8,123.2 1594.2,133.4 1590.8,147.0 1587.4,140.2" fill="#f1eceb" stroke="#f1eceb" stroke-width="0.4"/>
<polygon points="1562.3,476.8 1574.2,473.4 1582.7,483.6 1575.9,492.1 1565.7,488.7" fill="#8ab4c5" stroke="#8ab4c5" stroke-width="0.4"/>
<polygon points="1577.6,480.2 1582.7,476.8 1586.1,485.3 1581.0,490.4" fill="#c3d5dc" stroke="#c3d5dc" stroke-width="0.4"/>
<polygon points="1555.1,121.5 1560.2,120.6 1564.5,126.6 1563.6,138.5 1556.8,145.3 1550.0,147.0 1548.3,141.9 1553.4,136.8" fill="#ba422c" stroke="#ba422c" stroke-width="0.4"/>
<polygon points="1474.3,196.3 1485.4,186.1 1495.6,181.0 1509.2,179.3 1526.2,181.0 1539.8,179.3 1553.4,175.9 1567.0,172.5 1580.6,170.8 1590.8,167.4 1601.0,164.0 1614.6,162.3 1624.8,164.0 1631.6,170.8 1633.3,181.0 1638.4,189.5 1646.9,198.0 1657.1,198.0 1663.9,191.2 1670.7,189.5 1679.2,192.9 1682.6,189.5 1689.4,182.7 1697.9,186.1 1704.7,196.3 1701.3,206.5 1708.1,221.8 1703.0,232.0 1692.8,238.8 1682.6,235.4 1675.8,242.2 1672.4,252.4 1674.1,269.7 1474.3,269.7 1478.6,257.5 1480.3,242.2 1492.2,232.0 1500.7,225.2 1504.1,216.7 1495.6,206.5 1482.0,202.2" fill="#ba422c" stroke="#ba422c" stroke-width="0.4"/>
<polygon points="1476.8,197.2 1485.3,187.0 1495.5,181.6 1509.1,179.9 1526.1,181.6 1539.7,179.9 1553.3,176.5 1566.9,173.1 1580.5,171.4 1595.8,170.0 1612.8,170.0 1612.8,261.8 1607.7,275.4 1609.4,289.0 1607.7,302.6 1611.1,314.5 1614.5,324.7 1606.0,331.5 1595.8,333.2 1585.6,331.5 1577.1,328.1 1570.3,322.1 1561.8,319.6 1551.6,312.8 1555.8,306.0 1549.9,292.4 1538.0,285.6 1527.8,278.8 1521.0,270.3 1510.8,265.2 1514.2,255.0 1510.8,244.8 1514.2,234.6 1507.4,227.8 1498.9,219.3 1490.4,209.1" fill="#ba422c" stroke="#ba422c" stroke-width="0.4"/>
<polygon points="1480.2,244.8 1493.8,246.5 1507.4,244.8 1517.6,251.6 1524.4,265.2 1517.6,275.4 1504.0,278.8 1490.4,273.7 1480.2,265.2 1476.8,255.0" fill="#ba422c" stroke="#ba422c" stroke-width="0.4"/>
<polygon points="1492.1,317.9 1500.6,312.8 1507.4,311.1 1505.7,316.2 1498.9,321.3 1493.8,328.1" fill="#ba422c" stroke="#ba422c" stroke-width="0.4"/>
<polygon points="1459.8,357.0 1470.0,348.5 1480.2,343.4 1483.6,350.2 1476.8,358.7 1466.6,365.5 1456.4,368.9 1454.7,363.8" fill="#ba422c" stroke="#ba422c" stroke-width="0.4"/>
<polygon points="1596.0,170.0 1655.8,170.0 1659.2,180.2 1655.8,190.4 1662.6,200.6 1672.8,209.1 1683.0,217.6 1693.2,226.1 1703.4,234.6 1693.2,235.4 1683.0,234.6 1672.8,238.0 1666.0,248.2 1659.2,258.4 1655.8,272.0 1662.6,280.5 1672.8,285.6 1683.0,282.2 1689.8,275.4 1700.0,273.7 1701.7,280.5 1710.2,289.9 1711.9,299.2 1701.7,300.9 1691.5,297.5 1681.3,295.8 1671.1,299.2 1664.3,309.4 1655.8,319.6 1647.3,329.8 1640.5,331.5 1635.4,321.3 1625.2,317.9 1615.0,323.0 1604.8,328.1 1596.0,331.5" fill="#ba422c" stroke="#ba422c" stroke-width="0.4"/>
<polygon points="1679.6,187.0 1689.8,180.2 1696.6,187.0 1700.0,198.9 1694.9,207.4 1686.4,204.0 1679.6,197.2" fill="#ba422c" stroke="#ba422c" stroke-width="0.4"/>
<polygon points="1706.8,333.2 1717.0,336.6 1727.2,343.4 1728.9,350.2 1722.1,350.2 1713.6,343.4" fill="#ba422c" stroke="#ba422c" stroke-width="0.4"/>
<polygon points="1577.6,449.6 1586.1,447.9 1591.2,453.0 1592.9,463.2 1587.8,466.6 1579.3,463.2" fill="#2277bd" stroke="#2277bd" stroke-width="0.4"/>
<polygon points="1598.0,461.5 1608.2,463.2 1611.6,473.4 1609.9,487.0 1611.6,497.2 1604.8,500.6 1598.0,498.9" fill="#2277bd" stroke="#2277bd" stroke-width="0.4"/>
<polygon points="1553.8,476.8 1560.6,476.8 1562.3,483.6 1555.5,485.3" fill="#2277bd" stroke="#2277bd" stroke-width="0.4"/>
<polygon points="1679.2,242.2 1692.8,243.9 1691.1,257.5 1689.4,269.7 1679.2,269.7 1675.8,255.8" fill="#d89d8a" stroke="#d89d8a" stroke-width="0.4"/>
<polygon points="1682.6,249.0 1689.4,250.7 1687.7,262.6 1682.6,260.9" fill="#e3c5bc" stroke="#e3c5bc" stroke-width="0.4"/>
<polygon points="1550.0,141.9 1555.1,139.3 1557.6,143.6 1553.4,147.0" fill="#9c1529" stroke="#9c1529" stroke-width="0.4"/>
<polygon points="1475.2,196.3 1488.8,189.5 1505.8,189.5 1522.8,191.2 1539.8,189.5 1553.4,184.4 1567.0,181.0 1580.6,182.7 1594.2,186.1 1607.8,184.4 1618.0,177.6 1624.8,172.5 1631.6,175.9 1629.9,186.1 1635.0,194.6 1641.8,201.4 1652.0,208.2 1662.2,208.2 1672.4,201.4 1679.2,194.6 1687.7,191.2 1692.8,196.3 1687.7,204.8 1679.2,211.6 1669.0,215.0 1658.8,216.7 1665.6,225.2 1675.8,232.0 1669.0,240.5 1658.8,243.9 1652.0,237.1 1641.8,228.6 1631.6,221.8 1621.4,218.4 1611.2,221.8 1601.0,216.7 1590.8,215.0 1587.4,225.2 1585.7,238.8 1590.8,249.0 1601.0,252.4 1607.8,262.6 1607.8,269.7 1482.0,269.7 1485.4,257.5 1488.8,245.6 1495.6,235.4 1504.1,225.2 1505.8,216.7 1497.3,208.2 1485.4,203.1" fill="#9c1529" stroke="#9c1529" stroke-width="0.4"/>
<polygon points="1475.1,198.1 1490.4,190.4 1505.7,190.1 1522.7,191.8 1539.7,190.1 1553.3,185.3 1566.9,181.9 1580.5,183.6 1595.8,181.9 1595.8,221.0 1589.0,222.7 1585.6,227.8 1592.4,241.4 1599.2,251.6 1606.0,261.8 1607.7,272.0 1606.0,285.6 1607.7,299.2 1609.4,311.1 1612.8,321.3 1604.3,328.1 1594.1,329.8 1583.9,328.1 1577.1,323.0 1568.6,319.6 1560.1,314.5 1553.3,306.0 1549.9,292.4 1538.0,285.6 1527.8,278.8 1521.0,270.3 1514.2,261.8 1515.9,251.6 1510.8,241.4 1514.2,234.6 1507.4,226.1 1500.6,217.6 1493.8,209.1 1485.3,204.0" fill="#9c1529" stroke="#9c1529" stroke-width="0.4"/>
<polygon points="1483.6,253.3 1493.8,255.0 1507.4,253.3 1517.6,258.4 1521.0,268.6 1510.8,275.4 1497.2,273.7 1487.0,266.9" fill="#9c1529" stroke="#9c1529" stroke-width="0.4"/>
<polygon points="1596.0,170.0 1632.0,170.0 1628.6,180.2 1632.0,190.4 1638.8,200.6 1645.6,210.8 1655.8,221.0 1666.0,227.8 1676.2,234.6 1669.4,238.0 1659.2,234.6 1649.0,227.8 1638.8,224.4 1632.0,231.2 1621.8,238.0 1611.6,241.4 1604.8,248.2 1608.2,261.8 1611.6,272.0 1609.9,285.6 1611.6,299.2 1608.2,312.8 1611.6,323.0 1604.8,326.4 1596.0,328.1" fill="#9c1529" stroke="#9c1529" stroke-width="0.4"/>
<polygon points="1628.6,270.3 1638.8,265.2 1650.7,263.5 1655.8,272.0 1654.1,285.6 1650.7,295.8 1643.9,306.0 1638.8,312.8 1633.7,306.0 1635.4,295.8 1630.3,285.6" fill="#9c1529" stroke="#9c1529" stroke-width="0.4"/>
<polygon points="1649.0,234.6 1659.2,238.0 1666.0,244.8 1662.6,251.6 1652.4,248.2 1647.3,241.4" fill="#9c1529" stroke="#9c1529" stroke-width="0.4"/>
<polygon points="1679.6,188.7 1688.1,183.6 1694.9,190.4 1696.6,198.9 1689.8,204.0 1683.0,200.6" fill="#9c1529" stroke="#9c1529" stroke-width="0.4"/>
<polygon points="1652.4,180.2 1666.0,176.8 1672.8,183.6 1666.0,190.4 1655.8,187.0" fill="#9c1529" stroke="#9c1529" stroke-width="0.4"/>
<polygon points="1575.5,204.8 1579.8,203.9 1583.1,216.7 1578.9,218.4" fill="#700f2a" stroke="#700f2a" stroke-width="0.4"/>
<polygon points="1679.2,194.6 1686.0,192.9 1689.4,198.0 1682.6,206.5 1677.5,203.1" fill="#700f2a" stroke="#700f2a" stroke-width="0.4"/>
<polygon points="1533.0,247.3 1543.2,249.0 1550.0,259.2 1546.6,262.6 1538.1,255.8" fill="#700f2a" stroke="#700f2a" stroke-width="0.4"/>
<polygon points="1563.6,260.9 1573.8,262.6 1578.9,267.7 1567.0,267.7" fill="#700f2a" stroke="#700f2a" stroke-width="0.4"/>
<polygon points="1551.6,275.4 1561.8,265.2 1572.0,261.8 1582.2,265.2 1592.4,272.0 1595.8,282.2 1595.8,292.4 1589.0,299.2 1578.8,300.9 1568.6,299.2 1558.4,294.1 1553.3,285.6" fill="#700f2a" stroke="#700f2a" stroke-width="0.4"/>
<polygon points="1532.9,246.5 1541.4,249.9 1548.2,258.4 1543.1,260.1 1534.6,253.3" fill="#700f2a" stroke="#700f2a" stroke-width="0.4"/>
<polygon points="1575.4,205.7 1582.2,205.7 1583.9,217.6 1577.1,219.3" fill="#700f2a" stroke="#700f2a" stroke-width="0.4"/>
<polygon points="1635.4,278.8 1643.9,272.0 1652.4,270.3 1654.1,278.8 1649.0,285.6 1640.5,289.0 1635.4,287.3" fill="#700f2a" stroke="#700f2a" stroke-width="0.4"/>
<polygon points="1681.3,195.5 1686.4,192.1 1688.1,197.2 1683.0,200.6" fill="#700f2a" stroke="#700f2a" stroke-width="0.4"/>
<polygon points="1587.4,225.2 1597.6,221.8 1607.8,225.2 1607.8,235.4 1601.0,245.6 1590.8,245.6 1585.7,237.1" fill="#ca7054" stroke="#ca7054" stroke-width="0.4"/>
<polygon points="1618.0,232.0 1631.6,228.6 1641.8,235.4 1638.4,245.6 1628.2,249.0 1618.0,243.9" fill="#ca7054" stroke="#ca7054" stroke-width="0.4"/>
<polygon points="1607.8,249.0 1618.0,245.6 1626.5,252.4 1623.1,264.3 1612.9,266.0 1607.8,259.2" fill="#ca7054" stroke="#ca7054" stroke-width="0.4"/>
<polygon points="1585.6,221.0 1595.8,217.6 1602.6,226.1 1600.9,238.0 1595.8,244.8 1589.0,238.0" fill="#ca7054" stroke="#ca7054" stroke-width="0.4"/>
<polygon points="1589.1,230.3 1595.9,228.6 1597.6,238.8 1590.8,242.2" fill="#d89d8a" stroke="#d89d8a" stroke-width="0.4"/>
<polygon points="1626.5,235.4 1635.0,233.7 1636.7,240.5 1629.9,243.9" fill="#d89d8a" stroke="#d89d8a" stroke-width="0.4"/>
<polygon points="1612.9,254.1 1619.7,252.4 1621.4,259.2 1615.4,261.8" fill="#e3c5bc" stroke="#e3c5bc" stroke-width="0.4"/>
<polygon points="1589.0,226.1 1595.8,224.4 1597.5,234.6 1592.4,238.0" fill="#d89d8a" stroke="#d89d8a" stroke-width="0.4"/>
<polygon points="1604.8,249.9 1611.6,244.8 1621.8,244.8 1625.2,255.0 1621.8,265.2 1625.2,275.4 1621.8,289.0 1625.2,299.2 1621.8,306.0 1615.0,299.2 1611.6,285.6 1613.3,272.0 1608.2,261.8" fill="#d89d8a" stroke="#d89d8a" stroke-width="0.4"/>
<polygon points="1628.6,234.6 1638.8,231.2 1645.6,238.0 1638.8,243.1 1630.3,241.4" fill="#d89d8a" stroke="#d89d8a" stroke-width="0.4"/>
<polygon points="1587.8,231.2 1594.6,227.8 1598.0,238.0 1591.2,243.1" fill="#d89d8a" stroke="#d89d8a" stroke-width="0.4"/>
<polygon points="1613.3,251.6 1620.1,249.9 1621.8,260.1 1616.7,263.5" fill="#e3c5bc" stroke="#e3c5bc" stroke-width="0.4"/>
<polygon points="1616.7,275.4 1621.8,273.7 1622.6,285.6 1618.4,289.0" fill="#e3c5bc" stroke="#e3c5bc" stroke-width="0.4"/>
<polygon points="1640.5,173.4 1647.3,171.7 1649.0,181.9 1642.2,185.3" fill="#e3c5bc" stroke="#e3c5bc" stroke-width="0.4"/>
<polygon points="1615.8,255.8 1620.1,255.0 1620.1,260.1 1616.4,260.9" fill="#f1eceb" stroke="#f1eceb" stroke-width="0.4"/>
<polygon points="1586.4,287.3 1592.4,287.3 1593.2,292.4 1587.3,293.2" fill="#3c0914" stroke="#3c0914" stroke-width="0.4"/>
<polygon points="1666.0,278.8 1672.8,272.0 1681.3,266.9 1688.1,270.3 1683.0,278.8 1676.2,282.2 1669.4,280.5" fill="#ffffff" stroke="#ffffff" stroke-width="0.4"/>
<polygon points="1518.4,463.2 1522.7,456.4 1529.5,454.7 1534.6,459.8 1543.1,458.1 1551.6,461.5 1553.3,470.0 1549.9,478.5 1541.4,481.9 1532.9,483.6 1526.1,481.9 1521.0,475.1 1519.3,468.3" fill="#ffffff" stroke="#ffffff" stroke-width="0.4"/>
<polygon points="1613.3,362.9 1620.1,356.1 1630.3,352.7 1633.7,357.8 1628.6,362.9 1633.7,371.4 1637.9,374.8 1633.7,385.0 1628.6,378.2 1623.5,381.6 1618.4,374.8 1615.0,368.0" fill="#ffffff" stroke="#ffffff" stroke-width="0.4"/>
<polygon points="1597.2,291.65 1598.1,291.65 1598.1,522.9 1592.8,522.9" fill="#fff"/>
<line x1="1597.8" y1="285.65" x2="1597.8" y2="522.9" stroke="#999" stroke-opacity="0.45" stroke-width="0.6"/>
<line x1="1597.8" y1="285.65" x2="1750.3" y2="467.4" stroke="#999" stroke-opacity="0.45" stroke-width="0.6"/>
<line x1="1597.8" y1="285.65" x2="1831.4" y2="326.8" stroke="#999" stroke-opacity="0.45" stroke-width="0.6"/>
<line x1="1597.8" y1="285.65" x2="1803.3" y2="167.0" stroke="#999" stroke-opacity="0.45" stroke-width="0.6"/>
<line x1="1597.8" y1="285.65" x2="1678.9" y2="62.7" stroke="#999" stroke-opacity="0.45" stroke-width="0.6"/>
<line x1="1597.8" y1="285.65" x2="1516.7" y2="62.7" stroke="#999" stroke-opacity="0.45" stroke-width="0.6"/>
<line x1="1597.8" y1="285.65" x2="1392.3" y2="167.0" stroke="#999" stroke-opacity="0.45" stroke-width="0.6"/>
<line x1="1597.8" y1="285.65" x2="1364.2" y2="326.8" stroke="#999" stroke-opacity="0.45" stroke-width="0.6"/>
<line x1="1597.8" y1="285.65" x2="1445.3" y2="467.4" stroke="#999" stroke-opacity="0.45" stroke-width="0.6"/>
<circle cx="1597.8" cy="285.65" r="156.1" fill="none" stroke="#999" stroke-opacity="0.45" stroke-width="0.6"/>
<circle cx="1597.8" cy="285.65" r="77.5" fill="none" stroke="#999" stroke-opacity="0.45" stroke-width="0.6"/>
<polyline points="1535.5,59.5 1539.8,65.4 1545.8,70.5 1546.6,79.0 1539.8,81.5 1534.7,83.2 1530.4,88.3 1533.0,94.3 1535.5,96.8 1539.8,93.4 1546.6,94.3 1553.4,95.2 1555.1,98.5 1550.0,103.7 1544.0,106.2 1540.7,108.8 1544.0,112.1 1549.2,114.7 1554.2,119.8 1556.8,124.0 1555.1,128.3 1550.8,133.4 1550.0,141.9 1546.6,147.0 1540.7,151.2 1534.7,153.8 1530.4,153.8 1525.3,157.2 1517.7,158.9 1509.2,162.3 1500.7,164.8 1492.2,166.6 1483.7,166.6 1487.1,173.3 1482.8,177.6 1481.1,186.1 1474.3,192.9 1467.5,197.1 1461.6,203.1 1456.5,208.2 1449.7,212.4 1444.6,216.7 1437.8,220.1" fill="none" stroke="#0072bd" stroke-width="1.5" stroke-linejoin="round"/>
<polyline points="1564.4,98.5 1572.1,86.7 1582.3,92.6 1591.7,93.4 1596.8,96.0 1597.6,91.8 1601.0,88.3 1606.9,85.8 1603.5,79.0 1600.2,70.5 1604.4,67.1 1614.6,62.8 1624.8,59.5 1635.0,54.4 1639.2,52.6 1646.0,56.9 1650.3,58.6" fill="none" stroke="#0072bd" stroke-width="1.5" stroke-linejoin="round"/>
<polyline points="1564.4,98.5 1573.8,105.3 1582.3,108.8 1591.7,116.4 1597.6,121.5 1605.2,126.6 1614.6,130.8 1624.8,131.7 1629.9,128.3 1636.7,126.6 1643.5,130.0 1648.6,133.4 1652.8,139.3 1657.1,147.0 1662.2,150.4 1666.4,155.5 1668.2,164.0 1672.4,172.5 1679.2,179.3 1683.4,181.0 1689.4,175.0 1697.9,180.1 1705.5,184.4 1710.6,186.9 1708.9,192.9 1705.5,196.3 1703.8,204.8 1706.4,211.6 1710.6,218.4 1711.5,225.2 1714.0,232.0 1709.8,237.1 1716.6,242.2 1723.4,248.1 1716.6,245.6 1709.8,240.5 1703.0,238.8 1696.2,242.2 1692.8,249.0 1695.3,255.8 1691.9,262.6 1692.8,269.7" fill="none" stroke="#0072bd" stroke-width="1.5" stroke-linejoin="round"/>
<polyline points="1597.6,91.8 1597.6,121.5" fill="none" stroke="#0072bd" stroke-width="1.5" stroke-linejoin="round"/>
<polyline points="1654.5,76.5 1658.8,72.2 1662.2,65.4 1672.4,62.8 1679.2,64.5 1675.8,70.5 1673.2,76.5 1679.2,78.2 1687.7,76.5 1696.2,73.9 1700.4,72.2" fill="none" stroke="#0072bd" stroke-width="1.5" stroke-linejoin="round"/>
<polyline points="1591.7,139.3 1595.9,136.8 1601.0,136.8 1599.3,140.2 1594.2,141.9 1591.7,139.3" fill="none" stroke="#0072bd" stroke-width="1.5" stroke-linejoin="round"/>
<polyline points="1557.7,79.0 1561.9,77.3 1567.8,79.0 1567.0,81.5 1561.0,81.0 1557.7,79.0" fill="none" stroke="#0072bd" stroke-width="1.5" stroke-linejoin="round"/>
<polyline points="1653.7,183.5 1657.1,187.8 1660.5,192.9 1663.9,196.3 1666.4,194.6 1662.2,189.5 1658.8,185.2 1653.7,183.5" fill="none" stroke="#0072bd" stroke-width="1.5" stroke-linejoin="round"/>
<polyline points="1665.6,197.1 1674.1,194.6 1679.2,197.1 1675.8,203.1 1669.0,204.8 1665.6,201.4 1665.6,197.1" fill="none" stroke="#0072bd" stroke-width="1.5" stroke-linejoin="round"/>
<polyline points="1673.2,181.0 1678.3,180.1 1677.5,186.1 1674.9,189.5 1673.2,181.0" fill="none" stroke="#0072bd" stroke-width="1.5" stroke-linejoin="round"/>
<polyline points="1460.3,93.1 1470.3,93.1 1477.8,91.2 1475.9,86.2 1474.7,83.8" fill="none" stroke="#0072bd" stroke-width="1.5" stroke-linejoin="round"/>
<polyline points="1484.0,89.4 1487.2,86.2 1489.7,81.2 1489.0,76.2" fill="none" stroke="#0072bd" stroke-width="1.5" stroke-linejoin="round"/>
<polyline points="1429.0,183.8 1434.0,178.1 1435.9,183.8 1440.3,186.2 1445.3,178.1 1443.4,186.2 1442.2,192.5 1442.8,198.1 1439.0,191.2 1434.7,200.0 1430.9,194.4 1435.3,191.2 1429.0,188.1 1429.0,183.8" fill="none" stroke="#0072bd" stroke-width="1.5" stroke-linejoin="round"/>
<polyline points="1389.0,192.5 1391.5,183.8 1395.9,182.5 1394.0,188.8 1401.5,193.1 1396.5,196.2 1394.0,202.5 1396.5,207.5 1394.0,211.2 1392.8,217.5 1390.3,212.5 1391.5,206.2 1389.0,200.0 1389.0,192.5" fill="none" stroke="#0072bd" stroke-width="1.5" stroke-linejoin="round"/>
<polyline points="1470.9,192.5 1465.9,199.4 1464.0,203.8 1458.4,206.9 1453.4,210.6 1450.9,216.9 1447.8,219.0 1445.3,213.8 1442.2,211.9 1437.8,215.0 1439.0,221.2 1435.9,225.6 1432.5,230.0 1435.9,232.5 1440.3,231.2 1439.0,236.9 1434.3,242.5 1430.3,247.5 1427.2,252.5 1426.3,257.5 1429.3,261.5 1434.3,260.0 1437.8,262.8 1435.0,266.5 1427.8,265.6 1424.3,267.8 1428.0,271.5 1434.3,272.5 1439.7,270.0 1442.8,267.8 1447.8,269.0 1452.8,271.5 1457.8,275.6 1464.0,276.2 1465.3,282.5 1468.4,285.2 1472.8,282.8 1474.7,277.5 1473.4,273.8" fill="none" stroke="#0072bd" stroke-width="1.5" stroke-linejoin="round"/>
<polyline points="1474.7,206.2 1480.9,205.0 1485.3,206.2 1489.0,210.6 1493.4,213.8 1496.3,216.2 1495.3,222.5 1490.3,226.2 1485.3,228.8 1481.5,231.2 1480.9,226.2 1479.7,221.2 1476.5,216.9 1474.0,211.2 1474.7,206.2" fill="none" stroke="#0072bd" stroke-width="1.5" stroke-linejoin="round"/>
<polyline points="1457.8,221.2 1461.5,216.9 1470.3,216.2 1475.3,218.8 1478.4,223.8 1480.9,231.2 1477.8,235.0 1474.0,238.8 1471.5,242.5 1474.7,246.2 1475.9,251.2 1472.8,252.5 1467.8,250.0 1462.8,248.8 1456.5,249.4 1450.3,251.2 1445.3,256.2 1442.8,252.5 1444.0,246.2 1440.3,240.0 1444.0,233.8 1445.3,227.5 1447.8,221.2 1452.8,220.0 1457.8,221.2" fill="none" stroke="#0072bd" stroke-width="1.5" stroke-linejoin="round"/>
<polyline points="1497.8,232.5 1501.5,228.8 1507.8,225.6 1510.9,227.5 1512.8,232.5 1512.2,238.1 1507.8,240.0 1503.4,242.5 1500.3,245.6 1496.5,245.0 1492.8,247.5 1494.0,242.5 1490.3,240.0 1487.8,237.5 1492.8,236.2 1497.8,232.5" fill="none" stroke="#0072bd" stroke-width="1.5" stroke-linejoin="round"/>
<polyline points="1499.0,231.2 1501.5,236.2" fill="none" stroke="#0072bd" stroke-width="1.5" stroke-linejoin="round"/>
<polyline points="1500.9,230.6 1503.4,235.6" fill="none" stroke="#0072bd" stroke-width="1.5" stroke-linejoin="round"/>
<polyline points="1503.4,230.0 1505.3,235.0" fill="none" stroke="#0072bd" stroke-width="1.5" stroke-linejoin="round"/>
<polyline points="1507.8,248.8 1511.5,246.2 1514.7,248.8 1515.9,252.5 1514.0,255.6 1510.3,252.5 1507.8,248.8" fill="none" stroke="#0072bd" stroke-width="1.5" stroke-linejoin="round"/>
<polyline points="1487.8,250.0 1494.0,248.8 1499.0,251.2 1495.3,255.0 1489.0,253.8 1487.8,250.0" fill="none" stroke="#0072bd" stroke-width="1.5" stroke-linejoin="round"/>
<polyline points="1485.3,265.0 1490.3,260.0 1496.5,261.2 1495.3,266.2 1489.0,270.0 1484.0,268.8 1485.3,265.0" fill="none" stroke="#0072bd" stroke-width="1.5" stroke-linejoin="round"/>
<polyline points="1509.0,265.0 1514.0,262.5 1519.0,262.5 1517.2,267.5 1511.5,270.0 1507.2,269.4 1509.0,265.0" fill="none" stroke="#0072bd" stroke-width="1.5" stroke-linejoin="round"/>
<polyline points="1501.5,259.4 1506.5,259.4 1506.5,261.2 1501.5,261.2 1501.5,259.4" fill="none" stroke="#0072bd" stroke-width="1.5" stroke-linejoin="round"/>
<polyline points="1480.3,275.0 1482.8,272.5 1485.9,274.4 1485.3,277.5 1481.5,278.1 1480.3,275.0" fill="none" stroke="#0072bd" stroke-width="1.5" stroke-linejoin="round"/>
<polyline points="1501.5,276.2 1504.0,272.5 1505.3,280.0 1502.8,281.2 1501.5,276.2" fill="none" stroke="#0072bd" stroke-width="1.5" stroke-linejoin="round"/>
<polyline points="1455.3,263.8 1460.3,259.4 1464.0,257.5 1469.0,258.1 1470.3,261.2 1475.3,262.5 1475.9,266.2 1470.9,268.1 1467.8,270.0 1462.8,272.5 1457.8,271.2 1455.3,265.0 1455.3,263.8" fill="none" stroke="#0072bd" stroke-width="1.5" stroke-linejoin="round"/>
<polyline points="1434.0,285.0 1440.3,280.0 1447.8,277.5 1455.3,276.2 1461.5,277.5 1464.0,282.5" fill="none" stroke="#0072bd" stroke-width="1.5" stroke-linejoin="round"/>
<polyline points="1505.3,281.2 1511.5,280.0 1519.0,281.2 1524.0,285.0 1520.3,288.8 1515.3,291.2 1511.5,288.8 1507.8,285.0 1505.3,281.2" fill="none" stroke="#0072bd" stroke-width="1.5" stroke-linejoin="round"/>
<polyline points="1524.0,288.8 1527.8,285.0 1532.8,285.0 1539.0,288.8 1544.0,293.8 1547.8,300.0 1549.0,307.5 1546.5,313.8 1541.5,313.1 1536.5,310.0 1532.8,313.8 1527.8,316.2 1524.0,312.5 1519.0,310.0 1514.0,306.2 1507.8,305.0 1501.5,306.2 1496.5,303.8 1492.8,298.8 1492.8,292.5 1495.3,288.8 1500.3,288.8 1504.0,293.8 1509.0,291.2 1514.0,292.5 1519.0,290.0 1524.0,288.8" fill="none" stroke="#0072bd" stroke-width="1.5" stroke-linejoin="round"/>
<polyline points="1525.3,290.0 1524.0,295.0 1526.5,298.8 1529.7,300.0" fill="none" stroke="#0072bd" stroke-width="1.5" stroke-linejoin="round"/>
<polyline points="1479.0,288.8 1481.5,282.5 1486.5,282.5 1487.8,288.8 1486.5,296.2 1487.8,302.5 1484.0,305.0 1480.9,302.5 1479.7,296.2 1479.0,288.8" fill="none" stroke="#0072bd" stroke-width="1.5" stroke-linejoin="round"/>
<polyline points="1456.5,297.5 1461.5,293.8 1467.8,295.0 1471.5,298.8 1473.4,302.5 1470.3,301.2 1465.3,297.5 1460.3,296.2 1456.5,297.5" fill="none" stroke="#0072bd" stroke-width="1.5" stroke-linejoin="round"/>
<polyline points="1461.5,306.2 1467.8,305.0 1473.4,306.9 1475.3,312.5 1472.8,315.0 1469.0,315.0 1466.5,310.0 1464.0,307.5 1461.5,306.2" fill="none" stroke="#0072bd" stroke-width="1.5" stroke-linejoin="round"/>
<polyline points="1420.9,293.8 1427.8,290.0 1435.3,288.8 1439.0,285.0 1445.3,282.5 1450.3,285.0 1445.3,288.8 1439.0,291.2 1432.8,293.8 1427.8,297.5 1422.8,297.5 1420.9,293.8" fill="none" stroke="#0072bd" stroke-width="1.5" stroke-linejoin="round"/>
<polyline points="1444.0,315.0 1440.3,310.0 1442.8,302.5 1447.8,297.5 1454.0,296.2 1457.8,298.8 1456.5,303.8 1452.8,307.5 1457.8,306.9 1461.5,306.2" fill="none" stroke="#0072bd" stroke-width="1.5" stroke-linejoin="round"/>
<polyline points="1362.2,266.2 1367.8,268.1 1374.0,271.2 1379.7,276.2 1384.0,276.2 1385.9,282.5 1394.0,285.0 1394.7,290.0 1400.3,293.8 1407.8,296.2 1411.5,298.8 1414.7,296.2 1415.3,300.0 1412.8,303.8 1416.5,308.8 1419.0,311.9 1424.0,311.2 1427.8,308.1 1432.8,308.8 1439.0,306.2 1437.8,302.5 1439.0,300.0 1444.0,315.0" fill="none" stroke="#0072bd" stroke-width="1.5" stroke-linejoin="round"/>
<polyline points="1388.4,301.2 1394.0,297.5 1399.0,298.8 1405.3,298.8 1410.3,300.6 1406.5,305.0 1402.8,310.0 1399.0,315.0 1395.3,319.4 1392.8,315.0 1395.3,310.0 1391.5,306.2 1388.4,301.2" fill="none" stroke="#0072bd" stroke-width="1.5" stroke-linejoin="round"/>
<polyline points="1380.9,310.0 1384.0,311.9 1385.3,315.0 1382.2,313.8 1380.9,310.0" fill="none" stroke="#0072bd" stroke-width="1.5" stroke-linejoin="round"/>
<polyline points="1377.8,324.4 1382.8,323.1 1384.0,325.6 1379.0,326.2 1377.8,324.4" fill="none" stroke="#0072bd" stroke-width="1.5" stroke-linejoin="round"/>
<polyline points="1369.0,335.0 1374.0,331.2 1380.3,332.5 1385.3,331.2 1389.0,333.8 1387.8,340.0 1389.0,346.2 1387.8,355.0" fill="none" stroke="#0072bd" stroke-width="1.5" stroke-linejoin="round"/>
<polyline points="1400.3,328.8 1405.3,325.0 1410.3,326.2 1412.8,331.2 1416.5,333.8 1422.8,327.5 1427.8,331.2 1425.3,337.5 1417.8,338.8 1412.8,337.5 1407.8,336.2 1404.0,340.0 1401.5,346.2 1402.8,352.5 1401.5,355.0" fill="none" stroke="#0072bd" stroke-width="1.5" stroke-linejoin="round"/>
<polyline points="1425.3,326.2 1429.0,323.8 1432.8,325.6 1432.2,330.0 1427.8,330.6 1425.3,326.2" fill="none" stroke="#0072bd" stroke-width="1.5" stroke-linejoin="round"/>
<polyline points="1461.5,306.2 1465.3,310.0 1467.8,316.2 1466.5,322.5 1464.0,327.5 1460.3,333.8 1461.5,340.0 1457.8,346.2 1454.0,345.0 1450.3,348.8 1445.3,347.5 1441.5,351.2 1441.5,355.0" fill="none" stroke="#0072bd" stroke-width="1.5" stroke-linejoin="round"/>
<polyline points="1497.8,355.2 1499.0,352.5 1501.5,347.5 1503.4,342.5 1502.8,335.0 1499.0,331.2 1497.8,326.2 1501.5,325.0 1504.0,321.2 1507.8,318.8 1509.0,315.0 1514.0,313.1 1520.3,314.4 1525.3,316.9 1530.3,315.0 1536.5,316.2 1541.5,313.1 1547.8,315.0 1550.9,320.0 1555.3,324.4 1560.3,322.5 1565.3,325.0 1570.3,327.5 1574.0,331.2 1576.5,337.5 1575.3,342.5 1577.8,346.2 1582.8,350.0 1581.5,355.2" fill="none" stroke="#0072bd" stroke-width="1.5" stroke-linejoin="round"/>
<polyline points="1567.8,338.8 1572.8,340.0 1570.3,343.8 1575.3,346.2 1572.8,348.8 1569.0,352.5" fill="none" stroke="#0072bd" stroke-width="1.5" stroke-linejoin="round"/>
<polyline points="1672.8,170.0 1683.0,175.1 1689.8,176.8 1694.9,181.9 1700.0,181.1 1706.8,185.3 1711.0,187.0 1709.3,193.8 1703.4,200.6 1700.8,205.7 1705.1,212.5 1709.3,215.9 1711.9,221.0 1713.6,227.8 1714.4,234.6 1709.3,238.0 1711.9,241.4 1717.0,244.8 1722.9,248.2 1715.3,244.8 1708.5,239.7 1703.4,239.7 1696.6,243.1 1694.9,249.9 1696.6,255.0 1690.7,258.4 1691.5,265.2 1696.6,261.8 1701.7,265.2 1705.1,272.0 1702.5,275.4 1706.8,280.5 1710.2,285.6 1715.3,290.7 1722.1,292.4 1723.8,300.9 1725.5,309.4 1732.3,306.0 1737.4,304.3 1737.4,307.7 1732.3,312.8 1737.4,316.2 1740.8,314.5 1742.5,317.9 1735.7,319.6 1727.2,320.4" fill="none" stroke="#0072bd" stroke-width="1.5" stroke-linejoin="round"/>
<polyline points="1728.9,319.6 1737.4,323.0 1745.9,326.4 1754.4,331.5 1761.2,329.8 1768.0,333.2 1773.1,341.7 1773.9,345.1 1768.0,345.1 1762.9,340.0 1756.1,338.3 1747.6,333.2 1740.8,331.5 1730.6,326.4 1722.1,323.0 1720.4,326.4 1725.5,333.2 1732.3,338.3 1740.8,341.7 1747.6,346.8 1754.4,348.5 1747.6,351.9 1740.8,355.3 1732.3,358.7 1728.9,362.1" fill="none" stroke="#0072bd" stroke-width="1.5" stroke-linejoin="round"/>
<polyline points="1654.1,183.6 1657.5,188.7 1660.9,192.1 1663.4,190.4 1660.0,185.3 1656.7,182.8 1654.1,183.6" fill="none" stroke="#0072bd" stroke-width="1.5" stroke-linejoin="round"/>
<polyline points="1662.6,193.8 1667.7,198.9 1672.8,204.0 1676.2,200.6 1672.8,195.5 1666.0,192.1 1662.6,193.8" fill="none" stroke="#0072bd" stroke-width="1.5" stroke-linejoin="round"/>
<polyline points="1674.5,181.9 1678.8,180.2 1678.8,187.0 1675.3,188.7 1674.5,181.9" fill="none" stroke="#0072bd" stroke-width="1.5" stroke-linejoin="round"/>
<polyline points="1666.0,278.8 1671.1,273.7 1677.9,268.6 1681.3,265.2 1685.5,263.5 1688.1,266.9 1686.4,270.3 1683.0,272.0 1684.7,276.2 1679.6,280.5 1674.5,283.1 1669.4,280.5 1666.0,278.8" fill="none" stroke="#0072bd" stroke-width="1.5" stroke-linejoin="round"/>
<polyline points="1652.4,317.9 1655.8,319.6 1654.9,324.7 1652.4,323.0 1652.4,317.9" fill="none" stroke="#0072bd" stroke-width="1.5" stroke-linejoin="round"/>
<polyline points="1657.5,314.5 1660.9,313.6 1661.8,319.6 1658.3,321.3 1657.5,314.5" fill="none" stroke="#0072bd" stroke-width="1.5" stroke-linejoin="round"/>
<polyline points="1655.8,326.4 1660.0,325.5 1660.9,329.8 1656.7,331.5 1655.8,326.4" fill="none" stroke="#0072bd" stroke-width="1.5" stroke-linejoin="round"/>
<polyline points="1649.0,333.2 1654.1,331.5 1654.9,335.8 1649.8,337.4 1649.0,333.2" fill="none" stroke="#0072bd" stroke-width="1.5" stroke-linejoin="round"/>
<polyline points="1658.3,321.3 1661.8,321.3 1662.6,328.1 1660.0,328.9 1658.3,321.3" fill="none" stroke="#0072bd" stroke-width="1.5" stroke-linejoin="round"/>
<polyline points="1691.5,323.0 1694.0,321.3 1696.6,323.9 1698.3,331.5 1703.4,341.7 1710.2,350.2 1717.0,358.7 1722.1,363.8 1725.5,365.5 1722.1,370.6 1715.3,372.3 1708.5,368.9 1703.4,360.4 1698.3,350.2 1694.0,340.0 1691.5,329.8 1691.5,323.0" fill="none" stroke="#0072bd" stroke-width="1.5" stroke-linejoin="round"/>
<polyline points="1558.9,320.4 1565.7,327.2 1570.8,332.3 1574.2,342.5 1577.6,340.8 1582.7,347.6 1581.0,352.7 1577.6,356.1 1574.2,361.2 1570.8,368.0 1565.7,374.8 1562.3,381.6 1558.9,388.4 1560.6,395.2 1557.2,402.0 1553.8,408.8 1548.7,415.6 1545.3,419.0 1541.9,417.3 1538.5,422.4 1535.1,419.0 1530.0,422.4 1535.1,425.8 1541.9,427.5 1536.8,430.9 1528.3,432.6 1519.8,436.0 1513.0,432.6 1502.8,430.9" fill="none" stroke="#0072bd" stroke-width="1.5" stroke-linejoin="round"/>
<polyline points="1518.9,473.4 1523.2,468.3 1519.8,463.2 1524.9,456.4 1528.3,461.5 1531.7,458.9 1536.8,463.2 1543.6,461.5 1548.7,463.2 1552.9,468.3 1552.1,475.1 1547.0,478.5 1540.2,480.2 1533.4,482.8 1526.6,480.2 1521.5,476.8 1518.9,473.4" fill="none" stroke="#0072bd" stroke-width="1.5" stroke-linejoin="round"/>
<polyline points="1613.3,363.8 1618.4,357.8 1625.2,354.4 1630.3,352.7 1633.7,356.1 1628.6,359.5 1625.2,362.9 1630.3,364.6 1633.7,369.7 1637.1,373.1 1635.4,376.5 1632.0,374.8 1630.3,379.9 1628.6,385.0 1623.5,379.9 1620.1,374.8 1615.8,369.7 1613.3,363.8" fill="none" stroke="#0072bd" stroke-width="1.5" stroke-linejoin="round"/>
<polyline points="1618.4,521.0 1616.7,514.2 1620.1,509.1 1621.8,500.6 1626.9,492.1 1629.4,485.3 1633.7,476.8 1637.1,466.6 1638.8,458.1 1640.5,449.6 1643.9,446.2 1642.2,442.8 1647.3,441.1 1645.6,436.0 1650.7,430.9 1655.8,422.4 1660.9,419.0 1664.3,421.6 1666.0,417.3 1671.1,415.6 1674.5,419.0 1679.6,417.3 1684.7,418.1 1689.8,416.4 1696.6,417.3 1703.4,415.6 1710.2,419.0 1715.3,424.1 1718.7,430.9 1715.3,434.3 1706.8,436.0 1698.3,436.0 1693.2,436.9 1703.4,438.5 1708.5,444.5 1713.6,449.6 1720.4,447.9 1723.8,445.4 1722.1,441.1 1727.2,436.0 1720.4,434.3 1722.1,425.8 1718.7,419.0 1723.8,417.3 1725.5,412.2 1720.4,410.5 1715.3,405.4 1722.1,402.0 1730.6,405.4 1728.9,398.6 1725.5,391.8 1728.9,385.0 1732.3,379.9 1737.4,374.8 1734.0,369.7 1740.8,368.0 1744.2,369.7 1740.8,364.6 1737.4,366.3" fill="none" stroke="#0072bd" stroke-width="1.5" stroke-linejoin="round"/>
<polyline points="1691.5,322.9 1694.0,322.1 1696.6,325.5 1698.3,334.0 1701.7,342.5 1706.8,352.7 1711.9,362.9 1717.0,369.7 1722.1,373.1 1725.5,368.0 1722.9,371.4 1715.3,373.1 1708.5,368.0 1703.4,359.5 1698.3,349.3 1694.0,337.4 1691.5,327.2 1691.5,322.9" fill="none" stroke="#0072bd" stroke-width="1.5" stroke-linejoin="round"/>
<polyline points="1668.5,463.2 1672.8,458.9 1679.6,458.1 1681.3,463.2 1677.9,470.0 1675.3,478.5 1676.2,487.0 1681.3,495.5 1686.4,500.6 1693.2,502.3 1700.0,498.9 1706.8,493.8" fill="none" stroke="#0072bd" stroke-width="1.5" stroke-linejoin="round"/>
<polyline points="1668.5,463.2 1670.2,471.7 1667.7,480.2 1664.3,488.7 1663.4,497.2 1666.0,504.0 1672.8,508.2 1676.2,507.4" fill="none" stroke="#0072bd" stroke-width="1.5" stroke-linejoin="round"/>
<polyline points="1711.9,478.5 1717.0,476.8 1722.1,478.5 1723.8,483.6 1718.7,487.0 1713.6,484.4 1711.9,478.5" fill="none" stroke="#0072bd" stroke-width="1.5" stroke-linejoin="round"/>
<polyline points="1718.7,461.5 1723.8,460.6 1728.9,464.9 1732.3,470.0 1727.2,470.0 1722.1,466.6 1718.7,461.5" fill="none" stroke="#0072bd" stroke-width="1.5" stroke-linejoin="round"/>
<polyline points="1718.7,390.1 1722.1,388.4 1723.8,392.6 1720.4,394.4 1718.7,390.1" fill="none" stroke="#0072bd" stroke-width="1.5" stroke-linejoin="round"/>
<polyline points="1509.1,311.9 1505.7,317.0 1502.3,322.1 1503.1,328.9 1504.0,335.7 1502.3,342.5 1498.9,349.3 1493.8,356.1 1488.7,361.2 1483.6,366.3 1480.2,371.4 1479.3,376.5 1475.1,379.9 1470.0,381.6 1468.3,386.7 1471.7,388.4 1466.6,391.8 1459.8,394.4 1453.0,398.6 1447.9,403.7 1442.8,410.5 1437.7,419.0 1432.6,427.5 1429.2,436.0 1427.5,444.5 1429.2,451.3 1432.6,456.4 1437.7,453.0 1442.8,449.6 1449.6,446.2 1453.0,442.8 1459.8,441.1 1466.6,436.0 1470.0,432.6 1476.8,434.3 1483.6,436.0 1492.1,435.1 1500.6,432.6 1507.4,430.9 1515.9,432.6 1524.4,432.6 1531.2,430.9 1536.3,427.5 1532.9,424.1 1529.5,422.4 1534.6,419.0 1539.7,422.4 1538.0,417.3 1543.1,415.6 1541.4,412.2 1546.5,410.5 1548.2,405.4 1553.3,402.0 1556.7,395.2 1560.1,388.4 1561.8,383.3" fill="none" stroke="#0072bd" stroke-width="1.5" stroke-linejoin="round"/>
<polyline points="1362.9,335.7 1371.4,332.3 1378.2,328.9 1383.3,322.1 1388.4,318.7 1390.1,325.5 1391.8,334.0 1390.1,342.5 1386.7,351.0 1383.3,359.5 1379.9,368.0 1386.7,373.1 1393.5,374.8 1396.9,371.4" fill="none" stroke="#0072bd" stroke-width="1.5" stroke-linejoin="round"/>
<polyline points="1446.2,315.3 1442.8,323.8 1446.2,330.6 1441.9,337.4 1442.8,345.9 1439.4,351.0 1442.8,357.8 1437.7,361.2 1441.1,366.3 1436.0,368.0 1432.6,374.8 1429.2,373.1 1425.8,366.3 1427.5,359.5 1422.4,357.8 1419.0,364.6 1415.6,371.4 1412.2,378.2 1407.1,376.5 1405.4,368.0 1408.8,361.2 1405.4,357.8 1402.0,364.6 1400.3,373.1 1395.2,374.8" fill="none" stroke="#0072bd" stroke-width="1.5" stroke-linejoin="round"/>
<polyline points="1381.6,310.2 1385.0,308.5 1385.8,313.6 1383.3,315.3 1381.6,310.2" fill="none" stroke="#0072bd" stroke-width="1.5" stroke-linejoin="round"/>
<polyline points="1425.8,323.8 1430.9,322.1 1434.3,325.5 1432.6,330.6 1427.5,329.8 1425.8,323.8" fill="none" stroke="#0072bd" stroke-width="1.5" stroke-linejoin="round"/>
<g fill="#000">
<circle cx="1597.8" cy="297.2" r="1.75"/>
<circle cx="1602.2" cy="296.4" r="1.75"/>
<circle cx="1606.0" cy="293.8" r="1.75"/>
<circle cx="1608.5" cy="290.1" r="1.75"/>
<circle cx="1609.4" cy="285.6" r="1.75"/>
<circle cx="1608.5" cy="281.2" r="1.75"/>
<circle cx="1606.0" cy="277.5" r="1.75"/>
<circle cx="1602.2" cy="274.9" r="1.75"/>
<circle cx="1597.8" cy="274.1" r="1.75"/>
<circle cx="1593.4" cy="274.9" r="1.75"/>
<circle cx="1589.6" cy="277.5" r="1.75"/>
<circle cx="1587.1" cy="281.2" r="1.75"/>
<circle cx="1586.2" cy="285.6" r="1.75"/>
<circle cx="1587.1" cy="290.1" r="1.75"/>
<circle cx="1589.6" cy="293.8" r="1.75"/>
<circle cx="1593.4" cy="296.4" r="1.75"/>
<circle cx="1597.8" cy="308.8" r="1.75"/>
<circle cx="1602.3" cy="308.4" r="1.75"/>
<circle cx="1606.7" cy="307.1" r="1.75"/>
<circle cx="1610.7" cy="304.9" r="1.75"/>
<circle cx="1614.2" cy="302.0" r="1.75"/>
<circle cx="1606.7" cy="264.2" r="1.75"/>
<circle cx="1602.3" cy="262.9" r="1.75"/>
<circle cx="1597.8" cy="262.5" r="1.75"/>
<circle cx="1593.3" cy="262.9" r="1.75"/>
<circle cx="1588.9" cy="264.2" r="1.75"/>
<circle cx="1584.9" cy="266.4" r="1.75"/>
<circle cx="1581.4" cy="269.3" r="1.75"/>
<circle cx="1578.5" cy="272.8" r="1.75"/>
<circle cx="1576.4" cy="276.8" r="1.75"/>
<circle cx="1575.1" cy="281.1" r="1.75"/>
<circle cx="1574.6" cy="285.6" r="1.75"/>
<circle cx="1575.1" cy="290.2" r="1.75"/>
<circle cx="1576.4" cy="294.5" r="1.75"/>
<circle cx="1578.5" cy="298.5" r="1.75"/>
<circle cx="1581.4" cy="302.0" r="1.75"/>
<circle cx="1584.9" cy="304.9" r="1.75"/>
<circle cx="1588.9" cy="307.1" r="1.75"/>
<circle cx="1593.3" cy="308.4" r="1.75"/>
<circle cx="1597.8" cy="320.4" r="1.75"/>
<circle cx="1604.6" cy="319.8" r="1.75"/>
<circle cx="1611.1" cy="317.8" r="1.75"/>
<circle cx="1617.1" cy="314.6" r="1.75"/>
<circle cx="1622.4" cy="310.2" r="1.75"/>
<circle cx="1626.7" cy="305.0" r="1.75"/>
<circle cx="1629.9" cy="299.0" r="1.75"/>
<circle cx="1631.9" cy="292.4" r="1.75"/>
<circle cx="1632.6" cy="285.6" r="1.75"/>
<circle cx="1631.9" cy="278.9" r="1.75"/>
<circle cx="1629.9" cy="272.3" r="1.75"/>
<circle cx="1626.7" cy="266.3" r="1.75"/>
<circle cx="1604.6" cy="251.5" r="1.75"/>
<circle cx="1597.8" cy="250.9" r="1.75"/>
<circle cx="1591.0" cy="251.5" r="1.75"/>
<circle cx="1584.5" cy="253.5" r="1.75"/>
<circle cx="1578.5" cy="256.7" r="1.75"/>
<circle cx="1573.2" cy="261.1" r="1.75"/>
<circle cx="1568.9" cy="266.3" r="1.75"/>
<circle cx="1565.7" cy="272.3" r="1.75"/>
<circle cx="1563.7" cy="278.9" r="1.75"/>
<circle cx="1563.0" cy="285.6" r="1.75"/>
<circle cx="1563.7" cy="292.4" r="1.75"/>
<circle cx="1565.7" cy="299.0" r="1.75"/>
<circle cx="1568.9" cy="305.0" r="1.75"/>
<circle cx="1573.2" cy="310.2" r="1.75"/>
<circle cx="1578.5" cy="314.6" r="1.75"/>
<circle cx="1584.5" cy="317.8" r="1.75"/>
<circle cx="1591.0" cy="319.8" r="1.75"/>
<circle cx="1597.8" cy="332.1" r="1.75"/>
<circle cx="1604.5" cy="331.6" r="1.75"/>
<circle cx="1633.1" cy="315.8" r="1.75"/>
<circle cx="1637.0" cy="310.4" r="1.75"/>
<circle cx="1640.2" cy="304.5" r="1.75"/>
<circle cx="1642.5" cy="298.2" r="1.75"/>
<circle cx="1643.8" cy="291.7" r="1.75"/>
<circle cx="1644.2" cy="285.0" r="1.75"/>
<circle cx="1643.6" cy="278.4" r="1.75"/>
<circle cx="1642.1" cy="271.9" r="1.75"/>
<circle cx="1639.7" cy="265.7" r="1.75"/>
<circle cx="1636.4" cy="259.9" r="1.75"/>
<circle cx="1632.3" cy="254.6" r="1.75"/>
<circle cx="1627.5" cy="250.0" r="1.75"/>
<circle cx="1616.1" cy="243.0" r="1.75"/>
<circle cx="1609.8" cy="240.8" r="1.75"/>
<circle cx="1603.3" cy="239.6" r="1.75"/>
<circle cx="1596.6" cy="239.3" r="1.75"/>
<circle cx="1589.9" cy="239.9" r="1.75"/>
<circle cx="1583.5" cy="241.5" r="1.75"/>
<circle cx="1577.3" cy="244.0" r="1.75"/>
<circle cx="1571.5" cy="247.4" r="1.75"/>
<circle cx="1566.3" cy="251.6" r="1.75"/>
<circle cx="1561.7" cy="256.4" r="1.75"/>
<circle cx="1557.9" cy="261.9" r="1.75"/>
<circle cx="1554.9" cy="267.9" r="1.75"/>
<circle cx="1552.8" cy="274.2" r="1.75"/>
<circle cx="1551.7" cy="280.8" r="1.75"/>
<circle cx="1551.4" cy="287.5" r="1.75"/>
<circle cx="1559.9" cy="312.4" r="1.75"/>
<circle cx="1587.0" cy="330.8" r="1.75"/>
<circle cx="1593.6" cy="331.9" r="1.75"/>
<circle cx="1640.4" cy="325.0" r="1.75"/>
<circle cx="1644.8" cy="319.8" r="1.75"/>
<circle cx="1648.4" cy="314.0" r="1.75"/>
<circle cx="1651.4" cy="307.9" r="1.75"/>
<circle cx="1653.7" cy="301.4" r="1.75"/>
<circle cx="1655.1" cy="294.7" r="1.75"/>
<circle cx="1655.8" cy="287.9" r="1.75"/>
<circle cx="1655.7" cy="281.1" r="1.75"/>
<circle cx="1654.7" cy="274.3" r="1.75"/>
<circle cx="1653.0" cy="267.7" r="1.75"/>
<circle cx="1650.5" cy="261.4" r="1.75"/>
<circle cx="1647.3" cy="255.3" r="1.75"/>
<circle cx="1643.4" cy="249.7" r="1.75"/>
<circle cx="1638.8" cy="244.6" r="1.75"/>
<circle cx="1633.7" cy="240.1" r="1.75"/>
<circle cx="1628.1" cy="236.2" r="1.75"/>
<circle cx="1622.1" cy="232.9" r="1.75"/>
<circle cx="1615.7" cy="230.5" r="1.75"/>
<circle cx="1609.1" cy="228.7" r="1.75"/>
<circle cx="1602.4" cy="227.8" r="1.75"/>
<circle cx="1595.5" cy="227.7" r="1.75"/>
<circle cx="1588.7" cy="228.3" r="1.75"/>
<circle cx="1582.0" cy="229.8" r="1.75"/>
<circle cx="1575.6" cy="232.0" r="1.75"/>
<circle cx="1569.4" cy="235.0" r="1.75"/>
<circle cx="1563.7" cy="238.7" r="1.75"/>
<circle cx="1558.4" cy="243.0" r="1.75"/>
<circle cx="1553.7" cy="248.0" r="1.75"/>
<circle cx="1549.5" cy="253.4" r="1.75"/>
<circle cx="1546.1" cy="259.3" r="1.75"/>
<circle cx="1543.4" cy="265.6" r="1.75"/>
<circle cx="1541.4" cy="272.1" r="1.75"/>
<circle cx="1540.2" cy="278.8" r="1.75"/>
<circle cx="1664.1" cy="307.2" r="1.75"/>
<circle cx="1666.0" cy="300.1" r="1.75"/>
<circle cx="1667.1" cy="292.9" r="1.75"/>
<circle cx="1667.5" cy="285.6" r="1.75"/>
<circle cx="1664.1" cy="264.1" r="1.75"/>
<circle cx="1661.5" cy="257.3" r="1.75"/>
<circle cx="1658.1" cy="250.8" r="1.75"/>
<circle cx="1654.2" cy="244.7" r="1.75"/>
<circle cx="1649.6" cy="239.0" r="1.75"/>
<circle cx="1644.4" cy="233.9" r="1.75"/>
<circle cx="1638.8" cy="229.3" r="1.75"/>
<circle cx="1632.6" cy="225.3" r="1.75"/>
<circle cx="1626.1" cy="222.0" r="1.75"/>
<circle cx="1619.3" cy="219.4" r="1.75"/>
<circle cx="1612.3" cy="217.5" r="1.75"/>
<circle cx="1605.1" cy="216.3" r="1.75"/>
<circle cx="1597.8" cy="216.0" r="1.75"/>
<circle cx="1590.5" cy="216.3" r="1.75"/>
<circle cx="1583.3" cy="217.5" r="1.75"/>
<circle cx="1576.3" cy="219.4" r="1.75"/>
<circle cx="1569.5" cy="222.0" r="1.75"/>
<circle cx="1563.0" cy="225.3" r="1.75"/>
<circle cx="1556.8" cy="229.3" r="1.75"/>
<circle cx="1551.2" cy="233.9" r="1.75"/>
<circle cx="1546.0" cy="239.0" r="1.75"/>
<circle cx="1541.4" cy="244.7" r="1.75"/>
<circle cx="1537.5" cy="250.8" r="1.75"/>
<circle cx="1534.1" cy="257.3" r="1.75"/>
<circle cx="1531.5" cy="264.1" r="1.75"/>
<circle cx="1529.6" cy="271.2" r="1.75"/>
<circle cx="1678.9" cy="292.0" r="1.75"/>
<circle cx="1675.2" cy="260.5" r="1.75"/>
<circle cx="1673.0" cy="254.5" r="1.75"/>
<circle cx="1670.3" cy="248.7" r="1.75"/>
<circle cx="1667.2" cy="243.1" r="1.75"/>
<circle cx="1663.6" cy="237.8" r="1.75"/>
<circle cx="1659.7" cy="232.8" r="1.75"/>
<circle cx="1655.3" cy="228.1" r="1.75"/>
<circle cx="1650.6" cy="223.8" r="1.75"/>
<circle cx="1645.6" cy="219.8" r="1.75"/>
<circle cx="1640.3" cy="216.3" r="1.75"/>
<circle cx="1634.7" cy="213.2" r="1.75"/>
<circle cx="1628.9" cy="210.5" r="1.75"/>
<circle cx="1622.9" cy="208.3" r="1.75"/>
<circle cx="1616.8" cy="206.5" r="1.75"/>
<circle cx="1610.5" cy="205.3" r="1.75"/>
<circle cx="1604.2" cy="204.5" r="1.75"/>
<circle cx="1597.8" cy="204.3" r="1.75"/>
<circle cx="1591.4" cy="204.5" r="1.75"/>
<circle cx="1585.1" cy="205.3" r="1.75"/>
<circle cx="1578.8" cy="206.5" r="1.75"/>
<circle cx="1572.7" cy="208.3" r="1.75"/>
<circle cx="1566.7" cy="210.5" r="1.75"/>
<circle cx="1560.9" cy="213.2" r="1.75"/>
<circle cx="1555.3" cy="216.3" r="1.75"/>
<circle cx="1550.0" cy="219.8" r="1.75"/>
<circle cx="1545.0" cy="223.8" r="1.75"/>
<circle cx="1540.3" cy="228.1" r="1.75"/>
<circle cx="1535.9" cy="232.8" r="1.75"/>
<circle cx="1532.0" cy="237.8" r="1.75"/>
<circle cx="1528.4" cy="243.1" r="1.75"/>
<circle cx="1525.3" cy="248.7" r="1.75"/>
<circle cx="1522.6" cy="254.5" r="1.75"/>
<circle cx="1520.4" cy="260.5" r="1.75"/>
<circle cx="1518.7" cy="266.7" r="1.75"/>
<circle cx="1690.6" cy="293.0" r="1.75"/>
<circle cx="1690.9" cy="285.6" r="1.75"/>
<circle cx="1690.6" cy="278.3" r="1.75"/>
<circle cx="1677.1" cy="237.0" r="1.75"/>
<circle cx="1673.1" cy="230.9" r="1.75"/>
<circle cx="1668.6" cy="225.2" r="1.75"/>
<circle cx="1663.6" cy="219.8" r="1.75"/>
<circle cx="1658.2" cy="214.9" r="1.75"/>
<circle cx="1652.5" cy="210.4" r="1.75"/>
<circle cx="1646.4" cy="206.3" r="1.75"/>
<circle cx="1640.0" cy="202.7" r="1.75"/>
<circle cx="1633.4" cy="199.7" r="1.75"/>
<circle cx="1626.6" cy="197.1" r="1.75"/>
<circle cx="1619.5" cy="195.2" r="1.75"/>
<circle cx="1612.4" cy="193.7" r="1.75"/>
<circle cx="1605.1" cy="192.9" r="1.75"/>
<circle cx="1597.8" cy="192.6" r="1.75"/>
<circle cx="1590.5" cy="192.9" r="1.75"/>
<circle cx="1583.2" cy="193.7" r="1.75"/>
<circle cx="1576.1" cy="195.2" r="1.75"/>
<circle cx="1569.0" cy="197.1" r="1.75"/>
<circle cx="1562.2" cy="199.7" r="1.75"/>
<circle cx="1555.6" cy="202.7" r="1.75"/>
<circle cx="1549.2" cy="206.3" r="1.75"/>
<circle cx="1543.1" cy="210.4" r="1.75"/>
<circle cx="1537.4" cy="214.9" r="1.75"/>
<circle cx="1532.0" cy="219.8" r="1.75"/>
<circle cx="1527.0" cy="225.2" r="1.75"/>
<circle cx="1522.5" cy="230.9" r="1.75"/>
<circle cx="1518.5" cy="237.0" r="1.75"/>
<circle cx="1514.9" cy="243.4" r="1.75"/>
<circle cx="1511.8" cy="250.0" r="1.75"/>
<circle cx="1509.3" cy="256.9" r="1.75"/>
<circle cx="1507.3" cy="263.9" r="1.75"/>
<circle cx="1505.9" cy="271.1" r="1.75"/>
<circle cx="1702.4" cy="292.5" r="1.75"/>
<circle cx="1691.8" cy="239.3" r="1.75"/>
<circle cx="1688.6" cy="233.3" r="1.75"/>
<circle cx="1684.9" cy="227.4" r="1.75"/>
<circle cx="1680.9" cy="221.9" r="1.75"/>
<circle cx="1676.6" cy="216.6" r="1.75"/>
<circle cx="1671.9" cy="211.5" r="1.75"/>
<circle cx="1666.9" cy="206.9" r="1.75"/>
<circle cx="1661.6" cy="202.5" r="1.75"/>
<circle cx="1656.0" cy="198.5" r="1.75"/>
<circle cx="1650.2" cy="194.9" r="1.75"/>
<circle cx="1644.2" cy="191.7" r="1.75"/>
<circle cx="1637.9" cy="188.8" r="1.75"/>
<circle cx="1631.5" cy="186.4" r="1.75"/>
<circle cx="1624.9" cy="184.4" r="1.75"/>
<circle cx="1618.2" cy="182.9" r="1.75"/>
<circle cx="1611.5" cy="181.7" r="1.75"/>
<circle cx="1604.7" cy="181.1" r="1.75"/>
<circle cx="1597.8" cy="180.9" r="1.75"/>
<circle cx="1590.9" cy="181.1" r="1.75"/>
<circle cx="1584.1" cy="181.7" r="1.75"/>
<circle cx="1577.4" cy="182.9" r="1.75"/>
<circle cx="1570.7" cy="184.4" r="1.75"/>
<circle cx="1564.1" cy="186.4" r="1.75"/>
<circle cx="1557.7" cy="188.8" r="1.75"/>
<circle cx="1551.4" cy="191.7" r="1.75"/>
<circle cx="1545.4" cy="194.9" r="1.75"/>
<circle cx="1539.6" cy="198.5" r="1.75"/>
<circle cx="1534.0" cy="202.5" r="1.75"/>
<circle cx="1528.7" cy="206.9" r="1.75"/>
<circle cx="1523.7" cy="211.5" r="1.75"/>
<circle cx="1519.0" cy="216.6" r="1.75"/>
<circle cx="1514.7" cy="221.9" r="1.75"/>
<circle cx="1510.7" cy="227.4" r="1.75"/>
<circle cx="1507.0" cy="233.3" r="1.75"/>
<circle cx="1503.8" cy="239.3" r="1.75"/>
<circle cx="1501.0" cy="245.5" r="1.75"/>
<circle cx="1498.6" cy="252.0" r="1.75"/>
<circle cx="1496.6" cy="258.5" r="1.75"/>
<circle cx="1495.0" cy="265.2" r="1.75"/>
<circle cx="1493.9" cy="272.0" r="1.75"/>
<circle cx="1701.7" cy="232.7" r="1.75"/>
<circle cx="1698.8" cy="227.4" r="1.75"/>
<circle cx="1695.6" cy="222.2" r="1.75"/>
<circle cx="1692.1" cy="217.1" r="1.75"/>
<circle cx="1688.4" cy="212.3" r="1.75"/>
<circle cx="1684.4" cy="207.7" r="1.75"/>
<circle cx="1680.2" cy="203.2" r="1.75"/>
<circle cx="1675.8" cy="199.0" r="1.75"/>
<circle cx="1671.2" cy="195.1" r="1.75"/>
<circle cx="1666.3" cy="191.3" r="1.75"/>
<circle cx="1661.3" cy="187.9" r="1.75"/>
<circle cx="1639.6" cy="176.8" r="1.75"/>
<circle cx="1633.8" cy="174.8" r="1.75"/>
<circle cx="1628.0" cy="173.1" r="1.75"/>
<circle cx="1622.0" cy="171.6" r="1.75"/>
<circle cx="1616.0" cy="170.5" r="1.75"/>
<circle cx="1610.0" cy="169.7" r="1.75"/>
<circle cx="1603.9" cy="169.2" r="1.75"/>
<circle cx="1597.8" cy="169.1" r="1.75"/>
<circle cx="1591.7" cy="169.2" r="1.75"/>
<circle cx="1585.6" cy="169.7" r="1.75"/>
<circle cx="1579.6" cy="170.5" r="1.75"/>
<circle cx="1573.6" cy="171.6" r="1.75"/>
<circle cx="1567.6" cy="173.1" r="1.75"/>
<circle cx="1561.8" cy="174.8" r="1.75"/>
<circle cx="1556.0" cy="176.8" r="1.75"/>
<circle cx="1550.4" cy="179.2" r="1.75"/>
<circle cx="1544.9" cy="181.8" r="1.75"/>
<circle cx="1539.5" cy="184.7" r="1.75"/>
<circle cx="1534.3" cy="187.9" r="1.75"/>
<circle cx="1529.3" cy="191.3" r="1.75"/>
<circle cx="1524.4" cy="195.1" r="1.75"/>
<circle cx="1519.8" cy="199.0" r="1.75"/>
<circle cx="1515.4" cy="203.2" r="1.75"/>
<circle cx="1511.2" cy="207.7" r="1.75"/>
<circle cx="1507.2" cy="212.3" r="1.75"/>
<circle cx="1503.5" cy="217.1" r="1.75"/>
<circle cx="1491.3" cy="238.2" r="1.75"/>
<circle cx="1489.0" cy="243.9" r="1.75"/>
<circle cx="1486.9" cy="249.6" r="1.75"/>
<circle cx="1485.2" cy="255.5" r="1.75"/>
<circle cx="1483.8" cy="261.4" r="1.75"/>
<circle cx="1482.7" cy="267.4" r="1.75"/>
<circle cx="1715.1" cy="337.9" r="1.75"/>
<circle cx="1701.7" cy="210.2" r="1.75"/>
<circle cx="1697.6" cy="204.9" r="1.75"/>
<circle cx="1693.2" cy="199.7" r="1.75"/>
<circle cx="1688.6" cy="194.9" r="1.75"/>
<circle cx="1683.7" cy="190.2" r="1.75"/>
<circle cx="1678.6" cy="185.9" r="1.75"/>
<circle cx="1673.3" cy="181.8" r="1.75"/>
<circle cx="1667.7" cy="178.0" r="1.75"/>
<circle cx="1637.5" cy="163.6" r="1.75"/>
<circle cx="1631.0" cy="161.6" r="1.75"/>
<circle cx="1624.5" cy="160.1" r="1.75"/>
<circle cx="1617.9" cy="158.8" r="1.75"/>
<circle cx="1611.2" cy="158.0" r="1.75"/>
<circle cx="1604.5" cy="157.4" r="1.75"/>
<circle cx="1597.8" cy="157.3" r="1.75"/>
<circle cx="1591.1" cy="157.4" r="1.75"/>
<circle cx="1545.6" cy="168.4" r="1.75"/>
<circle cx="1539.5" cy="171.3" r="1.75"/>
<circle cx="1533.6" cy="174.5" r="1.75"/>
<circle cx="1527.9" cy="178.0" r="1.75"/>
<circle cx="1522.3" cy="181.8" r="1.75"/>
<circle cx="1517.0" cy="185.9" r="1.75"/>
<circle cx="1511.9" cy="190.2" r="1.75"/>
<circle cx="1507.0" cy="194.9" r="1.75"/>
<circle cx="1502.4" cy="199.7" r="1.75"/>
<circle cx="1498.0" cy="204.9" r="1.75"/>
<circle cx="1493.9" cy="210.2" r="1.75"/>
<circle cx="1722.8" cy="349.3" r="1.75"/>
<circle cx="1702.0" cy="191.8" r="1.75"/>
<circle cx="1697.0" cy="186.5" r="1.75"/>
<circle cx="1641.1" cy="152.3" r="1.75"/>
<circle cx="1634.1" cy="150.2" r="1.75"/>
<circle cx="1627.0" cy="148.5" r="1.75"/>
<circle cx="1619.7" cy="147.1" r="1.75"/>
<circle cx="1612.5" cy="146.2" r="1.75"/>
<circle cx="1504.0" cy="181.4" r="1.75"/>
<circle cx="1498.6" cy="186.5" r="1.75"/>
<circle cx="1493.6" cy="191.8" r="1.75"/>
<circle cx="1488.8" cy="197.4" r="1.75"/>
<circle cx="1484.3" cy="203.2" r="1.75"/>
<circle cx="1556.3" cy="126.6" r="1.75"/>
<circle cx="1563.6" cy="124.9" r="1.75"/>
<circle cx="1558.8" cy="138.5" r="1.75"/>
<circle cx="1551.4" cy="141.4" r="1.75"/>
<circle cx="1554.2" cy="152.1" r="1.75"/>
<circle cx="1561.9" cy="150.4" r="1.75"/>
<circle cx="1579.3" cy="460.1" r="1.75"/>
<circle cx="1588.3" cy="460.6" r="1.75"/>
<circle cx="1607.0" cy="460.6" r="1.75"/>
<circle cx="1597.7" cy="473.1" r="1.75"/>
<circle cx="1597.7" cy="497.2" r="1.75"/>
<circle cx="1608.7" cy="497.2" r="1.75"/>
<circle cx="1556.3" cy="481.0" r="1.75"/>
<circle cx="1721.2" cy="318.7" r="1.75"/>
<circle cx="1717.0" cy="331.4" r="1.75"/>
<circle cx="1703.4" cy="332.3" r="1.75"/>
<circle cx="1714.4" cy="337.4" r="1.75"/>
<circle cx="1725.5" cy="342.5" r="1.75"/>
<circle cx="1711.0" cy="343.4" r="1.75"/>
<circle cx="1722.1" cy="349.3" r="1.75"/>
<circle cx="1496.3" cy="311.6" r="1.75"/>
<circle cx="1507.4" cy="310.2" r="1.75"/>
<circle cx="1498.9" cy="316.2" r="1.75"/>
<circle cx="1509.9" cy="314.5" r="1.75"/>
<circle cx="1499.8" cy="323.0" r="1.75"/>
<circle cx="1489.5" cy="327.2" r="1.75"/>
<circle cx="1483.6" cy="343.4" r="1.75"/>
<circle cx="1496.3" cy="343.4" r="1.75"/>
<circle cx="1473.4" cy="348.5" r="1.75"/>
<circle cx="1487.0" cy="348.5" r="1.75"/>
<circle cx="1462.3" cy="354.4" r="1.75"/>
<circle cx="1476.8" cy="354.4" r="1.75"/>
<circle cx="1490.4" cy="354.4" r="1.75"/>
<circle cx="1466.6" cy="360.4" r="1.75"/>
<circle cx="1480.2" cy="360.4" r="1.75"/>
<circle cx="1455.5" cy="367.2" r="1.75"/>
<circle cx="1470.0" cy="367.2" r="1.75"/>
<circle cx="1445.3" cy="373.1" r="1.75"/>
</g>
</g>
<g stroke="#808080" stroke-width="2.0">
<line x1="1590.5" y1="285.6" x2="1605.1" y2="285.6"/>
<line x1="1591.5" y1="282.0" x2="1604.1" y2="289.3"/>
<line x1="1594.1" y1="279.3" x2="1601.5" y2="292.0"/>
<line x1="1597.8" y1="278.3" x2="1597.8" y2="292.9"/>
<line x1="1601.5" y1="279.3" x2="1594.1" y2="292.0"/>
<line x1="1604.1" y1="282.0" x2="1591.5" y2="289.3"/>
</g>
<circle cx="1597.8" cy="285.65" r="5.2" fill="#808080"/>
<circle cx="1597.8" cy="285.65" r="237.25" fill="none" stroke="#6a6a6a" stroke-width="2.5"/>
<line x1="1597.8" y1="522.9" x2="1597.8" y2="529.4" stroke="#6a6a6a" stroke-width="1.6"/>
<text transform="translate(1600.3,539.9) rotate(0)" font-size="19.6" text-anchor="middle" dx="2.5" dy="6.8" fill="#666">0°</text>
<line x1="1750.3" y1="467.4" x2="1754.5" y2="472.4" stroke="#6a6a6a" stroke-width="1.6"/>
<text transform="translate(1761.2,480.4) rotate(-40)" font-size="19.6" text-anchor="middle" dx="2.5" dy="6.8" fill="#666">40°E</text>
<line x1="1831.4" y1="326.8" x2="1837.8" y2="328.0" stroke="#6a6a6a" stroke-width="1.6"/>
<text transform="translate(1848.2,329.8) rotate(-80)" font-size="19.6" text-anchor="middle" dx="2.5" dy="6.8" fill="#666">80°E</text>
<line x1="1803.3" y1="167.0" x2="1808.9" y2="163.8" stroke="#6a6a6a" stroke-width="1.6"/>
<text transform="translate(1817.6,158.8) rotate(60)" font-size="19.6" text-anchor="middle" dx="2.5" dy="6.8" fill="#666">120°E</text>
<line x1="1678.9" y1="62.7" x2="1681.2" y2="56.6" stroke="#6a6a6a" stroke-width="1.6"/>
<text transform="translate(1684.6,47.2) rotate(20)" font-size="19.6" text-anchor="middle" dx="2.5" dy="6.8" fill="#666">160°E</text>
<line x1="1516.7" y1="62.7" x2="1514.4" y2="56.6" stroke="#6a6a6a" stroke-width="1.6"/>
<text transform="translate(1511.0,47.2) rotate(-20)" font-size="19.6" text-anchor="middle" dx="2.5" dy="6.8" fill="#666">160°W</text>
<line x1="1392.3" y1="167.0" x2="1386.7" y2="163.8" stroke="#6a6a6a" stroke-width="1.6"/>
<text transform="translate(1378.0,158.8) rotate(-60)" font-size="19.6" text-anchor="middle" dx="2.5" dy="6.8" fill="#666">120°W</text>
<line x1="1364.2" y1="326.8" x2="1357.8" y2="328.0" stroke="#6a6a6a" stroke-width="1.6"/>
<text transform="translate(1347.4,329.8) rotate(80)" font-size="19.6" text-anchor="middle" dx="2.5" dy="6.8" fill="#666">80°W</text>
<line x1="1445.3" y1="467.4" x2="1441.1" y2="472.4" stroke="#6a6a6a" stroke-width="1.6"/>
<text transform="translate(1434.4,480.4) rotate(40)" font-size="19.6" text-anchor="middle" dx="2.5" dy="6.8" fill="#666">40°W</text>
<text x="1601.8" y="53.9" font-size="19.6" fill="#6e6e6e">60°N</text>
<line x1="1585.6" y1="129.5" x2="1596.0" y2="129.5" stroke="#6e6e6e" stroke-width="1.8"/>
<text x="1606.3" y="136.0" font-size="19.6" fill="#727272">70°N</text>
<line x1="1589.1" y1="208.2" x2="1599.5" y2="208.2" stroke="#6e6e6e" stroke-width="1.8"/>
<text x="1609.8" y="214.7" font-size="19.6" fill="#727272">80°N</text>
<defs><linearGradient id="cbg" x1="0" y1="1" x2="0" y2="0">
<stop offset="0.0000" stop-color="#181c43"/>
<stop offset="0.0179" stop-color="#1c2255"/>
<stop offset="0.0357" stop-color="#1f2768"/>
<stop offset="0.0536" stop-color="#222c7a"/>
<stop offset="0.0714" stop-color="#26328c"/>
<stop offset="0.0893" stop-color="#243a9a"/>
<stop offset="0.1071" stop-color="#2241a8"/>
<stop offset="0.1250" stop-color="#2049b5"/>
<stop offset="0.1429" stop-color="#1e50c3"/>
<stop offset="0.1607" stop-color="#1f5ac2"/>
<stop offset="0.1786" stop-color="#2064c0"/>
<stop offset="0.1964" stop-color="#216dbe"/>
<stop offset="0.2143" stop-color="#2277bd"/>
<stop offset="0.2321" stop-color="#2e80be"/>
<stop offset="0.2500" stop-color="#3a88be"/>
<stop offset="0.2679" stop-color="#4690be"/>
<stop offset="0.2857" stop-color="#5299bf"/>
<stop offset="0.3036" stop-color="#60a0c0"/>
<stop offset="0.3214" stop-color="#6ea6c2"/>
<stop offset="0.3393" stop-color="#7cadc4"/>
<stop offset="0.3571" stop-color="#8ab4c5"/>
<stop offset="0.3750" stop-color="#98bccb"/>
<stop offset="0.3929" stop-color="#a6c4d0"/>
<stop offset="0.4107" stop-color="#b5cdd6"/>
<stop offset="0.4286" stop-color="#c3d5dc"/>
<stop offset="0.4464" stop-color="#cfdbe0"/>
<stop offset="0.4643" stop-color="#dae1e4"/>
<stop offset="0.4821" stop-color="#e6e6e7"/>
<stop offset="0.5000" stop-color="#f1eceb"/>
<stop offset="0.5179" stop-color="#eee2df"/>
<stop offset="0.5357" stop-color="#ead9d4"/>
<stop offset="0.5536" stop-color="#e6cfc8"/>
<stop offset="0.5714" stop-color="#e3c5bc"/>
<stop offset="0.5893" stop-color="#e0bbb0"/>
<stop offset="0.6071" stop-color="#deb1a3"/>
<stop offset="0.6250" stop-color="#dba796"/>
<stop offset="0.6429" stop-color="#d89d8a"/>
<stop offset="0.6607" stop-color="#d4927d"/>
<stop offset="0.6786" stop-color="#d1866f"/>
<stop offset="0.6964" stop-color="#ce7b62"/>
<stop offset="0.7143" stop-color="#ca7054"/>
<stop offset="0.7321" stop-color="#c6654a"/>
<stop offset="0.7500" stop-color="#c25940"/>
<stop offset="0.7679" stop-color="#be4e36"/>
<stop offset="0.7857" stop-color="#ba422c"/>
<stop offset="0.8036" stop-color="#b2372b"/>
<stop offset="0.8214" stop-color="#ab2c2a"/>
<stop offset="0.8393" stop-color="#a3202a"/>
<stop offset="0.8571" stop-color="#9c1529"/>
<stop offset="0.8750" stop-color="#911429"/>
<stop offset="0.8929" stop-color="#86122a"/>
<stop offset="0.9107" stop-color="#7b102a"/>
<stop offset="0.9286" stop-color="#700f2a"/>
<stop offset="0.9464" stop-color="#630d24"/>
<stop offset="0.9643" stop-color="#560c1f"/>
<stop offset="0.9821" stop-color="#490b1a"/>
<stop offset="1.0000" stop-color="#3c0914"/>
</linearGradient></defs>
<rect x="1892.6" y="48.1" width="21.3" height="474.5" fill="url(#cbg)" stroke="#333" stroke-width="1"/>
<line x1="1908.4" y1="82.0" x2="1913.9" y2="82.0" stroke="#333" stroke-width="1"/>
<text x="1922.3" y="89.2" font-size="20.3" fill="#262626">0.6</text>
<line x1="1908.4" y1="149.8" x2="1913.9" y2="149.8" stroke="#333" stroke-width="1"/>
<text x="1922.3" y="157.0" font-size="20.3" fill="#262626">0.4</text>
<line x1="1908.4" y1="217.6" x2="1913.9" y2="217.6" stroke="#333" stroke-width="1"/>
<text x="1922.3" y="224.8" font-size="20.3" fill="#262626">0.2</text>
<line x1="1908.4" y1="285.4" x2="1913.9" y2="285.4" stroke="#333" stroke-width="1"/>
<text x="1922.3" y="292.6" font-size="20.3" fill="#262626">0</text>
<line x1="1908.4" y1="353.2" x2="1913.9" y2="353.2" stroke="#333" stroke-width="1"/>
<text x="1922.3" y="360.4" font-size="20.3" fill="#262626">-0.2</text>
<line x1="1908.4" y1="421.0" x2="1913.9" y2="421.0" stroke="#333" stroke-width="1"/>
<text x="1922.3" y="428.2" font-size="20.3" fill="#262626">-0.4</text>
<line x1="1908.4" y1="488.8" x2="1913.9" y2="488.8" stroke="#333" stroke-width="1"/>
<text x="1922.3" y="495.9" font-size="20.3" fill="#262626">-0.6</text>
<text transform="translate(1988.3,390.6) rotate(-90)" font-size="22.3" fill="#262626">correlation with Q<tspan dy="12.5" font-size="18">net</tspan></text>
<text x="17" y="23.6" font-size="32.5" font-weight="bold" fill="#000">a</text>
<text x="648.5" y="23.6" font-size="32.5" font-weight="bold" fill="#000">b</text>
<text x="1280" y="23.6" font-size="32.5" font-weight="bold" fill="#000">c</text>
<text x="37.5" y="616.6" font-size="32.5" font-weight="bold" fill="#000">d</text>
<text x="1328" y="620.3" font-size="32.5" font-weight="bold" fill="#000">e</text>
<polyline points="80.7,1123.6 102.6,1165.0 124.6,1057.8 146.5,1140.8 168.5,1155.2 190.4,1089.3 212.3,1046.6 234.3,1152.8 256.2,1075.8 278.1,1020.3 300.1,1094.1 322.0,956.4 344.0,978.1 365.9,1143.2 387.8,923.7 409.8,1041.6 431.7,931.7 453.7,1234.0 475.6,1106.9 497.5,858.7 519.5,1002.6 541.4,1003.6 563.3,1002.0 585.3,937.3 607.2,935.9 629.2,967.8 651.1,898.5 673.0,969.9 695.0,658.9 716.9,866.1 738.9,907.3 760.8,782.8 782.7,764.5 804.7,676.9 826.6,1004.9 848.5,1008.1 870.5,854.7 892.4,783.9 914.4,898.8 936.3,864.8" fill="none" stroke="#000000" stroke-width="3.7" stroke-linejoin="miter" stroke-miterlimit="6"/>
<polyline points="80.7,1167.1 102.6,1211.9 124.6,1156.7 146.5,1188.9 168.5,1178.0 190.4,1097.0 212.3,1124.1 234.3,1170.0 256.2,1171.3 278.1,1164.4 300.1,1109.5 322.0,988.8 344.0,1083.8 365.9,1136.0 387.8,1064.7 409.8,1139.2 431.7,948.7 453.7,1173.2 475.6,1077.7 497.5,1046.9 519.5,1051.9 541.4,1027.2 563.3,1048.7 585.3,1015.0 607.2,1002.6 629.2,977.9 651.1,916.3 673.0,911.5 695.0,711.9 716.9,885.0 738.9,881.8 760.8,823.4 782.7,751.2 804.7,668.2 826.6,913.6 848.5,919.5 870.5,838.8 892.4,658.3 914.4,732.6 936.3,657.0" fill="none" stroke="#d95319" stroke-width="3.7" stroke-linejoin="miter" stroke-miterlimit="6"/>
<polyline points="80.7,1107.4 102.6,1189.1 124.6,1128.6 146.5,1145.3 168.5,1159.7 190.4,1101.3 212.3,1083.2 234.3,1169.5 256.2,1163.4 278.1,1158.9 300.1,1109.5 322.0,1021.9 344.0,1032.5 365.9,1171.6 387.8,1020.9 409.8,1115.1 431.7,984.5 453.7,1205.6 475.6,1077.7 497.5,997.2 519.5,988.2 541.4,1015.0 563.3,1046.1 585.3,958.8 607.2,984.5 629.2,1000.4 651.1,922.7 673.0,946.3 695.0,747.0 716.9,804.3 738.9,883.9 760.8,828.2 782.7,783.9 804.7,651.4 826.6,877.0 848.5,875.2 870.5,803.0 892.4,767.1 914.4,828.2 936.3,809.6" fill="none" stroke="#0072bd" stroke-width="3.7" stroke-linejoin="miter" stroke-miterlimit="6"/>
<polyline points="80.7,988.2 102.6,1062.3 124.6,1005.2 146.5,1011.3 168.5,1008.4 190.4,941.5 212.3,980.0 234.3,1108.4 256.2,954.3 278.1,898.8 300.1,1004.7 322.0,879.4 344.0,892.4 365.9,1139.8 387.8,952.9 409.8,1022.5 431.7,915.0 453.7,1199.2 475.6,1029.9 497.5,829.3 519.5,918.4 541.4,1026.2 563.3,938.9 585.3,944.7 607.2,940.2 629.2,971.2 651.1,854.7 673.0,995.9 695.0,748.0 716.9,911.5 738.9,950.8 760.8,816.5 782.7,753.1 804.7,780.7 826.6,982.4 848.5,949.7 870.5,859.2 892.4,853.1 914.4,948.7 936.3,866.4" fill="none" stroke="#edb120" stroke-width="3.7" stroke-linejoin="miter" stroke-miterlimit="6"/>
<path d="M80.7,1242.2 L80.7,631.8 L936.3,631.8 L936.3,1242.2 Z" fill="none" stroke="#1a1a1a" stroke-width="1.6"/>
<line x1="80.7" y1="1215.7" x2="89.9" y2="1215.7" stroke="#1a1a1a" stroke-width="1.6"/>
<text x="69.8" y="1223.9" font-size="22.8" text-anchor="end" fill="#000">58</text>
<line x1="80.7" y1="1162.6" x2="89.9" y2="1162.6" stroke="#1a1a1a" stroke-width="1.6"/>
<text x="69.8" y="1170.8" font-size="22.8" text-anchor="end" fill="#000">60</text>
<line x1="80.7" y1="1109.5" x2="89.9" y2="1109.5" stroke="#1a1a1a" stroke-width="1.6"/>
<text x="69.8" y="1117.7" font-size="22.8" text-anchor="end" fill="#000">62</text>
<line x1="80.7" y1="1056.4" x2="89.9" y2="1056.4" stroke="#1a1a1a" stroke-width="1.6"/>
<text x="69.8" y="1064.6" font-size="22.8" text-anchor="end" fill="#000">64</text>
<line x1="80.7" y1="1003.3" x2="89.9" y2="1003.3" stroke="#1a1a1a" stroke-width="1.6"/>
<text x="69.8" y="1011.5" font-size="22.8" text-anchor="end" fill="#000">66</text>
<line x1="80.7" y1="950.3" x2="89.9" y2="950.3" stroke="#1a1a1a" stroke-width="1.6"/>
<text x="69.8" y="958.5" font-size="22.8" text-anchor="end" fill="#000">68</text>
<line x1="80.7" y1="897.2" x2="89.9" y2="897.2" stroke="#1a1a1a" stroke-width="1.6"/>
<text x="69.8" y="905.4" font-size="22.8" text-anchor="end" fill="#000">70</text>
<line x1="80.7" y1="844.1" x2="89.9" y2="844.1" stroke="#1a1a1a" stroke-width="1.6"/>
<text x="69.8" y="852.3" font-size="22.8" text-anchor="end" fill="#000">72</text>
<line x1="80.7" y1="791.0" x2="89.9" y2="791.0" stroke="#1a1a1a" stroke-width="1.6"/>
<text x="69.8" y="799.2" font-size="22.8" text-anchor="end" fill="#000">74</text>
<line x1="80.7" y1="738.0" x2="89.9" y2="738.0" stroke="#1a1a1a" stroke-width="1.6"/>
<text x="69.8" y="746.2" font-size="22.8" text-anchor="end" fill="#000">76</text>
<line x1="80.7" y1="684.9" x2="89.9" y2="684.9" stroke="#1a1a1a" stroke-width="1.6"/>
<text x="69.8" y="693.1" font-size="22.8" text-anchor="end" fill="#000">78</text>
<line x1="80.7" y1="631.8" x2="89.9" y2="631.8" stroke="#1a1a1a" stroke-width="1.6"/>
<text x="69.8" y="640.0" font-size="22.8" text-anchor="end" fill="#000">80</text>
<line x1="102.6" y1="1242.2" x2="102.6" y2="1232.7" stroke="#1a1a1a" stroke-width="1.6"/>
<text x="102.6" y="1274.8" font-size="22.8" text-anchor="middle" fill="#000">1980</text>
<line x1="212.3" y1="1242.2" x2="212.3" y2="1232.7" stroke="#1a1a1a" stroke-width="1.6"/>
<text x="212.3" y="1274.8" font-size="22.8" text-anchor="middle" fill="#000">1985</text>
<line x1="322.0" y1="1242.2" x2="322.0" y2="1232.7" stroke="#1a1a1a" stroke-width="1.6"/>
<text x="322.0" y="1274.8" font-size="22.8" text-anchor="middle" fill="#000">1990</text>
<line x1="431.7" y1="1242.2" x2="431.7" y2="1232.7" stroke="#1a1a1a" stroke-width="1.6"/>
<text x="431.7" y="1274.8" font-size="22.8" text-anchor="middle" fill="#000">1995</text>
<line x1="541.4" y1="1242.2" x2="541.4" y2="1232.7" stroke="#1a1a1a" stroke-width="1.6"/>
<text x="541.4" y="1274.8" font-size="22.8" text-anchor="middle" fill="#000">2000</text>
<line x1="651.1" y1="1242.2" x2="651.1" y2="1232.7" stroke="#1a1a1a" stroke-width="1.6"/>
<text x="651.1" y="1274.8" font-size="22.8" text-anchor="middle" fill="#000">2005</text>
<line x1="760.8" y1="1242.2" x2="760.8" y2="1232.7" stroke="#1a1a1a" stroke-width="1.6"/>
<text x="760.8" y="1274.8" font-size="22.8" text-anchor="middle" fill="#000">2010</text>
<line x1="870.5" y1="1242.2" x2="870.5" y2="1232.7" stroke="#1a1a1a" stroke-width="1.6"/>
<text x="870.5" y="1274.8" font-size="22.8" text-anchor="middle" fill="#000">2015</text>
<text x="508.6" y="1304.2" font-size="22" text-anchor="middle" fill="#000">Year</text>
<text transform="translate(24.7,939.5) rotate(-90)" font-size="23" text-anchor="middle" fill="#000">Q<tspan dy="11.5" font-size="18.2">net</tspan><tspan dy="-11.5" font-size="23"> (W m</tspan><tspan dy="-12.4" font-size="18">-</tspan><tspan dx="1.5" font-size="18">2</tspan><tspan dy="12.4" font-size="23">)</tspan></text>
<line x1="936.3" y1="631.8" x2="927.0999999999999" y2="631.8" stroke="#1a1a1a" stroke-width="1.6"/>
<text x="946.2" y="639.8" font-size="22.8" fill="#000">-0.3</text>
<line x1="936.3" y1="708.1" x2="927.0999999999999" y2="708.1" stroke="#1a1a1a" stroke-width="1.6"/>
<text x="946.2" y="716.1" font-size="22.8" fill="#000">-0.4</text>
<line x1="936.3" y1="784.4" x2="927.0999999999999" y2="784.4" stroke="#1a1a1a" stroke-width="1.6"/>
<text x="946.2" y="792.4" font-size="22.8" fill="#000">-0.5</text>
<line x1="936.3" y1="860.7" x2="927.0999999999999" y2="860.7" stroke="#1a1a1a" stroke-width="1.6"/>
<text x="946.2" y="868.7" font-size="22.8" fill="#000">-0.6</text>
<line x1="936.3" y1="937.0" x2="927.0999999999999" y2="937.0" stroke="#1a1a1a" stroke-width="1.6"/>
<text x="946.2" y="945.0" font-size="22.8" fill="#000">-0.7</text>
<line x1="936.3" y1="1013.3" x2="927.0999999999999" y2="1013.3" stroke="#1a1a1a" stroke-width="1.6"/>
<text x="946.2" y="1021.3" font-size="22.8" fill="#000">-0.8</text>
<line x1="936.3" y1="1089.6" x2="927.0999999999999" y2="1089.6" stroke="#1a1a1a" stroke-width="1.6"/>
<text x="946.2" y="1097.6" font-size="22.8" fill="#000">-0.9</text>
<line x1="936.3" y1="1165.9" x2="927.0999999999999" y2="1165.9" stroke="#1a1a1a" stroke-width="1.6"/>
<text x="946.2" y="1173.9" font-size="22.8" fill="#000">-1</text>
<line x1="936.3" y1="1242.2" x2="927.0999999999999" y2="1242.2" stroke="#1a1a1a" stroke-width="1.6"/>
<text x="946.2" y="1250.2" font-size="22.8" fill="#000">-1.1</text>
<text transform="translate(1015.2,935.5) rotate(-90)" font-size="22.6" text-anchor="middle" fill="#000">Ocean temp (<tspan dx="1.5">°</tspan><tspan dx="1">C)</tspan></text>
<line x1="1038.0" y1="631.8" x2="1038.0" y2="1242.2" stroke="#1a1a1a" stroke-width="1.3"/>
<line x1="1038.0" y1="631.8" x2="1028.0" y2="631.8" stroke="#1a1a1a" stroke-width="1.3"/>
<text x="1047.6" y="639.8" font-size="22.8" fill="#000">-3</text>
<line x1="1038.0" y1="692.8" x2="1028.0" y2="692.8" stroke="#1a1a1a" stroke-width="1.3"/>
<text x="1047.6" y="700.8" font-size="22.8" fill="#000">-3.5</text>
<line x1="1038.0" y1="753.9" x2="1028.0" y2="753.9" stroke="#1a1a1a" stroke-width="1.3"/>
<text x="1047.6" y="761.9" font-size="22.8" fill="#000">-4</text>
<line x1="1038.0" y1="814.9" x2="1028.0" y2="814.9" stroke="#1a1a1a" stroke-width="1.3"/>
<text x="1047.6" y="822.9" font-size="22.8" fill="#000">-4.5</text>
<line x1="1038.0" y1="876.0" x2="1028.0" y2="876.0" stroke="#1a1a1a" stroke-width="1.3"/>
<text x="1047.6" y="884.0" font-size="22.8" fill="#000">-5</text>
<line x1="1038.0" y1="937.0" x2="1028.0" y2="937.0" stroke="#1a1a1a" stroke-width="1.3"/>
<text x="1047.6" y="945.0" font-size="22.8" fill="#000">-5.5</text>
<line x1="1038.0" y1="998.0" x2="1028.0" y2="998.0" stroke="#1a1a1a" stroke-width="1.3"/>
<text x="1047.6" y="1006.0" font-size="22.8" fill="#000">-6</text>
<line x1="1038.0" y1="1059.1" x2="1028.0" y2="1059.1" stroke="#1a1a1a" stroke-width="1.3"/>
<text x="1047.6" y="1067.1" font-size="22.8" fill="#000">-6.5</text>
<line x1="1038.0" y1="1120.1" x2="1028.0" y2="1120.1" stroke="#1a1a1a" stroke-width="1.3"/>
<text x="1047.6" y="1128.1" font-size="22.8" fill="#000">-7</text>
<line x1="1038.0" y1="1181.2" x2="1028.0" y2="1181.2" stroke="#1a1a1a" stroke-width="1.3"/>
<text x="1047.6" y="1189.2" font-size="22.8" fill="#000">-7.5</text>
<line x1="1038.0" y1="1242.2" x2="1028.0" y2="1242.2" stroke="#1a1a1a" stroke-width="1.3"/>
<text x="1047.6" y="1250.2" font-size="22.8" fill="#000">-8</text>
<text transform="translate(1123.8,937.5) rotate(-90)" font-size="22.6" text-anchor="middle" fill="#000">Sea ice area (million km<tspan dy="-12" font-size="17.5">2</tspan><tspan dy="12" font-size="22.6">)</tspan></text>
<line x1="1139.8" y1="631.8" x2="1139.8" y2="1242.2" stroke="#1a1a1a" stroke-width="1.3"/>
<line x1="1139.8" y1="664.6" x2="1129.3" y2="664.6" stroke="#1a1a1a" stroke-width="1.3"/>
<text x="1149.6" y="672.6" font-size="22.8" fill="#000">-10</text>
<line x1="1139.8" y1="747.1" x2="1129.3" y2="747.1" stroke="#1a1a1a" stroke-width="1.3"/>
<text x="1149.6" y="755.1" font-size="22.8" fill="#000">-10.5</text>
<line x1="1139.8" y1="829.6" x2="1129.3" y2="829.6" stroke="#1a1a1a" stroke-width="1.3"/>
<text x="1149.6" y="837.6" font-size="22.8" fill="#000">-11</text>
<line x1="1139.8" y1="912.1" x2="1129.3" y2="912.1" stroke="#1a1a1a" stroke-width="1.3"/>
<text x="1149.6" y="920.1" font-size="22.8" fill="#000">-11.5</text>
<line x1="1139.8" y1="994.7" x2="1129.3" y2="994.7" stroke="#1a1a1a" stroke-width="1.3"/>
<text x="1149.6" y="1002.7" font-size="22.8" fill="#000">-12</text>
<line x1="1139.8" y1="1077.2" x2="1129.3" y2="1077.2" stroke="#1a1a1a" stroke-width="1.3"/>
<text x="1149.6" y="1085.2" font-size="22.8" fill="#000">-12.5</text>
<line x1="1139.8" y1="1159.7" x2="1129.3" y2="1159.7" stroke="#1a1a1a" stroke-width="1.3"/>
<text x="1149.6" y="1167.7" font-size="22.8" fill="#000">-13</text>
<line x1="1139.8" y1="1242.2" x2="1129.3" y2="1242.2" stroke="#1a1a1a" stroke-width="1.3"/>
<text x="1149.6" y="1250.2" font-size="22.8" fill="#000">-13.5</text>
<text transform="translate(1231.5,934.5) rotate(-90)" font-size="22.6" text-anchor="middle" fill="#000">Air temp (<tspan dx="1.5">°</tspan><tspan dx="1">C)</tspan></text>
<line x1="149.5" y1="669.4" x2="218.5" y2="669.4" stroke="#000000" stroke-width="3.8" stroke-linecap="round"/>
<line x1="149.5" y1="704" x2="218.5" y2="704" stroke="#d95319" stroke-width="3.8" stroke-linecap="round"/>
<text x="224.8" y="711.2" font-size="20.2" fill="#000">Ocean temp</text>
<line x1="149.5" y1="732.8" x2="218.5" y2="732.8" stroke="#0072bd" stroke-width="3.8" stroke-linecap="round"/>
<text x="224.8" y="740.0" font-size="20.2" fill="#000">Sea ice area</text>
<line x1="149.5" y1="762" x2="218.5" y2="762" stroke="#edb120" stroke-width="3.8" stroke-linecap="round"/>
<text x="224.8" y="769.2" font-size="20.2" fill="#000">Air temp</text>
<text x="224.8" y="673.6" font-size="20.2" fill="#000">Q<tspan dy="9.6" font-size="15.2">net</tspan></text>
<rect x="1363.5" y="631.7" width="570.7" height="610.7" fill="none" stroke="#333333" stroke-width="1.1"/>
<line x1="1648.8" y1="631.7" x2="1648.8" y2="1242.4" stroke="#333333" stroke-width="1.1"/>
<line x1="1470.5" y1="1242.4" x2="1470.5" y2="1235.6000000000001" stroke="#333333" stroke-width="1.1"/>
<line x1="1470.5" y1="631.7" x2="1470.5" y2="638.5" stroke="#333333" stroke-width="1.1"/>
<text x="1470.0" y="1279.8" font-size="26.3" font-weight="bold" text-anchor="middle" fill="#262626">-5</text>
<line x1="1648.8" y1="1242.4" x2="1648.8" y2="1235.6000000000001" stroke="#333333" stroke-width="1.1"/>
<line x1="1648.8" y1="631.7" x2="1648.8" y2="638.5" stroke="#333333" stroke-width="1.1"/>
<text x="1648.3" y="1279.8" font-size="26.3" font-weight="bold" text-anchor="middle" fill="#262626">0</text>
<line x1="1827.2" y1="1242.4" x2="1827.2" y2="1235.6000000000001" stroke="#333333" stroke-width="1.1"/>
<line x1="1827.2" y1="631.7" x2="1827.2" y2="638.5" stroke="#333333" stroke-width="1.1"/>
<text x="1826.7" y="1279.8" font-size="26.3" font-weight="bold" text-anchor="middle" fill="#262626">5</text>
<line x1="1363.5" y1="708.0" x2="1370.7" y2="708.0" stroke="#333333" stroke-width="1.1"/>
<line x1="1934.2" y1="708.0" x2="1927.0" y2="708.0" stroke="#333333" stroke-width="1.1"/>
<rect x="1648.8" y="684.9" width="112.7" height="46.2" fill="#787878" stroke="#1a1a1a" stroke-width="1"/>
<text x="1762.4" y="715.8" font-size="21.6" fill="#000">3.16</text>
<text x="1352.5" y="712.8" font-size="26.3" font-weight="bold" text-anchor="end" fill="#262626">Q<tspan dy="12.6" font-size="21">net</tspan></text>
<text x="1377.6" y="717.6" font-size="26.6" font-weight="bold" fill="#000">Corr (detrend)</text>
<line x1="1363.5" y1="784.4" x2="1370.7" y2="784.4" stroke="#333333" stroke-width="1.1"/>
<line x1="1934.2" y1="784.4" x2="1927.0" y2="784.4" stroke="#333333" stroke-width="1.1"/>
<rect x="1648.8" y="761.3" width="32.5" height="46.2" fill="#787878" stroke="#1a1a1a" stroke-width="1"/>
<text x="1682.1" y="792.2" font-size="21.6" fill="#000">0.91</text>
<text x="1352.2" y="794.0" font-size="26.3" font-weight="bold" text-anchor="end" fill="#262626">DLR</text>
<text x="1377.6" y="794.0" font-size="26.6" font-weight="bold" fill="#000">0.75</text>
<line x1="1363.5" y1="860.7" x2="1370.7" y2="860.7" stroke="#333333" stroke-width="1.1"/>
<line x1="1934.2" y1="860.7" x2="1927.0" y2="860.7" stroke="#333333" stroke-width="1.1"/>
<rect x="1618.5" y="837.6" width="30.3" height="46.2" fill="#787878" stroke="#1a1a1a" stroke-width="1"/>
<text x="1619.3" y="868.5" font-size="21.6" fill="#000">-0.85</text>
<text x="1352.2" y="870.3" font-size="26.3" font-weight="bold" text-anchor="end" fill="#262626">ULR</text>
<text x="1377.6" y="870.3" font-size="26.6" font-weight="bold" fill="#000">-0.78</text>
<line x1="1363.5" y1="937.1" x2="1370.7" y2="937.1" stroke="#333333" stroke-width="1.1"/>
<line x1="1934.2" y1="937.1" x2="1927.0" y2="937.1" stroke="#333333" stroke-width="1.1"/>
<rect x="1578.6" y="914.0" width="70.3" height="46.2" fill="#787878" stroke="#1a1a1a" stroke-width="1"/>
<text x="1579.4" y="944.9" font-size="21.6" fill="#000">-1.97</text>
<text x="1352.2" y="946.7" font-size="26.3" font-weight="bold" text-anchor="end" fill="#262626">DSR</text>
<text x="1377.6" y="946.7" font-size="26.6" font-weight="bold" fill="#000">-0.52</text>
<line x1="1363.5" y1="1013.4" x2="1370.7" y2="1013.4" stroke="#333333" stroke-width="1.1"/>
<line x1="1934.2" y1="1013.4" x2="1927.0" y2="1013.4" stroke="#333333" stroke-width="1.1"/>
<rect x="1648.8" y="990.3" width="194.0" height="46.2" fill="#787878" stroke="#1a1a1a" stroke-width="1"/>
<text x="1843.7" y="1021.2" font-size="21.6" fill="#000">5.44</text>
<text x="1352.2" y="1023.0" font-size="26.3" font-weight="bold" text-anchor="end" fill="#262626">USR</text>
<text x="1377.6" y="1023.0" font-size="26.6" font-weight="bold" fill="#000">0.84</text>
<line x1="1363.5" y1="1089.7" x2="1370.7" y2="1089.7" stroke="#333333" stroke-width="1.1"/>
<line x1="1934.2" y1="1089.7" x2="1927.0" y2="1089.7" stroke="#333333" stroke-width="1.1"/>
<rect x="1640.6" y="1066.6" width="8.2" height="46.2" fill="#787878" stroke="#1a1a1a" stroke-width="1"/>
<text x="1641.4" y="1097.5" font-size="21.6" fill="#000">-0.23</text>
<text x="1352.2" y="1099.3" font-size="26.3" font-weight="bold" text-anchor="end" fill="#262626">SHF</text>
<text x="1377.6" y="1099.3" font-size="26.6" font-weight="bold" fill="#000">0.24</text>
<line x1="1363.5" y1="1166.1" x2="1370.7" y2="1166.1" stroke="#333333" stroke-width="1.1"/>
<line x1="1934.2" y1="1166.1" x2="1927.0" y2="1166.1" stroke="#333333" stroke-width="1.1"/>
<rect x="1643.9" y="1143.0" width="5.0" height="46.2" fill="#787878" stroke="#1a1a1a" stroke-width="1"/>
<text x="1644.7" y="1173.9" font-size="21.6" fill="#000">-0.14</text>
<text x="1352.2" y="1175.7" font-size="26.3" font-weight="bold" text-anchor="end" fill="#262626">LHF</text>
<text x="1377.6" y="1175.7" font-size="26.6" font-weight="bold" fill="#000">0.83</text>
<text x="1722" y="672.5" font-size="27" font-weight="bold" text-anchor="middle" fill="#000">Trend</text>
<text x="1646.5" y="1317" font-size="22.3" text-anchor="middle" fill="#404040">Trend (W m<tspan dy="-10.5" font-size="16">-</tspan><tspan dx="2.5" font-size="16">2</tspan><tspan dy="10.5" font-size="22.3">/decade)</tspan></text>
</svg></body></html>
